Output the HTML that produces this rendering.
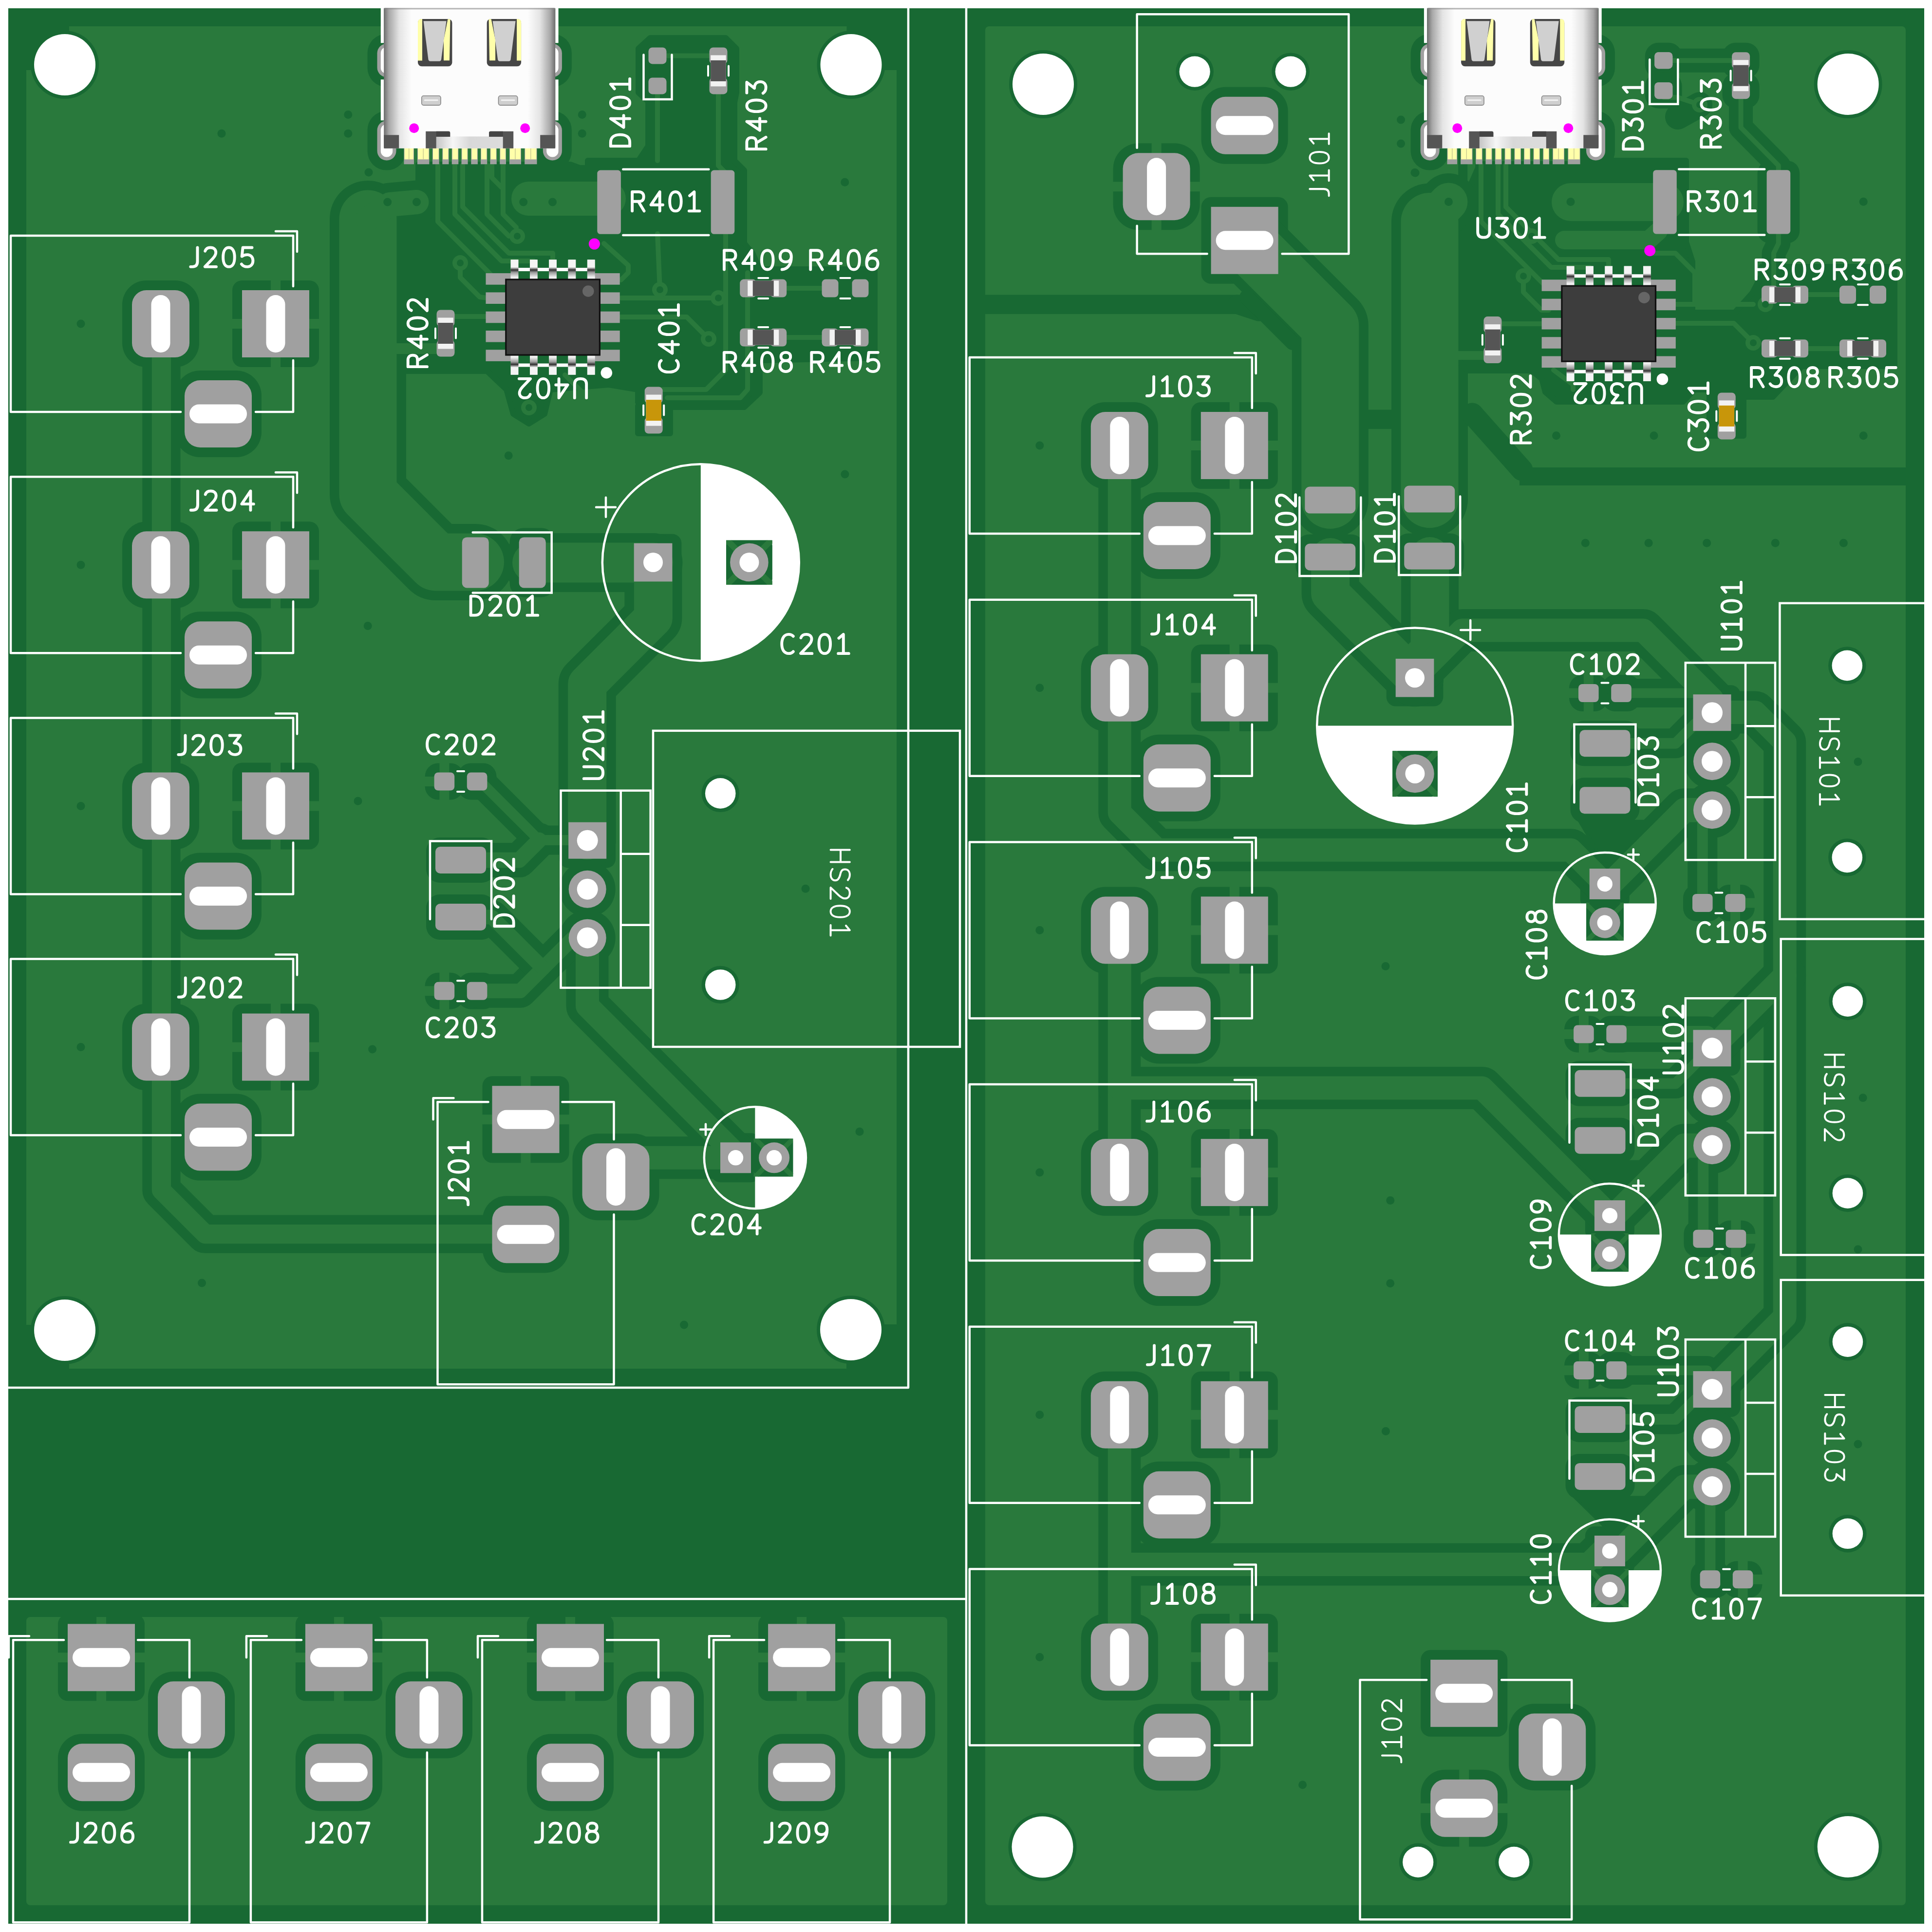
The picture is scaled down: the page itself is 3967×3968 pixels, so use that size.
<!DOCTYPE html><html><head><meta charset="utf-8"><style>html,body{margin:0;padding:0;background:#fff}svg{display:block}</style></head><body><svg width="3967" height="3968" viewBox="0 0 3967 3968">
<defs><linearGradient id="usbg" x1="0" x2="1" y1="0" y2="0"><stop offset="0" stop-color="#6e6e6e"/><stop offset="0.03" stop-color="#a8a8a8"/><stop offset="0.09" stop-color="#e4e4e4"/><stop offset="0.16" stop-color="#fcfcfc"/><stop offset="0.84" stop-color="#fcfcfc"/><stop offset="0.91" stop-color="#e4e4e4"/><stop offset="0.97" stop-color="#a8a8a8"/><stop offset="1" stop-color="#6e6e6e"/></linearGradient><linearGradient id="pinT" x1="0" x2="0" y1="0" y2="1"><stop offset="0" stop-color="#f4f4f4"/><stop offset="0.36" stop-color="#f4f4f4"/><stop offset="0.5" stop-color="#303030"/><stop offset="0.62" stop-color="#9a9a9a"/><stop offset="0.85" stop-color="#f0f0f0"/><stop offset="1" stop-color="#f4f4f4"/></linearGradient><linearGradient id="pinB" x1="0" x2="0" y1="1" y2="0"><stop offset="0" stop-color="#f4f4f4"/><stop offset="0.36" stop-color="#f4f4f4"/><stop offset="0.5" stop-color="#303030"/><stop offset="0.62" stop-color="#9a9a9a"/><stop offset="0.85" stop-color="#f0f0f0"/><stop offset="1" stop-color="#f4f4f4"/></linearGradient><linearGradient id="usbb" x1="0" x2="1"><stop offset="0" stop-color="#c4c4c4"/><stop offset="0.25" stop-color="#f6f6f6"/><stop offset="0.5" stop-color="#d8d8d8"/><stop offset="1" stop-color="#dcdcdc"/></linearGradient></defs>
<rect width="3967" height="3968" fill="#fff"/>
<rect x="17" y="17" width="3934" height="3934" fill="#186933"/>
<g id="zone">
<rect x="54.0" y="54.0" width="1787.0" height="2757.0" rx="8.0" fill="#29793c" />
<rect x="54.0" y="3321.0" width="1891.0" height="592.0" rx="8.0" fill="#29793c" />
<rect x="2023.0" y="54.0" width="1890.0" height="3859.0" rx="8.0" fill="#29793c" />
</g>
<g id="dark">
<circle cx="133.0" cy="133.0" r="70.0" fill="#186933" />
<rect x="50.0" y="50.0" width="92.0" height="94.0" fill="#186933"/>
<circle cx="1747.5" cy="133.0" r="70.0" fill="#186933" />
<rect x="1738.5" y="50.0" width="106.5" height="94.0" fill="#186933"/>
<circle cx="133.0" cy="2732.0" r="70.0" fill="#186933" />
<rect x="50.0" y="2721.0" width="92.0" height="94.0" fill="#186933"/>
<circle cx="1747.0" cy="2731.0" r="70.0" fill="#186933" />
<rect x="1738.0" y="2720.0" width="107.0" height="95.0" fill="#186933"/>
<circle cx="2142.0" cy="173.0" r="70.0" fill="#186933" />
<circle cx="3794.7" cy="173.0" r="70.0" fill="#186933" />
<circle cx="2140.5" cy="3793.6" r="70.0" fill="#186933" />
<circle cx="3794.7" cy="3793.0" r="70.0" fill="#186933" />
<rect transform="translate(566.0,665.0) rotate(0)" x="-89.0" y="-89.0" width="178" height="178" rx="20" fill="#186933"/>
<rect transform="translate(566.0,665.0) rotate(0)" x="-315.0" y="-89.0" width="158" height="178" rx="49.5" fill="#186933"/>
<rect transform="translate(566.0,665.0) rotate(0)" x="-207.0" y="96.0" width="178" height="178" rx="52" fill="#186933"/>
<rect transform="translate(566.0,1160.2) rotate(0)" x="-89.0" y="-89.0" width="178" height="178" rx="20" fill="#186933"/>
<rect transform="translate(566.0,1160.2) rotate(0)" x="-315.0" y="-89.0" width="158" height="178" rx="49.5" fill="#186933"/>
<rect transform="translate(566.0,1160.2) rotate(0)" x="-207.0" y="96.0" width="178" height="178" rx="52" fill="#186933"/>
<rect transform="translate(566.0,1655.4) rotate(0)" x="-89.0" y="-89.0" width="178" height="178" rx="20" fill="#186933"/>
<rect transform="translate(566.0,1655.4) rotate(0)" x="-315.0" y="-89.0" width="158" height="178" rx="49.5" fill="#186933"/>
<rect transform="translate(566.0,1655.4) rotate(0)" x="-207.0" y="96.0" width="178" height="178" rx="52" fill="#186933"/>
<rect transform="translate(566.0,2150.6) rotate(0)" x="-89.0" y="-89.0" width="178" height="178" rx="20" fill="#186933"/>
<rect transform="translate(566.0,2150.6) rotate(0)" x="-315.0" y="-89.0" width="158" height="178" rx="49.5" fill="#186933"/>
<rect transform="translate(566.0,2150.6) rotate(0)" x="-207.0" y="96.0" width="178" height="178" rx="52" fill="#186933"/>
<rect transform="translate(2534.8,915.0) rotate(0)" x="-89.0" y="-89.0" width="178" height="178" rx="20" fill="#186933"/>
<rect transform="translate(2534.8,915.0) rotate(0)" x="-315.0" y="-89.0" width="158" height="178" rx="49.5" fill="#186933"/>
<rect transform="translate(2534.8,915.0) rotate(0)" x="-207.0" y="96.0" width="178" height="178" rx="52" fill="#186933"/>
<rect transform="translate(2534.8,1412.7) rotate(0)" x="-89.0" y="-89.0" width="178" height="178" rx="20" fill="#186933"/>
<rect transform="translate(2534.8,1412.7) rotate(0)" x="-315.0" y="-89.0" width="158" height="178" rx="49.5" fill="#186933"/>
<rect transform="translate(2534.8,1412.7) rotate(0)" x="-207.0" y="96.0" width="178" height="178" rx="52" fill="#186933"/>
<rect transform="translate(2534.8,1910.4) rotate(0)" x="-89.0" y="-89.0" width="178" height="178" rx="20" fill="#186933"/>
<rect transform="translate(2534.8,1910.4) rotate(0)" x="-315.0" y="-89.0" width="158" height="178" rx="49.5" fill="#186933"/>
<rect transform="translate(2534.8,1910.4) rotate(0)" x="-207.0" y="96.0" width="178" height="178" rx="52" fill="#186933"/>
<rect transform="translate(2534.8,2408.1) rotate(0)" x="-89.0" y="-89.0" width="178" height="178" rx="20" fill="#186933"/>
<rect transform="translate(2534.8,2408.1) rotate(0)" x="-315.0" y="-89.0" width="158" height="178" rx="49.5" fill="#186933"/>
<rect transform="translate(2534.8,2408.1) rotate(0)" x="-207.0" y="96.0" width="178" height="178" rx="52" fill="#186933"/>
<rect transform="translate(2534.8,2905.8) rotate(0)" x="-89.0" y="-89.0" width="178" height="178" rx="20" fill="#186933"/>
<rect transform="translate(2534.8,2905.8) rotate(0)" x="-315.0" y="-89.0" width="158" height="178" rx="49.5" fill="#186933"/>
<rect transform="translate(2534.8,2905.8) rotate(0)" x="-207.0" y="96.0" width="178" height="178" rx="52" fill="#186933"/>
<rect transform="translate(2534.8,3403.5) rotate(0)" x="-89.0" y="-89.0" width="178" height="178" rx="20" fill="#186933"/>
<rect transform="translate(2534.8,3403.5) rotate(0)" x="-315.0" y="-89.0" width="158" height="178" rx="49.5" fill="#186933"/>
<rect transform="translate(2534.8,3403.5) rotate(0)" x="-207.0" y="96.0" width="178" height="178" rx="52" fill="#186933"/>
<rect transform="translate(208.0,3404.3) rotate(-90)" x="-89.0" y="-89.0" width="178" height="178" rx="20" fill="#186933"/>
<rect transform="translate(208.0,3404.3) rotate(-90)" x="-315.0" y="-89.0" width="158" height="178" rx="49.5" fill="#186933"/>
<rect transform="translate(208.0,3404.3) rotate(-90)" x="-207.0" y="96.0" width="178" height="178" rx="52" fill="#186933"/>
<rect transform="translate(695.9,3404.3) rotate(-90)" x="-89.0" y="-89.0" width="178" height="178" rx="20" fill="#186933"/>
<rect transform="translate(695.9,3404.3) rotate(-90)" x="-315.0" y="-89.0" width="158" height="178" rx="49.5" fill="#186933"/>
<rect transform="translate(695.9,3404.3) rotate(-90)" x="-207.0" y="96.0" width="178" height="178" rx="52" fill="#186933"/>
<rect transform="translate(1171.0,3404.3) rotate(-90)" x="-89.0" y="-89.0" width="178" height="178" rx="20" fill="#186933"/>
<rect transform="translate(1171.0,3404.3) rotate(-90)" x="-315.0" y="-89.0" width="158" height="178" rx="49.5" fill="#186933"/>
<rect transform="translate(1171.0,3404.3) rotate(-90)" x="-207.0" y="96.0" width="178" height="178" rx="52" fill="#186933"/>
<rect transform="translate(1646.1,3404.3) rotate(-90)" x="-89.0" y="-89.0" width="178" height="178" rx="20" fill="#186933"/>
<rect transform="translate(1646.1,3404.3) rotate(-90)" x="-315.0" y="-89.0" width="158" height="178" rx="49.5" fill="#186933"/>
<rect transform="translate(1646.1,3404.3) rotate(-90)" x="-207.0" y="96.0" width="178" height="178" rx="52" fill="#186933"/>
<rect transform="translate(1079.5,2299.2) rotate(-90)" x="-89.0" y="-89.0" width="178" height="178" rx="20" fill="#186933"/>
<rect transform="translate(1079.5,2299.2) rotate(-90)" x="-315.0" y="-89.0" width="158" height="178" rx="49.5" fill="#186933"/>
<rect transform="translate(1079.5,2299.2) rotate(-90)" x="-207.0" y="96.0" width="178" height="178" rx="52" fill="#186933"/>
<rect transform="translate(2555.6,493.8) rotate(90)" x="-89.0" y="-89.0" width="178" height="178" rx="20" fill="#186933"/>
<rect transform="translate(2555.6,493.8) rotate(90)" x="-315.0" y="-89.0" width="158" height="178" rx="49.5" fill="#186933"/>
<rect transform="translate(2555.6,493.8) rotate(90)" x="-199.5" y="92.0" width="178" height="178" rx="52" fill="#186933"/>
<circle cx="2650.1" cy="147.2" r="38.8" fill="#186933" />
<circle cx="2453.1" cy="147.2" r="38.8" fill="#186933" />
<rect transform="translate(3006.2,3477.8) rotate(-90)" x="-89.0" y="-89.0" width="178" height="178" rx="20" fill="#186933"/>
<rect transform="translate(3006.2,3477.8) rotate(-90)" x="-315.0" y="-89.0" width="158" height="178" rx="49.5" fill="#186933"/>
<rect transform="translate(3006.2,3477.8) rotate(-90)" x="-199.5" y="92.0" width="178" height="178" rx="52" fill="#186933"/>
<circle cx="2911.7" cy="3824.4" r="38.8" fill="#186933" />
<circle cx="3108.7" cy="3824.4" r="38.8" fill="#186933" />
<rect x="754.5" y="69.7" width="79.0" height="108.7" rx="39.0" fill="#186933" />
<rect x="754.5" y="228.0" width="79.0" height="121.6" rx="39.0" fill="#186933" />
<rect x="1094.9" y="69.7" width="79.0" height="108.7" rx="39.0" fill="#186933" />
<rect x="1094.9" y="228.0" width="79.0" height="121.6" rx="39.0" fill="#186933" />
<rect x="2896.6" y="69.7" width="79.0" height="108.7" rx="39.0" fill="#186933" />
<rect x="2896.6" y="228.0" width="79.0" height="121.6" rx="39.0" fill="#186933" />
<rect x="3237.0" y="69.7" width="79.0" height="108.7" rx="39.0" fill="#186933" />
<rect x="3237.0" y="228.0" width="79.0" height="121.6" rx="39.0" fill="#186933" />
<rect x="1207.3" y="330.6" width="86.6" height="169.2" rx="25.0" fill="#186933" />
<rect x="1440.7" y="330.6" width="86.6" height="169.2" rx="25.0" fill="#186933" />
<rect x="929.7" y="1084.4" width="93.0" height="142.0" rx="28.0" fill="#186933" />
<rect x="1046.7" y="1084.4" width="93.0" height="142.0" rx="28.0" fill="#186933" />
<rect x="1282.7" y="1096.7" width="116.7" height="116.7" rx="19.0" fill="#186933" />
<rect x="872.6" y="1567.5" width="79.6" height="75.0" rx="27.0" fill="#186933" />
<rect x="939.8" y="1567.5" width="79.6" height="75.0" rx="27.0" fill="#186933" />
<rect x="875.0" y="1720.0" width="142.0" height="93.0" rx="28.0" fill="#186933" />
<rect x="875.0" y="1837.0" width="142.0" height="93.0" rx="28.0" fill="#186933" />
<rect x="872.6" y="1997.8" width="79.6" height="75.0" rx="27.0" fill="#186933" />
<rect x="939.8" y="1997.8" width="79.6" height="75.0" rx="27.0" fill="#186933" />
<rect x="1148.2" y="1669.7" width="116.0" height="113.0" rx="19.0" fill="#186933" />
<circle cx="1206.2" cy="1826.2" r="57.5" fill="#186933" />
<circle cx="1206.2" cy="1926.2" r="57.5" fill="#186933" />
<circle cx="1479.2" cy="1629.4" r="38.7" fill="#186933" />
<circle cx="1479.2" cy="2022.5" r="38.7" fill="#186933" />
<rect x="1460.0" y="2327.3" width="101.0" height="101.0" rx="19.0" fill="#186933" />
<rect x="3375.2" y="330.2" width="86.6" height="169.2" rx="25.0" fill="#186933" />
<rect x="3608.6" y="330.2" width="86.6" height="169.2" rx="25.0" fill="#186933" />
<rect x="3377.8" y="87.7" width="76.0" height="73.0" rx="27.5" fill="#186933" />
<rect x="3377.8" y="149.7" width="76.0" height="73.0" rx="27.5" fill="#186933" />
<rect x="3536.6" y="87.7" width="76.0" height="73.0" rx="27.5" fill="#186933" />
<rect x="3536.6" y="149.7" width="76.0" height="73.0" rx="27.5" fill="#186933" />
<rect x="2864.2" y="978.5" width="142.0" height="93.0" rx="28.0" fill="#186933" />
<rect x="2864.2" y="1095.5" width="142.0" height="93.0" rx="28.0" fill="#186933" />
<rect x="2660.3" y="980.5" width="142.0" height="93.0" rx="28.0" fill="#186933" />
<rect x="2660.3" y="1097.5" width="142.0" height="93.0" rx="28.0" fill="#186933" />
<rect x="2846.7" y="1333.9" width="116.7" height="116.7" rx="19.0" fill="#186933" />
<rect x="3222.0" y="1386.0" width="79.6" height="75.0" rx="27.0" fill="#186933" />
<rect x="3289.2" y="1386.0" width="79.6" height="75.0" rx="27.0" fill="#186933" />
<rect x="3224.4" y="1480.3" width="142.0" height="93.0" rx="28.0" fill="#186933" />
<rect x="3224.4" y="1597.3" width="142.0" height="93.0" rx="28.0" fill="#186933" />
<rect x="3457.5" y="1407.2" width="116.0" height="113.0" rx="19.0" fill="#186933" />
<circle cx="3515.5" cy="1563.7" r="57.5" fill="#186933" />
<circle cx="3515.5" cy="1663.7" r="57.5" fill="#186933" />
<circle cx="3792.8" cy="1366.9" r="38.7" fill="#186933" />
<circle cx="3792.8" cy="1760.9" r="38.7" fill="#186933" />
<rect x="3244.7" y="1765.0" width="101.0" height="101.0" rx="19.0" fill="#186933" />
<rect x="3456.0" y="1817.0" width="79.6" height="75.0" rx="27.0" fill="#186933" />
<rect x="3523.2" y="1817.0" width="79.6" height="75.0" rx="27.0" fill="#186933" />
<rect x="3212.1" y="2086.5" width="79.6" height="75.0" rx="27.0" fill="#186933" />
<rect x="3279.3" y="2086.5" width="79.6" height="75.0" rx="27.0" fill="#186933" />
<rect x="3214.5" y="2178.8" width="142.0" height="93.0" rx="28.0" fill="#186933" />
<rect x="3214.5" y="2295.8" width="142.0" height="93.0" rx="28.0" fill="#186933" />
<rect x="3457.5" y="2096.3" width="116.0" height="113.0" rx="19.0" fill="#186933" />
<circle cx="3515.5" cy="2252.8" r="57.5" fill="#186933" />
<circle cx="3515.5" cy="2352.8" r="57.5" fill="#186933" />
<circle cx="3793.9" cy="2056.6" r="38.7" fill="#186933" />
<circle cx="3793.9" cy="2450.6" r="38.7" fill="#186933" />
<rect x="3254.9" y="2446.2" width="101.0" height="101.0" rx="19.0" fill="#186933" />
<rect x="3457.4" y="2506.7" width="79.6" height="75.0" rx="27.0" fill="#186933" />
<rect x="3524.6" y="2506.7" width="79.6" height="75.0" rx="27.0" fill="#186933" />
<rect x="3212.1" y="2776.9" width="79.6" height="75.0" rx="27.0" fill="#186933" />
<rect x="3279.3" y="2776.9" width="79.6" height="75.0" rx="27.0" fill="#186933" />
<rect x="3214.5" y="2868.9" width="142.0" height="93.0" rx="28.0" fill="#186933" />
<rect x="3214.5" y="2985.9" width="142.0" height="93.0" rx="28.0" fill="#186933" />
<rect x="3457.5" y="2797.1" width="116.0" height="113.0" rx="19.0" fill="#186933" />
<circle cx="3515.5" cy="2953.6" r="57.5" fill="#186933" />
<circle cx="3515.5" cy="3053.6" r="57.5" fill="#186933" />
<circle cx="3793.9" cy="2755.7" r="38.7" fill="#186933" />
<circle cx="3793.9" cy="3149.8" r="38.7" fill="#186933" />
<rect x="3254.9" y="3134.9" width="101.0" height="101.0" rx="19.0" fill="#186933" />
<rect x="3471.6" y="3206.3" width="79.6" height="75.0" rx="27.0" fill="#186933" />
<rect x="3538.8" y="3206.3" width="79.6" height="75.0" rx="27.0" fill="#186933" />
<path d="M331.4,665.0 L331.4,2444.6 L421.5,2534.7 L1079.5,2534.7" fill="none" stroke="#186933" stroke-width="78.3" stroke-linecap="round" stroke-linejoin="round" />
<path d="M1206.0,1926.4 L1206.0,2066.0 L1510.5,2370.5 L1510.5,2377.8" fill="none" stroke="#186933" stroke-width="87.0" stroke-linecap="round" stroke-linejoin="round" />
<path d="M1265.4,2377.8 L1510.5,2377.8" fill="none" stroke="#186933" stroke-width="87.0" stroke-linecap="round" stroke-linejoin="round" />
<path d="M980.0,1605.0 L986.4,1605.0 L1107.0,1725.6 L1206.0,1725.6" fill="none" stroke="#186933" stroke-width="60.0" stroke-linecap="round" stroke-linejoin="round" />
<path d="M990.0,1766.6 L1066.0,1766.6 L1107.0,1725.6" fill="none" stroke="#186933" stroke-width="71.0" stroke-linecap="round" stroke-linejoin="round" />
<path d="M980.0,2035.3 L1068.0,2035.3 L1177.0,1926.4 L1206.0,1926.4" fill="none" stroke="#186933" stroke-width="69.0" stroke-linecap="round" stroke-linejoin="round" />
<path d="M990.0,1883.5 L1010.0,1883.5 L1114.9,1988.4" fill="none" stroke="#186933" stroke-width="69.0" stroke-linecap="round" stroke-linejoin="round" />
<path d="M1205.7,1726.0 L1205.7,1405.0 L1341.4,1269.3 L1341.4,1155.0" fill="none" stroke="#186933" stroke-width="118.0" stroke-linecap="round" stroke-linejoin="round" />
<path d="M1093.0,1155.5 L1341.0,1155.5" fill="none" stroke="#186933" stroke-width="121.0" stroke-linecap="round" stroke-linejoin="round" />
<path d="M755.5,449.5 L755.5,1015.0 L894.9,1154.4 L976.0,1154.4" fill="none" stroke="#186933" stroke-width="157.0" stroke-linecap="round" stroke-linejoin="round" />
<path d="M2023.0,625.2 L2560.0,625.2" fill="none" stroke="#186933" stroke-width="39.4" stroke-linecap="butt" stroke-linejoin="round" />
<path d="M2540.0,625.2 L2585.0,640.0" fill="none" stroke="#186933" stroke-width="39.4" stroke-linecap="round" stroke-linejoin="round" />
<path d="M2555.6,493.8 L2731.3,669.5 L2731.3,1027.0" fill="none" stroke="#186933" stroke-width="157.0" stroke-linecap="round" stroke-linejoin="round" />
<path d="M2560.0,610.0 L2654.0,704.0" fill="none" stroke="#186933" stroke-width="30" stroke-linecap="round" stroke-linejoin="round" />
<path d="M2731.6,1144.5 L2731.6,1218.8 L2905.0,1392.2" fill="none" stroke="#186933" stroke-width="118.0" stroke-linecap="round" stroke-linejoin="round" />
<path d="M2935.5,455.0 L2935.5,1025.3" fill="none" stroke="#186933" stroke-width="157.0" stroke-linecap="round" stroke-linejoin="round" />
<path d="M2936.0,1142.4 L2936.0,1335.0 L2905.0,1366.0 L2905.0,1392.0" fill="none" stroke="#186933" stroke-width="118.0" stroke-linecap="round" stroke-linejoin="round" />
<path d="M2800.0,861.3 L2866.0,861.3" fill="none" stroke="#186933" stroke-width="39.4" stroke-linecap="butt" stroke-linejoin="round" />
<path d="M3023.0,850.0 L3125.0,965.0" fill="none" stroke="#186933" stroke-width="45" stroke-linecap="round" stroke-linejoin="round" />
<path d="M3120.0,978.5 L3913.0,978.5" fill="none" stroke="#186933" stroke-width="37" stroke-linecap="butt" stroke-linejoin="round" />
<path d="M3003.7,300.0 L3003.7,860.0" fill="none" stroke="#186933" stroke-width="19" stroke-linecap="butt" stroke-linejoin="round" />
<path d="M2298.8,915.0 L2298.8,1669.0 L2375.5,1745.7 L3225.4,1745.7 L3295.2,1815.5" fill="none" stroke="#186933" stroke-width="87.0" stroke-linecap="round" stroke-linejoin="round" />
<path d="M2298.8,1910.3 L2298.8,2408.0" fill="none" stroke="#186933" stroke-width="87.0" stroke-linecap="round" stroke-linejoin="round" />
<path d="M2298.8,2234.5 L3043.2,2234.5 L3305.4,2496.7" fill="none" stroke="#186933" stroke-width="87.0" stroke-linecap="round" stroke-linejoin="round" />
<path d="M2298.8,2905.7 L2298.8,3403.4" fill="none" stroke="#186933" stroke-width="87.0" stroke-linecap="round" stroke-linejoin="round" />
<path d="M2298.8,3213.0 L3262.0,3213.0 L3290.0,3185.4 L3305.4,3185.4" fill="none" stroke="#186933" stroke-width="87.0" stroke-linecap="round" stroke-linejoin="round" />
<path d="M2905.0,1392.2 L3002.7,1294.5 L3374.0,1294.5 L3515.5,1436.0 L3515.5,1463.7" fill="none" stroke="#186933" stroke-width="87.0" stroke-linecap="round" stroke-linejoin="round" />
<path d="M3515.5,1463.0 L3603.7,1463.0 L3664.7,1524.0 L3664.7,2704.4 L3515.5,2853.6" fill="none" stroke="#186933" stroke-width="87.0" stroke-linecap="round" stroke-linejoin="round" />
<path d="M3664.7,2003.6 L3515.5,2152.8" fill="none" stroke="#186933" stroke-width="87.0" stroke-linecap="round" stroke-linejoin="round" />
<path d="M3329.4,1423.5 L3505.5,1423.5" fill="none" stroke="#186933" stroke-width="59.0" stroke-linecap="round" stroke-linejoin="round" />
<path d="M3347.4,1526.8 L3440.5,1526.8 L3480.5,1486.8 L3515.5,1463.7" fill="none" stroke="#186933" stroke-width="61.0" stroke-linecap="round" stroke-linejoin="round" />
<path d="M3515.5,1663.7 L3495.8,1688.7 L3495.8,1854.5" fill="none" stroke="#186933" stroke-width="61.0" stroke-linecap="round" stroke-linejoin="round" />
<path d="M3515.5,1663.7 L3458.5,1663.7 L3306.7,1815.5 L3295.2,1815.5" fill="none" stroke="#186933" stroke-width="89.0" stroke-linecap="round" stroke-linejoin="round" />
<path d="M3243.4,1686.8 L3415.4,1686.8 L3297.2,1777.5Z" fill="#186933" stroke="#186933" stroke-width="6" stroke-linejoin="round"/>
<path d="M3319.5,2124.0 L3505.5,2124.0" fill="none" stroke="#186933" stroke-width="73.0" stroke-linecap="round" stroke-linejoin="round" />
<path d="M3337.5,2225.4 L3440.5,2225.4 L3480.5,2185.4 L3515.5,2152.8" fill="none" stroke="#186933" stroke-width="61.0" stroke-linecap="round" stroke-linejoin="round" />
<path d="M3515.5,2352.8 L3497.2,2377.8 L3497.2,2544.2" fill="none" stroke="#186933" stroke-width="61.0" stroke-linecap="round" stroke-linejoin="round" />
<path d="M3515.5,2352.8 L3458.5,2352.8 L3314.6,2496.7 L3305.4,2496.7" fill="none" stroke="#186933" stroke-width="89.0" stroke-linecap="round" stroke-linejoin="round" />
<path d="M3233.5,2385.7 L3405.5,2385.7 L3307.4,2458.7Z" fill="#186933" stroke="#186933" stroke-width="6" stroke-linejoin="round"/>
<path d="M3319.5,2814.4 L3505.5,2814.4" fill="none" stroke="#186933" stroke-width="59.0" stroke-linecap="round" stroke-linejoin="round" />
<path d="M3337.5,2915.0 L3440.5,2915.0 L3480.5,2875.0 L3515.5,2853.6" fill="none" stroke="#186933" stroke-width="61.0" stroke-linecap="round" stroke-linejoin="round" />
<path d="M3515.5,3053.6 L3511.4,3078.6 L3511.4,3243.8" fill="none" stroke="#186933" stroke-width="61.0" stroke-linecap="round" stroke-linejoin="round" />
<path d="M3515.5,3053.6 L3458.5,3053.6 L3326.7,3185.4 L3305.4,3185.4" fill="none" stroke="#186933" stroke-width="89.0" stroke-linecap="round" stroke-linejoin="round" />
<path d="M3233.5,3075.2 L3405.5,3075.2 L3307.4,3147.4Z" fill="#186933" stroke="#186933" stroke-width="6" stroke-linejoin="round"/>
<path d="M834.0,440.0 L859.0,440.0 L859.0,338.0 L1171.0,338.0 L1190.0,345.0 L1207.0,345.0 L1207.0,330.0 L1311.0,330.0 L1331.0,300.0 L1331.0,208.0 L1311.0,190.0 L1311.0,100.0 L1335.0,78.0 L1490.0,78.0 L1512.0,100.0 L1512.0,190.0 L1508.0,210.0 L1508.0,330.0 L1528.0,350.0 L1528.0,500.0 L1545.0,520.0 L1560.0,553.0 L1796.0,553.0 L1796.0,735.0 L1560.0,740.0 L1560.0,806.0 L1528.0,836.0 L1376.0,836.0 L1376.0,890.0 L1310.0,890.0 L1310.0,800.0 L1250.0,790.0 L1130.0,800.0 L1118.0,850.0 L1086.0,870.0 L1054.0,850.0 L1040.0,800.0 L1000.0,762.0 L834.0,762.0Z" fill="#186933" stroke="#186933" stroke-width="12" stroke-linejoin="round"/>
<path d="M2994.7,458.0 L3013.0,425.0 L3013.0,395.0 L3035.0,345.0 L3035.0,337.0 L3232.0,337.0 L3232.0,330.0 L3462.0,330.0 L3462.0,497.0 L3475.0,537.0 L3475.0,642.0 L3562.0,642.0 L3598.0,602.0 L3617.0,566.0 L3617.0,548.0 L3890.0,548.0 L3890.0,752.0 L3700.0,752.0 L3640.0,815.0 L3580.0,815.0 L3580.0,895.0 L3510.0,895.0 L3510.0,800.0 L3479.0,800.0 L3456.0,825.0 L3196.0,825.0 L3173.0,805.0 L3166.0,778.0 L3145.0,761.0 L3013.0,761.0 L2994.7,740.0Z" fill="#186933" stroke="#186933" stroke-width="12" stroke-linejoin="round"/>
<path d="M755.5,449.5 L800.0,420.0 L855.5,415.0" fill="none" stroke="#186933" stroke-width="89.0" stroke-linecap="round" stroke-linejoin="round" />
<path d="M2935.5,455.0 L2974.5,414.6" fill="none" stroke="#186933" stroke-width="117.0" stroke-linecap="round" stroke-linejoin="round" />
<path d="M3415.8,124.2 L3574.6,124.2" fill="none" stroke="#186933" stroke-width="49.0" stroke-linecap="round" stroke-linejoin="round" />
<path d="M3574.6,186.0 L3574.6,262.0 L3630.0,318.0 L3651.8,340.0 L3651.8,360.0" fill="none" stroke="#186933" stroke-width="49.0" stroke-linecap="round" stroke-linejoin="round" />
<path d="M3651.8,470.0 L3651.8,500.0 L3642.0,520.0 L3642.0,600.0" fill="none" stroke="#186933" stroke-width="49.0" stroke-linecap="round" stroke-linejoin="round" />
<path d="M3445.0,240.0 L3490.0,215.0" fill="none" stroke="#186933" stroke-width="52" stroke-linecap="round" stroke-linejoin="round" />
</g>
<g id="trace">
<rect transform="translate(566.0,665.0) rotate(0)" x="-90.0" y="-10.0" width="180" height="20" fill="#29793c"/>
<rect transform="translate(566.0,665.0) rotate(0)" x="-10.0" y="-90.0" width="20" height="180" fill="#29793c"/>
<rect transform="translate(566.0,1160.2) rotate(0)" x="-90.0" y="-10.0" width="180" height="20" fill="#29793c"/>
<rect transform="translate(566.0,1160.2) rotate(0)" x="-10.0" y="-90.0" width="20" height="180" fill="#29793c"/>
<rect transform="translate(566.0,1655.4) rotate(0)" x="-90.0" y="-10.0" width="180" height="20" fill="#29793c"/>
<rect transform="translate(566.0,1655.4) rotate(0)" x="-10.0" y="-90.0" width="20" height="180" fill="#29793c"/>
<rect transform="translate(566.0,2150.6) rotate(0)" x="-90.0" y="-10.0" width="180" height="20" fill="#29793c"/>
<rect transform="translate(566.0,2150.6) rotate(0)" x="-10.0" y="-90.0" width="20" height="180" fill="#29793c"/>
<rect transform="translate(2534.8,915.0) rotate(0)" x="-90.0" y="-10.0" width="180" height="20" fill="#29793c"/>
<rect transform="translate(2534.8,915.0) rotate(0)" x="-10.0" y="-90.0" width="20" height="180" fill="#29793c"/>
<rect transform="translate(2534.8,1412.7) rotate(0)" x="-90.0" y="-10.0" width="180" height="20" fill="#29793c"/>
<rect transform="translate(2534.8,1412.7) rotate(0)" x="-10.0" y="-90.0" width="20" height="180" fill="#29793c"/>
<rect transform="translate(2534.8,1910.4) rotate(0)" x="-90.0" y="-10.0" width="180" height="20" fill="#29793c"/>
<rect transform="translate(2534.8,1910.4) rotate(0)" x="-10.0" y="-90.0" width="20" height="180" fill="#29793c"/>
<rect transform="translate(2534.8,2408.1) rotate(0)" x="-90.0" y="-10.0" width="180" height="20" fill="#29793c"/>
<rect transform="translate(2534.8,2408.1) rotate(0)" x="-10.0" y="-90.0" width="20" height="180" fill="#29793c"/>
<rect transform="translate(2534.8,2905.8) rotate(0)" x="-90.0" y="-10.0" width="180" height="20" fill="#29793c"/>
<rect transform="translate(2534.8,2905.8) rotate(0)" x="-10.0" y="-90.0" width="20" height="180" fill="#29793c"/>
<rect transform="translate(2534.8,3403.5) rotate(0)" x="-90.0" y="-10.0" width="180" height="20" fill="#29793c"/>
<rect transform="translate(2534.8,3403.5) rotate(0)" x="-10.0" y="-90.0" width="20" height="180" fill="#29793c"/>
<rect transform="translate(208.0,3404.3) rotate(-90)" x="-90.0" y="-10.0" width="180" height="20" fill="#29793c"/>
<rect transform="translate(208.0,3404.3) rotate(-90)" x="-10.0" y="-90.0" width="20" height="180" fill="#29793c"/>
<rect transform="translate(695.9,3404.3) rotate(-90)" x="-90.0" y="-10.0" width="180" height="20" fill="#29793c"/>
<rect transform="translate(695.9,3404.3) rotate(-90)" x="-10.0" y="-90.0" width="20" height="180" fill="#29793c"/>
<rect transform="translate(1171.0,3404.3) rotate(-90)" x="-90.0" y="-10.0" width="180" height="20" fill="#29793c"/>
<rect transform="translate(1171.0,3404.3) rotate(-90)" x="-10.0" y="-90.0" width="20" height="180" fill="#29793c"/>
<rect transform="translate(1646.1,3404.3) rotate(-90)" x="-90.0" y="-10.0" width="180" height="20" fill="#29793c"/>
<rect transform="translate(1646.1,3404.3) rotate(-90)" x="-10.0" y="-90.0" width="20" height="180" fill="#29793c"/>
<rect transform="translate(1079.5,2299.2) rotate(-90)" x="-90.0" y="-10.0" width="180" height="20" fill="#29793c"/>
<rect transform="translate(1079.5,2299.2) rotate(-90)" x="-10.0" y="-90.0" width="20" height="180" fill="#29793c"/>
<rect transform="translate(2555.6,493.8) rotate(90)" x="-200.5" y="171.0" width="180" height="20" fill="#29793c"/>
<rect transform="translate(2555.6,493.8) rotate(90)" x="-120.5" y="91.0" width="20" height="180" fill="#29793c"/>
<rect transform="translate(3006.2,3477.8) rotate(-90)" x="-316.0" y="-10.0" width="160" height="20" fill="#29793c"/>
<rect transform="translate(3006.2,3477.8) rotate(-90)" x="-246.0" y="-90.0" width="20" height="180" fill="#29793c"/>
<rect x="902.4" y="1566.5" width="20.0" height="77.0" rx="0.0" fill="#29793c" />
<rect x="870.6" y="1595.0" width="41.8" height="20.0" rx="0.0" fill="#29793c" />
<rect x="902.4" y="1996.8" width="20.0" height="77.0" rx="0.0" fill="#29793c" />
<rect x="870.6" y="2025.3" width="41.8" height="20.0" rx="0.0" fill="#29793c" />
<rect x="3251.8" y="1385.0" width="20.0" height="77.0" rx="0.0" fill="#29793c" />
<rect x="3220.0" y="1413.5" width="41.8" height="20.0" rx="0.0" fill="#29793c" />
<rect x="3553.0" y="1816.0" width="20.0" height="77.0" rx="0.0" fill="#29793c" />
<rect x="3563.0" y="1844.5" width="41.8" height="20.0" rx="0.0" fill="#29793c" />
<rect x="3241.9" y="2085.5" width="20.0" height="77.0" rx="0.0" fill="#29793c" />
<rect x="3210.1" y="2114.0" width="41.8" height="20.0" rx="0.0" fill="#29793c" />
<rect x="3554.4" y="2505.7" width="20.0" height="77.0" rx="0.0" fill="#29793c" />
<rect x="3564.4" y="2534.2" width="41.8" height="20.0" rx="0.0" fill="#29793c" />
<rect x="3241.9" y="2775.9" width="20.0" height="77.0" rx="0.0" fill="#29793c" />
<rect x="3210.1" y="2804.4" width="41.8" height="20.0" rx="0.0" fill="#29793c" />
<rect x="3568.6" y="3205.3" width="20.0" height="77.0" rx="0.0" fill="#29793c" />
<rect x="3578.6" y="3233.8" width="41.8" height="20.0" rx="0.0" fill="#29793c" />
<path d="M331.4,665.0 L331.4,2444.6 L421.5,2534.7 L1079.5,2534.7" fill="none" stroke="#29793c" stroke-width="39.3" stroke-linecap="round" stroke-linejoin="round" />
<path d="M1206.0,1926.4 L1206.0,2066.0 L1510.5,2370.5 L1510.5,2377.8" fill="none" stroke="#29793c" stroke-width="48" stroke-linecap="round" stroke-linejoin="round" />
<path d="M1265.4,2377.8 L1510.5,2377.8" fill="none" stroke="#29793c" stroke-width="48" stroke-linecap="round" stroke-linejoin="round" />
<path d="M980.0,1605.0 L986.4,1605.0 L1107.0,1725.6 L1206.0,1725.6" fill="none" stroke="#29793c" stroke-width="21" stroke-linecap="round" stroke-linejoin="round" />
<path d="M990.0,1766.6 L1066.0,1766.6 L1107.0,1725.6" fill="none" stroke="#29793c" stroke-width="32" stroke-linecap="round" stroke-linejoin="round" />
<path d="M980.0,2035.3 L1068.0,2035.3 L1177.0,1926.4 L1206.0,1926.4" fill="none" stroke="#29793c" stroke-width="30" stroke-linecap="round" stroke-linejoin="round" />
<path d="M990.0,1883.5 L1010.0,1883.5 L1114.9,1988.4" fill="none" stroke="#29793c" stroke-width="30" stroke-linecap="round" stroke-linejoin="round" />
<path d="M1205.7,1726.0 L1205.7,1405.0 L1341.4,1269.3 L1341.4,1155.0" fill="none" stroke="#29793c" stroke-width="79" stroke-linecap="round" stroke-linejoin="round" />
<path d="M1093.0,1155.5 L1341.0,1155.5" fill="none" stroke="#29793c" stroke-width="82" stroke-linecap="round" stroke-linejoin="round" />
<path d="M755.5,449.5 L755.5,1015.0 L894.9,1154.4 L976.0,1154.4" fill="none" stroke="#29793c" stroke-width="118" stroke-linecap="round" stroke-linejoin="round" />
<path d="M2555.6,493.8 L2731.3,669.5 L2731.3,1027.0" fill="none" stroke="#29793c" stroke-width="118" stroke-linecap="round" stroke-linejoin="round" />
<path d="M2731.6,1144.5 L2731.6,1218.8 L2905.0,1392.2" fill="none" stroke="#29793c" stroke-width="79" stroke-linecap="round" stroke-linejoin="round" />
<path d="M2935.5,455.0 L2935.5,1025.3" fill="none" stroke="#29793c" stroke-width="118" stroke-linecap="round" stroke-linejoin="round" />
<path d="M2936.0,1142.4 L2936.0,1335.0 L2905.0,1366.0 L2905.0,1392.0" fill="none" stroke="#29793c" stroke-width="79" stroke-linecap="round" stroke-linejoin="round" />
<path d="M2298.8,915.0 L2298.8,1669.0 L2375.5,1745.7 L3225.4,1745.7 L3295.2,1815.5" fill="none" stroke="#29793c" stroke-width="48" stroke-linecap="round" stroke-linejoin="round" />
<path d="M2298.8,1910.3 L2298.8,2408.0" fill="none" stroke="#29793c" stroke-width="48" stroke-linecap="round" stroke-linejoin="round" />
<path d="M2298.8,2234.5 L3043.2,2234.5 L3305.4,2496.7" fill="none" stroke="#29793c" stroke-width="48" stroke-linecap="round" stroke-linejoin="round" />
<path d="M2298.8,2905.7 L2298.8,3403.4" fill="none" stroke="#29793c" stroke-width="48" stroke-linecap="round" stroke-linejoin="round" />
<path d="M2298.8,3213.0 L3262.0,3213.0 L3290.0,3185.4 L3305.4,3185.4" fill="none" stroke="#29793c" stroke-width="48" stroke-linecap="round" stroke-linejoin="round" />
<path d="M2905.0,1392.2 L3002.7,1294.5 L3374.0,1294.5 L3515.5,1436.0 L3515.5,1463.7" fill="none" stroke="#29793c" stroke-width="48" stroke-linecap="round" stroke-linejoin="round" />
<path d="M3515.5,1463.0 L3603.7,1463.0 L3664.7,1524.0 L3664.7,2704.4 L3515.5,2853.6" fill="none" stroke="#29793c" stroke-width="48" stroke-linecap="round" stroke-linejoin="round" />
<path d="M3664.7,2003.6 L3515.5,2152.8" fill="none" stroke="#29793c" stroke-width="48" stroke-linecap="round" stroke-linejoin="round" />
<path d="M3329.4,1423.5 L3505.5,1423.5" fill="none" stroke="#29793c" stroke-width="20" stroke-linecap="round" stroke-linejoin="round" />
<path d="M3347.4,1526.8 L3440.5,1526.8 L3480.5,1486.8 L3515.5,1463.7" fill="none" stroke="#29793c" stroke-width="22" stroke-linecap="round" stroke-linejoin="round" />
<path d="M3515.5,1663.7 L3495.8,1688.7 L3495.8,1854.5" fill="none" stroke="#29793c" stroke-width="22" stroke-linecap="round" stroke-linejoin="round" />
<path d="M3515.5,1663.7 L3458.5,1663.7 L3306.7,1815.5 L3295.2,1815.5" fill="none" stroke="#29793c" stroke-width="50" stroke-linecap="round" stroke-linejoin="round" />
<path d="M3319.5,2124.0 L3505.5,2124.0" fill="none" stroke="#29793c" stroke-width="34" stroke-linecap="round" stroke-linejoin="round" />
<path d="M3337.5,2225.4 L3440.5,2225.4 L3480.5,2185.4 L3515.5,2152.8" fill="none" stroke="#29793c" stroke-width="22" stroke-linecap="round" stroke-linejoin="round" />
<path d="M3515.5,2352.8 L3497.2,2377.8 L3497.2,2544.2" fill="none" stroke="#29793c" stroke-width="22" stroke-linecap="round" stroke-linejoin="round" />
<path d="M3515.5,2352.8 L3458.5,2352.8 L3314.6,2496.7 L3305.4,2496.7" fill="none" stroke="#29793c" stroke-width="50" stroke-linecap="round" stroke-linejoin="round" />
<path d="M3319.5,2814.4 L3505.5,2814.4" fill="none" stroke="#29793c" stroke-width="20" stroke-linecap="round" stroke-linejoin="round" />
<path d="M3337.5,2915.0 L3440.5,2915.0 L3480.5,2875.0 L3515.5,2853.6" fill="none" stroke="#29793c" stroke-width="22" stroke-linecap="round" stroke-linejoin="round" />
<path d="M3515.5,3053.6 L3511.4,3078.6 L3511.4,3243.8" fill="none" stroke="#29793c" stroke-width="22" stroke-linecap="round" stroke-linejoin="round" />
<path d="M3515.5,3053.6 L3458.5,3053.6 L3326.7,3185.4 L3305.4,3185.4" fill="none" stroke="#29793c" stroke-width="50" stroke-linecap="round" stroke-linejoin="round" />
<path d="M1085.0,408.0 L1250.0,408.0" fill="none" stroke="#29793c" stroke-width="70" stroke-linecap="round" stroke-linejoin="round" />
<path d="M3225.0,415.0 L3418.0,415.0" fill="none" stroke="#29793c" stroke-width="78" stroke-linecap="round" stroke-linejoin="round" />
<path d="M3212.0,493.0 L3385.0,493.0 L3405.0,475.0" fill="none" stroke="#29793c" stroke-width="38" stroke-linecap="round" stroke-linejoin="round" />
<path d="M755.5,449.5 L800.0,420.0 L855.5,415.0" fill="none" stroke="#29793c" stroke-width="50" stroke-linecap="round" stroke-linejoin="round" />
<path d="M2935.5,455.0 L2974.5,414.6" fill="none" stroke="#29793c" stroke-width="78" stroke-linecap="round" stroke-linejoin="round" />
<path d="M814.0,716.0 L915.0,716.0" fill="none" stroke="#29793c" stroke-width="22" stroke-linecap="butt" stroke-linejoin="round" />
<path d="M2994.0,730.0 L3064.9,730.0" fill="none" stroke="#29793c" stroke-width="18" stroke-linecap="butt" stroke-linejoin="round" />
<path d="M899.0,338.0 L899.0,455.0 L1015.0,571.0 L1056.0,571.0 L1056.0,540.0" fill="none" stroke="#29793c" stroke-width="10" stroke-linecap="round" stroke-linejoin="round" />
<path d="M934.0,338.0 L934.0,440.0 L1030.0,536.0 L1096.0,536.0" fill="none" stroke="#29793c" stroke-width="10" stroke-linecap="round" stroke-linejoin="round" />
<path d="M950.0,338.0 L950.0,425.0 L1045.0,520.0 L1135.0,520.0 L1135.0,540.0" fill="none" stroke="#29793c" stroke-width="10" stroke-linecap="round" stroke-linejoin="round" />
<path d="M1000.0,338.0 L1000.0,440.0 L1045.0,485.0" fill="none" stroke="#29793c" stroke-width="10" stroke-linecap="round" stroke-linejoin="round" />
<path d="M1010.0,338.0 L1010.0,365.0 L1030.0,385.0" fill="none" stroke="#29793c" stroke-width="10" stroke-linecap="round" stroke-linejoin="round" />
<path d="M1033.0,338.0 L1033.0,440.0 L1060.0,467.0" fill="none" stroke="#29793c" stroke-width="10" stroke-linecap="round" stroke-linejoin="round" />
<path d="M945.0,545.0 L945.0,570.0 L985.0,610.0 L1000.0,612.0" fill="none" stroke="#29793c" stroke-width="10" stroke-linecap="round" stroke-linejoin="round" />
<path d="M1020.0,650.0 L915.0,650.0" fill="none" stroke="#29793c" stroke-width="10" stroke-linecap="round" stroke-linejoin="round" />
<path d="M1275.0,612.0 L1470.0,612.0" fill="none" stroke="#29793c" stroke-width="10" stroke-linecap="round" stroke-linejoin="round" />
<path d="M1275.0,651.0 L1410.0,651.0 L1455.0,696.0" fill="none" stroke="#29793c" stroke-width="10" stroke-linecap="round" stroke-linejoin="round" />
<path d="M1350.0,190.0 L1350.0,330.0" fill="none" stroke="#29793c" stroke-width="10" stroke-linecap="round" stroke-linejoin="round" />
<path d="M1350.0,480.0 L1355.0,595.0" fill="none" stroke="#29793c" stroke-width="10" stroke-linecap="round" stroke-linejoin="round" />
<path d="M1475.0,190.0 L1475.0,340.0 L1490.0,355.0 L1490.0,760.0 L1450.0,800.0 L1360.0,800.0" fill="none" stroke="#29793c" stroke-width="10" stroke-linecap="round" stroke-linejoin="round" />
<path d="M1370.0,817.0 L1520.0,817.0 L1535.0,800.0 L1535.0,560.0" fill="none" stroke="#29793c" stroke-width="10" stroke-linecap="round" stroke-linejoin="round" />
<path d="M1240.0,500.0 L1290.0,545.0 L1290.0,560.0 L1275.0,575.0" fill="none" stroke="#29793c" stroke-width="10" stroke-linecap="round" stroke-linejoin="round" />
<path d="M1160.0,770.0 L1220.0,830.0 L1300.0,830.0" fill="none" stroke="#29793c" stroke-width="10" stroke-linecap="round" stroke-linejoin="round" />
<path d="M1600.0,592.0 L1700.0,592.0" fill="none" stroke="#29793c" stroke-width="10" stroke-linecap="round" stroke-linejoin="round" />
<path d="M1600.0,693.0 L1700.0,693.0" fill="none" stroke="#29793c" stroke-width="10" stroke-linecap="round" stroke-linejoin="round" />
<circle cx="1062.0" cy="485.0" r="16.0" fill="#29793c" />
<circle cx="1355.0" cy="595.0" r="16.0" fill="#29793c" />
<circle cx="1475.0" cy="612.0" r="16.0" fill="#29793c" />
<circle cx="1455.0" cy="696.0" r="16.0" fill="#29793c" />
<circle cx="945.0" cy="540.0" r="16.0" fill="#29793c" />
<circle cx="1086.0" cy="837.0" r="16.0" fill="#29793c" />
<path d="M3041.0,338.0 L3041.0,455.0 L3170.0,584.0 L3224.0,584.0 L3224.0,556.0" fill="none" stroke="#29793c" stroke-width="10" stroke-linecap="round" stroke-linejoin="round" />
<path d="M3076.0,338.0 L3076.0,440.0 L3185.0,549.0 L3264.0,549.0" fill="none" stroke="#29793c" stroke-width="10" stroke-linecap="round" stroke-linejoin="round" />
<path d="M3092.0,338.0 L3092.0,425.0 L3200.0,533.0 L3303.0,533.0 L3303.0,556.0" fill="none" stroke="#29793c" stroke-width="10" stroke-linecap="round" stroke-linejoin="round" />
<path d="M3128.0,572.0 L3128.0,600.0 L3165.0,637.0 L3180.0,637.0" fill="none" stroke="#29793c" stroke-width="10" stroke-linecap="round" stroke-linejoin="round" />
<path d="M3185.0,665.0 L3065.0,665.0" fill="none" stroke="#29793c" stroke-width="10" stroke-linecap="round" stroke-linejoin="round" />
<path d="M3440.0,625.0 L3600.0,625.0" fill="none" stroke="#29793c" stroke-width="10" stroke-linecap="round" stroke-linejoin="round" />
<path d="M3440.0,664.0 L3560.0,664.0 L3600.0,704.0" fill="none" stroke="#29793c" stroke-width="10" stroke-linecap="round" stroke-linejoin="round" />
<path d="M3392.0,520.0 L3440.0,520.0 L3480.0,560.0 L3480.0,625.0" fill="none" stroke="#29793c" stroke-width="10" stroke-linecap="round" stroke-linejoin="round" />
<path d="M3230.0,800.0 L3230.0,790.0 L3190.0,760.0" fill="none" stroke="#29793c" stroke-width="10" stroke-linecap="round" stroke-linejoin="round" />
<path d="M3700.0,605.0 L3790.0,605.0" fill="none" stroke="#29793c" stroke-width="10" stroke-linecap="round" stroke-linejoin="round" />
<path d="M3700.0,716.0 L3790.0,716.0" fill="none" stroke="#29793c" stroke-width="10" stroke-linecap="round" stroke-linejoin="round" />
<circle cx="3145.0" cy="485.0" r="16.0" fill="#29793c" />
<circle cx="3128.0" cy="567.0" r="16.0" fill="#29793c" />
<circle cx="3625.0" cy="625.0" r="16.0" fill="#29793c" />
<circle cx="3600.0" cy="704.0" r="16.0" fill="#29793c" />
<rect x="40" y="3290" width="1920" height="31" fill="#186933"/>
<path d="M3415.8,124.2 L3574.6,124.2" fill="none" stroke="#29793c" stroke-width="10" stroke-linecap="round" stroke-linejoin="round" />
<path d="M3574.6,186.0 L3574.6,262.0 L3630.0,318.0 L3651.8,340.0 L3651.8,360.0" fill="none" stroke="#29793c" stroke-width="10" stroke-linecap="round" stroke-linejoin="round" />
<path d="M1350.0,114.4 L1475.0,114.4" fill="none" stroke="#29793c" stroke-width="10" stroke-linecap="round" stroke-linejoin="round" />
<path d="M3651.8,470.0 L3651.8,500.0 L3642.0,520.0 L3642.0,600.0" fill="none" stroke="#29793c" stroke-width="10" stroke-linecap="round" stroke-linejoin="round" />
<circle cx="3490.0" cy="215.0" r="16.0" fill="#29793c" />
<path d="M3415.8,186.0 L3415.8,200.0 L3445.0,200.0 L3490.0,215.0" fill="none" stroke="#29793c" stroke-width="10" stroke-linecap="round" stroke-linejoin="round" />
</g>
<g id="pad">
<rect transform="translate(566.0,665.0) rotate(0)" x="-69.0" y="-69.0" width="138" height="138" rx="0" fill="#a0a0a0"/>
<rect transform="translate(566.0,665.0) rotate(0)" x="-295.0" y="-69.0" width="118" height="138" rx="29.5" fill="#a0a0a0"/>
<rect transform="translate(566.0,665.0) rotate(0)" x="-187.0" y="116.0" width="138" height="138" rx="32" fill="#a0a0a0"/>
<circle cx="166.0" cy="665.0" r="8.5" fill="#186933" />
<rect transform="translate(566.0,1160.2) rotate(0)" x="-69.0" y="-69.0" width="138" height="138" rx="0" fill="#a0a0a0"/>
<rect transform="translate(566.0,1160.2) rotate(0)" x="-295.0" y="-69.0" width="118" height="138" rx="29.5" fill="#a0a0a0"/>
<rect transform="translate(566.0,1160.2) rotate(0)" x="-187.0" y="116.0" width="138" height="138" rx="32" fill="#a0a0a0"/>
<circle cx="166.0" cy="1160.2" r="8.5" fill="#186933" />
<rect transform="translate(566.0,1655.4) rotate(0)" x="-69.0" y="-69.0" width="138" height="138" rx="0" fill="#a0a0a0"/>
<rect transform="translate(566.0,1655.4) rotate(0)" x="-295.0" y="-69.0" width="118" height="138" rx="29.5" fill="#a0a0a0"/>
<rect transform="translate(566.0,1655.4) rotate(0)" x="-187.0" y="116.0" width="138" height="138" rx="32" fill="#a0a0a0"/>
<circle cx="166.0" cy="1655.4" r="8.5" fill="#186933" />
<rect transform="translate(566.0,2150.6) rotate(0)" x="-69.0" y="-69.0" width="138" height="138" rx="0" fill="#a0a0a0"/>
<rect transform="translate(566.0,2150.6) rotate(0)" x="-295.0" y="-69.0" width="118" height="138" rx="29.5" fill="#a0a0a0"/>
<rect transform="translate(566.0,2150.6) rotate(0)" x="-187.0" y="116.0" width="138" height="138" rx="32" fill="#a0a0a0"/>
<circle cx="166.0" cy="2150.6" r="8.5" fill="#186933" />
<rect transform="translate(2534.8,915.0) rotate(0)" x="-69.0" y="-69.0" width="138" height="138" rx="0" fill="#a0a0a0"/>
<rect transform="translate(2534.8,915.0) rotate(0)" x="-295.0" y="-69.0" width="118" height="138" rx="29.5" fill="#a0a0a0"/>
<rect transform="translate(2534.8,915.0) rotate(0)" x="-187.0" y="116.0" width="138" height="138" rx="32" fill="#a0a0a0"/>
<circle cx="2134.8" cy="915.0" r="8.5" fill="#186933" />
<rect transform="translate(2534.8,1412.7) rotate(0)" x="-69.0" y="-69.0" width="138" height="138" rx="0" fill="#a0a0a0"/>
<rect transform="translate(2534.8,1412.7) rotate(0)" x="-295.0" y="-69.0" width="118" height="138" rx="29.5" fill="#a0a0a0"/>
<rect transform="translate(2534.8,1412.7) rotate(0)" x="-187.0" y="116.0" width="138" height="138" rx="32" fill="#a0a0a0"/>
<circle cx="2134.8" cy="1412.7" r="8.5" fill="#186933" />
<rect transform="translate(2534.8,1910.4) rotate(0)" x="-69.0" y="-69.0" width="138" height="138" rx="0" fill="#a0a0a0"/>
<rect transform="translate(2534.8,1910.4) rotate(0)" x="-295.0" y="-69.0" width="118" height="138" rx="29.5" fill="#a0a0a0"/>
<rect transform="translate(2534.8,1910.4) rotate(0)" x="-187.0" y="116.0" width="138" height="138" rx="32" fill="#a0a0a0"/>
<circle cx="2134.8" cy="1910.4" r="8.5" fill="#186933" />
<rect transform="translate(2534.8,2408.1) rotate(0)" x="-69.0" y="-69.0" width="138" height="138" rx="0" fill="#a0a0a0"/>
<rect transform="translate(2534.8,2408.1) rotate(0)" x="-295.0" y="-69.0" width="118" height="138" rx="29.5" fill="#a0a0a0"/>
<rect transform="translate(2534.8,2408.1) rotate(0)" x="-187.0" y="116.0" width="138" height="138" rx="32" fill="#a0a0a0"/>
<circle cx="2134.8" cy="2408.1" r="8.5" fill="#186933" />
<rect transform="translate(2534.8,2905.8) rotate(0)" x="-69.0" y="-69.0" width="138" height="138" rx="0" fill="#a0a0a0"/>
<rect transform="translate(2534.8,2905.8) rotate(0)" x="-295.0" y="-69.0" width="118" height="138" rx="29.5" fill="#a0a0a0"/>
<rect transform="translate(2534.8,2905.8) rotate(0)" x="-187.0" y="116.0" width="138" height="138" rx="32" fill="#a0a0a0"/>
<circle cx="2134.8" cy="2905.8" r="8.5" fill="#186933" />
<rect transform="translate(2534.8,3403.5) rotate(0)" x="-69.0" y="-69.0" width="138" height="138" rx="0" fill="#a0a0a0"/>
<rect transform="translate(2534.8,3403.5) rotate(0)" x="-295.0" y="-69.0" width="118" height="138" rx="29.5" fill="#a0a0a0"/>
<rect transform="translate(2534.8,3403.5) rotate(0)" x="-187.0" y="116.0" width="138" height="138" rx="32" fill="#a0a0a0"/>
<circle cx="2134.8" cy="3403.5" r="8.5" fill="#186933" />
<rect transform="translate(208.0,3404.3) rotate(-90)" x="-69.0" y="-69.0" width="138" height="138" rx="0" fill="#a0a0a0"/>
<rect transform="translate(208.0,3404.3) rotate(-90)" x="-295.0" y="-69.0" width="118" height="138" rx="29.5" fill="#a0a0a0"/>
<rect transform="translate(208.0,3404.3) rotate(-90)" x="-187.0" y="116.0" width="138" height="138" rx="32" fill="#a0a0a0"/>
<rect transform="translate(695.9,3404.3) rotate(-90)" x="-69.0" y="-69.0" width="138" height="138" rx="0" fill="#a0a0a0"/>
<rect transform="translate(695.9,3404.3) rotate(-90)" x="-295.0" y="-69.0" width="118" height="138" rx="29.5" fill="#a0a0a0"/>
<rect transform="translate(695.9,3404.3) rotate(-90)" x="-187.0" y="116.0" width="138" height="138" rx="32" fill="#a0a0a0"/>
<rect transform="translate(1171.0,3404.3) rotate(-90)" x="-69.0" y="-69.0" width="138" height="138" rx="0" fill="#a0a0a0"/>
<rect transform="translate(1171.0,3404.3) rotate(-90)" x="-295.0" y="-69.0" width="118" height="138" rx="29.5" fill="#a0a0a0"/>
<rect transform="translate(1171.0,3404.3) rotate(-90)" x="-187.0" y="116.0" width="138" height="138" rx="32" fill="#a0a0a0"/>
<rect transform="translate(1646.1,3404.3) rotate(-90)" x="-69.0" y="-69.0" width="138" height="138" rx="0" fill="#a0a0a0"/>
<rect transform="translate(1646.1,3404.3) rotate(-90)" x="-295.0" y="-69.0" width="118" height="138" rx="29.5" fill="#a0a0a0"/>
<rect transform="translate(1646.1,3404.3) rotate(-90)" x="-187.0" y="116.0" width="138" height="138" rx="32" fill="#a0a0a0"/>
<rect transform="translate(1079.5,2299.2) rotate(-90)" x="-69.0" y="-69.0" width="138" height="138" rx="0" fill="#a0a0a0"/>
<rect transform="translate(1079.5,2299.2) rotate(-90)" x="-295.0" y="-69.0" width="118" height="138" rx="29.5" fill="#a0a0a0"/>
<rect transform="translate(1079.5,2299.2) rotate(-90)" x="-187.0" y="116.0" width="138" height="138" rx="32" fill="#a0a0a0"/>
<rect transform="translate(2555.6,493.8) rotate(90)" x="-69.0" y="-69.0" width="138" height="138" rx="0" fill="#a0a0a0"/>
<rect transform="translate(2555.6,493.8) rotate(90)" x="-295.0" y="-69.0" width="118" height="138" rx="29.5" fill="#a0a0a0"/>
<rect transform="translate(2555.6,493.8) rotate(90)" x="-179.5" y="112.0" width="138" height="138" rx="32" fill="#a0a0a0"/>
<rect transform="translate(3006.2,3477.8) rotate(-90)" x="-69.0" y="-69.0" width="138" height="138" rx="0" fill="#a0a0a0"/>
<rect transform="translate(3006.2,3477.8) rotate(-90)" x="-295.0" y="-69.0" width="118" height="138" rx="29.5" fill="#a0a0a0"/>
<rect transform="translate(3006.2,3477.8) rotate(-90)" x="-179.5" y="112.0" width="138" height="138" rx="32" fill="#a0a0a0"/>
<rect x="774.5" y="89.7" width="39.0" height="68.7" rx="19.5" fill="#a0a0a0" />
<rect x="774.5" y="248.0" width="39.0" height="81.6" rx="19.5" fill="#a0a0a0" />
<rect x="1114.9" y="89.7" width="39.0" height="68.7" rx="19.5" fill="#a0a0a0" />
<rect x="1114.9" y="248.0" width="39.0" height="81.6" rx="19.5" fill="#a0a0a0" />
<rect x="2916.6" y="89.7" width="39.0" height="68.7" rx="19.5" fill="#a0a0a0" />
<rect x="2916.6" y="248.0" width="39.0" height="81.6" rx="19.5" fill="#a0a0a0" />
<rect x="3257.0" y="89.7" width="39.0" height="68.7" rx="19.5" fill="#a0a0a0" />
<rect x="3257.0" y="248.0" width="39.0" height="81.6" rx="19.5" fill="#a0a0a0" />
<rect x="1226.3" y="349.6" width="48.6" height="131.2" rx="6.5" fill="#a0a0a0" />
<rect x="1459.7" y="349.6" width="48.6" height="131.2" rx="6.5" fill="#a0a0a0" />
<rect x="1331.5" y="97.4" width="37.0" height="34.0" rx="8.0" fill="#a0a0a0" />
<rect x="1331.5" y="159.4" width="37.0" height="34.0" rx="8.0" fill="#a0a0a0" />
<rect x="1456.5" y="97.4" width="37.0" height="34.0" rx="8.0" fill="#a0a0a0" />
<rect x="1456.5" y="159.4" width="37.0" height="34.0" rx="8.0" fill="#a0a0a0" />
<rect x="997.5" y="561.1" width="52.0" height="23.6" rx="0.0" fill="#a0a0a0" />
<rect x="1220.7" y="561.1" width="52.0" height="23.6" rx="0.0" fill="#a0a0a0" />
<rect x="997.5" y="600.4" width="52.0" height="23.6" rx="0.0" fill="#a0a0a0" />
<rect x="1220.7" y="600.4" width="52.0" height="23.6" rx="0.0" fill="#a0a0a0" />
<rect x="997.5" y="639.7" width="52.0" height="23.6" rx="0.0" fill="#a0a0a0" />
<rect x="1220.7" y="639.7" width="52.0" height="23.6" rx="0.0" fill="#a0a0a0" />
<rect x="997.5" y="679.0" width="52.0" height="23.6" rx="0.0" fill="#a0a0a0" />
<rect x="1220.7" y="679.0" width="52.0" height="23.6" rx="0.0" fill="#a0a0a0" />
<rect x="997.5" y="718.3" width="52.0" height="23.6" rx="0.0" fill="#a0a0a0" />
<rect x="1220.7" y="718.3" width="52.0" height="23.6" rx="0.0" fill="#a0a0a0" />
<rect x="896.5" y="636.5" width="37.0" height="34.0" rx="8.0" fill="#a0a0a0" />
<rect x="896.5" y="698.5" width="37.0" height="34.0" rx="8.0" fill="#a0a0a0" />
<rect x="1323.7" y="794.6" width="37.0" height="34.0" rx="8.0" fill="#a0a0a0" />
<rect x="1323.7" y="856.6" width="37.0" height="34.0" rx="8.0" fill="#a0a0a0" />
<rect x="1519.2" y="573.6" width="34.0" height="37.0" rx="8.0" fill="#a0a0a0" />
<rect x="1581.2" y="573.6" width="34.0" height="37.0" rx="8.0" fill="#a0a0a0" />
<rect x="1687.5" y="573.6" width="34.0" height="37.0" rx="8.0" fill="#a0a0a0" />
<rect x="1749.5" y="573.6" width="34.0" height="37.0" rx="8.0" fill="#a0a0a0" />
<rect x="1519.2" y="674.5" width="34.0" height="37.0" rx="8.0" fill="#a0a0a0" />
<rect x="1581.2" y="674.5" width="34.0" height="37.0" rx="8.0" fill="#a0a0a0" />
<rect x="1687.5" y="674.5" width="34.0" height="37.0" rx="8.0" fill="#a0a0a0" />
<rect x="1749.5" y="674.5" width="34.0" height="37.0" rx="8.0" fill="#a0a0a0" />
<rect x="948.7" y="1103.4" width="55.0" height="104.0" rx="10.0" fill="#a0a0a0" />
<rect x="1065.7" y="1103.4" width="55.0" height="104.0" rx="10.0" fill="#a0a0a0" />
<rect x="891.6" y="1586.5" width="41.6" height="37.0" rx="8.0" fill="#a0a0a0" />
<rect x="958.8" y="1586.5" width="41.6" height="37.0" rx="8.0" fill="#a0a0a0" />
<rect x="894.0" y="1739.0" width="104.0" height="55.0" rx="10.0" fill="#a0a0a0" />
<rect x="894.0" y="1856.0" width="104.0" height="55.0" rx="10.0" fill="#a0a0a0" />
<rect x="891.6" y="2016.8" width="41.6" height="37.0" rx="8.0" fill="#a0a0a0" />
<rect x="958.8" y="2016.8" width="41.6" height="37.0" rx="8.0" fill="#a0a0a0" />
<rect x="1167.2" y="1688.7" width="78.0" height="75.0" rx="0.0" fill="#a0a0a0" />
<circle cx="1206.2" cy="1826.2" r="38.5" fill="#a0a0a0" />
<circle cx="1206.2" cy="1926.2" r="38.5" fill="#a0a0a0" />
<rect x="3394.2" y="349.2" width="48.6" height="131.2" rx="6.5" fill="#a0a0a0" />
<rect x="3627.6" y="349.2" width="48.6" height="131.2" rx="6.5" fill="#a0a0a0" />
<rect x="3397.3" y="107.2" width="37.0" height="34.0" rx="8.0" fill="#a0a0a0" />
<rect x="3397.3" y="169.2" width="37.0" height="34.0" rx="8.0" fill="#a0a0a0" />
<rect x="3397.3" y="107.2" width="37.0" height="34.0" rx="8.0" fill="#a0a0a0" />
<rect x="3397.3" y="169.2" width="37.0" height="34.0" rx="8.0" fill="#a0a0a0" />
<rect x="3556.1" y="107.2" width="37.0" height="34.0" rx="8.0" fill="#a0a0a0" />
<rect x="3556.1" y="169.2" width="37.0" height="34.0" rx="8.0" fill="#a0a0a0" />
<rect x="3165.6" y="574.3" width="52.0" height="23.6" rx="0.0" fill="#a0a0a0" />
<rect x="3388.8" y="574.3" width="52.0" height="23.6" rx="0.0" fill="#a0a0a0" />
<rect x="3165.6" y="613.6" width="52.0" height="23.6" rx="0.0" fill="#a0a0a0" />
<rect x="3388.8" y="613.6" width="52.0" height="23.6" rx="0.0" fill="#a0a0a0" />
<rect x="3165.6" y="652.9" width="52.0" height="23.6" rx="0.0" fill="#a0a0a0" />
<rect x="3388.8" y="652.9" width="52.0" height="23.6" rx="0.0" fill="#a0a0a0" />
<rect x="3165.6" y="692.2" width="52.0" height="23.6" rx="0.0" fill="#a0a0a0" />
<rect x="3388.8" y="692.2" width="52.0" height="23.6" rx="0.0" fill="#a0a0a0" />
<rect x="3165.6" y="731.5" width="52.0" height="23.6" rx="0.0" fill="#a0a0a0" />
<rect x="3388.8" y="731.5" width="52.0" height="23.6" rx="0.0" fill="#a0a0a0" />
<rect x="3046.4" y="650.1" width="37.0" height="34.0" rx="8.0" fill="#a0a0a0" />
<rect x="3046.4" y="712.1" width="37.0" height="34.0" rx="8.0" fill="#a0a0a0" />
<rect x="3526.8" y="806.4" width="37.0" height="34.0" rx="8.0" fill="#a0a0a0" />
<rect x="3526.8" y="868.4" width="37.0" height="34.0" rx="8.0" fill="#a0a0a0" />
<rect x="3617.0" y="586.8" width="34.0" height="37.0" rx="8.0" fill="#a0a0a0" />
<rect x="3679.0" y="586.8" width="34.0" height="37.0" rx="8.0" fill="#a0a0a0" />
<rect x="3777.0" y="586.8" width="34.0" height="37.0" rx="8.0" fill="#a0a0a0" />
<rect x="3839.0" y="586.8" width="34.0" height="37.0" rx="8.0" fill="#a0a0a0" />
<rect x="3617.0" y="697.2" width="34.0" height="37.0" rx="8.0" fill="#a0a0a0" />
<rect x="3679.0" y="697.2" width="34.0" height="37.0" rx="8.0" fill="#a0a0a0" />
<rect x="3777.0" y="697.2" width="34.0" height="37.0" rx="8.0" fill="#a0a0a0" />
<rect x="3839.0" y="697.2" width="34.0" height="37.0" rx="8.0" fill="#a0a0a0" />
<rect x="2883.2" y="997.5" width="104.0" height="55.0" rx="10.0" fill="#a0a0a0" />
<rect x="2883.2" y="1114.5" width="104.0" height="55.0" rx="10.0" fill="#a0a0a0" />
<rect x="2679.3" y="999.5" width="104.0" height="55.0" rx="10.0" fill="#a0a0a0" />
<rect x="2679.3" y="1116.5" width="104.0" height="55.0" rx="10.0" fill="#a0a0a0" />
<rect x="3241.0" y="1405.0" width="41.6" height="37.0" rx="8.0" fill="#a0a0a0" />
<rect x="3308.2" y="1405.0" width="41.6" height="37.0" rx="8.0" fill="#a0a0a0" />
<rect x="3243.4" y="1499.3" width="104.0" height="55.0" rx="10.0" fill="#a0a0a0" />
<rect x="3243.4" y="1616.3" width="104.0" height="55.0" rx="10.0" fill="#a0a0a0" />
<rect x="3476.5" y="1426.2" width="78.0" height="75.0" rx="0.0" fill="#a0a0a0" />
<circle cx="3515.5" cy="1563.7" r="38.5" fill="#a0a0a0" />
<circle cx="3515.5" cy="1663.7" r="38.5" fill="#a0a0a0" />
<rect x="3475.0" y="1836.0" width="41.6" height="37.0" rx="8.0" fill="#a0a0a0" />
<rect x="3542.2" y="1836.0" width="41.6" height="37.0" rx="8.0" fill="#a0a0a0" />
<rect x="3231.1" y="2105.5" width="41.6" height="37.0" rx="8.0" fill="#a0a0a0" />
<rect x="3298.3" y="2105.5" width="41.6" height="37.0" rx="8.0" fill="#a0a0a0" />
<rect x="3233.5" y="2197.8" width="104.0" height="55.0" rx="10.0" fill="#a0a0a0" />
<rect x="3233.5" y="2314.8" width="104.0" height="55.0" rx="10.0" fill="#a0a0a0" />
<rect x="3476.5" y="2115.3" width="78.0" height="75.0" rx="0.0" fill="#a0a0a0" />
<circle cx="3515.5" cy="2252.8" r="38.5" fill="#a0a0a0" />
<circle cx="3515.5" cy="2352.8" r="38.5" fill="#a0a0a0" />
<rect x="3476.4" y="2525.7" width="41.6" height="37.0" rx="8.0" fill="#a0a0a0" />
<rect x="3543.6" y="2525.7" width="41.6" height="37.0" rx="8.0" fill="#a0a0a0" />
<rect x="3231.1" y="2795.9" width="41.6" height="37.0" rx="8.0" fill="#a0a0a0" />
<rect x="3298.3" y="2795.9" width="41.6" height="37.0" rx="8.0" fill="#a0a0a0" />
<rect x="3233.5" y="2887.9" width="104.0" height="55.0" rx="10.0" fill="#a0a0a0" />
<rect x="3233.5" y="3004.9" width="104.0" height="55.0" rx="10.0" fill="#a0a0a0" />
<rect x="3476.5" y="2816.1" width="78.0" height="75.0" rx="0.0" fill="#a0a0a0" />
<circle cx="3515.5" cy="2953.6" r="38.5" fill="#a0a0a0" />
<circle cx="3515.5" cy="3053.6" r="38.5" fill="#a0a0a0" />
<rect x="3490.6" y="3225.3" width="41.6" height="37.0" rx="8.0" fill="#a0a0a0" />
<rect x="3557.8" y="3225.3" width="41.6" height="37.0" rx="8.0" fill="#a0a0a0" />
<circle cx="1062.0" cy="485.0" r="7.0" fill="#186933" />
<circle cx="1355.0" cy="595.0" r="7.0" fill="#186933" />
<circle cx="1475.0" cy="612.0" r="7.0" fill="#186933" />
<circle cx="1455.0" cy="696.0" r="7.0" fill="#186933" />
<circle cx="945.0" cy="540.0" r="7.0" fill="#186933" />
<circle cx="1086.0" cy="837.0" r="7.0" fill="#186933" />
<circle cx="3145.0" cy="485.0" r="7.0" fill="#186933" />
<circle cx="3128.0" cy="567.0" r="7.0" fill="#186933" />
<circle cx="3625.0" cy="625.0" r="7.0" fill="#186933" />
<circle cx="3600.0" cy="704.0" r="7.0" fill="#186933" />
<circle cx="795.7" cy="415.0" r="8.5" fill="#186933" />
<circle cx="855.5" cy="415.0" r="8.5" fill="#186933" />
<circle cx="1074.7" cy="415.0" r="8.5" fill="#186933" />
<circle cx="1134.5" cy="415.0" r="8.5" fill="#186933" />
<circle cx="2974.5" cy="414.6" r="8.5" fill="#186933" />
<circle cx="3225.0" cy="414.6" r="8.5" fill="#186933" />
<circle cx="2906.0" cy="355.0" r="8.5" fill="#186933" />
<circle cx="757.0" cy="354.0" r="8.5" fill="#186933" />
<circle cx="455.0" cy="274.3" r="8.5" fill="#186933" />
<circle cx="714.8" cy="235.5" r="8.5" fill="#186933" />
<circle cx="714.8" cy="274.3" r="8.5" fill="#186933" />
<circle cx="1195.3" cy="235.5" r="8.5" fill="#186933" />
<circle cx="1195.3" cy="274.3" r="8.5" fill="#186933" />
<circle cx="1044.2" cy="935.8" r="8.5" fill="#186933" />
<circle cx="1734.7" cy="374.2" r="8.5" fill="#186933" />
<circle cx="755.2" cy="1285.6" r="8.5" fill="#186933" />
<circle cx="735.0" cy="1645.3" r="8.5" fill="#186933" />
<circle cx="1734.9" cy="974.1" r="8.5" fill="#186933" />
<circle cx="1654.0" cy="1825.3" r="8.5" fill="#186933" />
<circle cx="764.6" cy="2155.0" r="8.5" fill="#186933" />
<circle cx="414.5" cy="2635.0" r="8.5" fill="#186933" />
<circle cx="1765.0" cy="2324.3" r="8.5" fill="#186933" />
<circle cx="1404.6" cy="2721.1" r="8.5" fill="#186933" />
<circle cx="2845.0" cy="1984.6" r="8.5" fill="#186933" />
<circle cx="3255.3" cy="1115.2" r="8.5" fill="#186933" />
<circle cx="3385.1" cy="1115.2" r="8.5" fill="#186933" />
<circle cx="3504.7" cy="1115.2" r="8.5" fill="#186933" />
<circle cx="3645.3" cy="1115.2" r="8.5" fill="#186933" />
<circle cx="3785.4" cy="1115.2" r="8.5" fill="#186933" />
<circle cx="3815.0" cy="1564.4" r="8.5" fill="#186933" />
<circle cx="3826.2" cy="414.2" r="8.5" fill="#186933" />
<circle cx="3195.5" cy="894.7" r="8.5" fill="#186933" />
<circle cx="3396.0" cy="894.7" r="8.5" fill="#186933" />
<circle cx="3826.2" cy="894.7" r="8.5" fill="#186933" />
<circle cx="2854.7" cy="2635.8" r="8.5" fill="#186933" />
<circle cx="2854.8" cy="2465.4" r="8.5" fill="#186933" />
<circle cx="2845.4" cy="2939.5" r="8.5" fill="#186933" />
<circle cx="2674.6" cy="3665.7" r="8.5" fill="#186933" />
<circle cx="3825.2" cy="2254.7" r="8.5" fill="#186933" />
<circle cx="3815.0" cy="2566.0" r="8.5" fill="#186933" />
<circle cx="3815.0" cy="2966.0" r="8.5" fill="#186933" />
<circle cx="2876.5" cy="245.9" r="8.5" fill="#186933" />
<circle cx="2876.5" cy="295.0" r="8.5" fill="#186933" />
<circle cx="2905.0" cy="354.6" r="8.5" fill="#186933" />
<circle cx="3490.0" cy="215.0" r="7.0" fill="#186933" />
</g>
<g id="hole">
<circle cx="133.0" cy="133.0" r="63.0" fill="#ffffff" />
<circle cx="1747.5" cy="133.0" r="63.0" fill="#ffffff" />
<circle cx="133.0" cy="2732.0" r="63.0" fill="#ffffff" />
<circle cx="1747.0" cy="2731.0" r="63.0" fill="#ffffff" />
<circle cx="2142.0" cy="173.0" r="63.0" fill="#ffffff" />
<circle cx="3794.7" cy="173.0" r="63.0" fill="#ffffff" />
<circle cx="2140.5" cy="3793.6" r="63.0" fill="#ffffff" />
<circle cx="3794.7" cy="3793.0" r="63.0" fill="#ffffff" />
<rect transform="translate(566.0,665.0) rotate(0)" x="-19.5" y="-59.0" width="39" height="118" rx="19.5" fill="#ffffff"/>
<rect transform="translate(566.0,665.0) rotate(0)" x="-255.5" y="-59.0" width="39" height="118" rx="19.5" fill="#ffffff"/>
<rect transform="translate(566.0,665.0) rotate(0)" x="-177.0" y="165.5" width="118" height="39" rx="19.5" fill="#ffffff"/>
<rect transform="translate(566.0,1160.2) rotate(0)" x="-19.5" y="-59.0" width="39" height="118" rx="19.5" fill="#ffffff"/>
<rect transform="translate(566.0,1160.2) rotate(0)" x="-255.5" y="-59.0" width="39" height="118" rx="19.5" fill="#ffffff"/>
<rect transform="translate(566.0,1160.2) rotate(0)" x="-177.0" y="165.5" width="118" height="39" rx="19.5" fill="#ffffff"/>
<rect transform="translate(566.0,1655.4) rotate(0)" x="-19.5" y="-59.0" width="39" height="118" rx="19.5" fill="#ffffff"/>
<rect transform="translate(566.0,1655.4) rotate(0)" x="-255.5" y="-59.0" width="39" height="118" rx="19.5" fill="#ffffff"/>
<rect transform="translate(566.0,1655.4) rotate(0)" x="-177.0" y="165.5" width="118" height="39" rx="19.5" fill="#ffffff"/>
<rect transform="translate(566.0,2150.6) rotate(0)" x="-19.5" y="-59.0" width="39" height="118" rx="19.5" fill="#ffffff"/>
<rect transform="translate(566.0,2150.6) rotate(0)" x="-255.5" y="-59.0" width="39" height="118" rx="19.5" fill="#ffffff"/>
<rect transform="translate(566.0,2150.6) rotate(0)" x="-177.0" y="165.5" width="118" height="39" rx="19.5" fill="#ffffff"/>
<rect transform="translate(2534.8,915.0) rotate(0)" x="-19.5" y="-59.0" width="39" height="118" rx="19.5" fill="#ffffff"/>
<rect transform="translate(2534.8,915.0) rotate(0)" x="-255.5" y="-59.0" width="39" height="118" rx="19.5" fill="#ffffff"/>
<rect transform="translate(2534.8,915.0) rotate(0)" x="-177.0" y="165.5" width="118" height="39" rx="19.5" fill="#ffffff"/>
<rect transform="translate(2534.8,1412.7) rotate(0)" x="-19.5" y="-59.0" width="39" height="118" rx="19.5" fill="#ffffff"/>
<rect transform="translate(2534.8,1412.7) rotate(0)" x="-255.5" y="-59.0" width="39" height="118" rx="19.5" fill="#ffffff"/>
<rect transform="translate(2534.8,1412.7) rotate(0)" x="-177.0" y="165.5" width="118" height="39" rx="19.5" fill="#ffffff"/>
<rect transform="translate(2534.8,1910.4) rotate(0)" x="-19.5" y="-59.0" width="39" height="118" rx="19.5" fill="#ffffff"/>
<rect transform="translate(2534.8,1910.4) rotate(0)" x="-255.5" y="-59.0" width="39" height="118" rx="19.5" fill="#ffffff"/>
<rect transform="translate(2534.8,1910.4) rotate(0)" x="-177.0" y="165.5" width="118" height="39" rx="19.5" fill="#ffffff"/>
<rect transform="translate(2534.8,2408.1) rotate(0)" x="-19.5" y="-59.0" width="39" height="118" rx="19.5" fill="#ffffff"/>
<rect transform="translate(2534.8,2408.1) rotate(0)" x="-255.5" y="-59.0" width="39" height="118" rx="19.5" fill="#ffffff"/>
<rect transform="translate(2534.8,2408.1) rotate(0)" x="-177.0" y="165.5" width="118" height="39" rx="19.5" fill="#ffffff"/>
<rect transform="translate(2534.8,2905.8) rotate(0)" x="-19.5" y="-59.0" width="39" height="118" rx="19.5" fill="#ffffff"/>
<rect transform="translate(2534.8,2905.8) rotate(0)" x="-255.5" y="-59.0" width="39" height="118" rx="19.5" fill="#ffffff"/>
<rect transform="translate(2534.8,2905.8) rotate(0)" x="-177.0" y="165.5" width="118" height="39" rx="19.5" fill="#ffffff"/>
<rect transform="translate(2534.8,3403.5) rotate(0)" x="-19.5" y="-59.0" width="39" height="118" rx="19.5" fill="#ffffff"/>
<rect transform="translate(2534.8,3403.5) rotate(0)" x="-255.5" y="-59.0" width="39" height="118" rx="19.5" fill="#ffffff"/>
<rect transform="translate(2534.8,3403.5) rotate(0)" x="-177.0" y="165.5" width="118" height="39" rx="19.5" fill="#ffffff"/>
<rect transform="translate(208.0,3404.3) rotate(-90)" x="-19.5" y="-59.0" width="39" height="118" rx="19.5" fill="#ffffff"/>
<rect transform="translate(208.0,3404.3) rotate(-90)" x="-255.5" y="-59.0" width="39" height="118" rx="19.5" fill="#ffffff"/>
<rect transform="translate(208.0,3404.3) rotate(-90)" x="-177.0" y="165.5" width="118" height="39" rx="19.5" fill="#ffffff"/>
<rect transform="translate(695.9,3404.3) rotate(-90)" x="-19.5" y="-59.0" width="39" height="118" rx="19.5" fill="#ffffff"/>
<rect transform="translate(695.9,3404.3) rotate(-90)" x="-255.5" y="-59.0" width="39" height="118" rx="19.5" fill="#ffffff"/>
<rect transform="translate(695.9,3404.3) rotate(-90)" x="-177.0" y="165.5" width="118" height="39" rx="19.5" fill="#ffffff"/>
<rect transform="translate(1171.0,3404.3) rotate(-90)" x="-19.5" y="-59.0" width="39" height="118" rx="19.5" fill="#ffffff"/>
<rect transform="translate(1171.0,3404.3) rotate(-90)" x="-255.5" y="-59.0" width="39" height="118" rx="19.5" fill="#ffffff"/>
<rect transform="translate(1171.0,3404.3) rotate(-90)" x="-177.0" y="165.5" width="118" height="39" rx="19.5" fill="#ffffff"/>
<rect transform="translate(1646.1,3404.3) rotate(-90)" x="-19.5" y="-59.0" width="39" height="118" rx="19.5" fill="#ffffff"/>
<rect transform="translate(1646.1,3404.3) rotate(-90)" x="-255.5" y="-59.0" width="39" height="118" rx="19.5" fill="#ffffff"/>
<rect transform="translate(1646.1,3404.3) rotate(-90)" x="-177.0" y="165.5" width="118" height="39" rx="19.5" fill="#ffffff"/>
<rect transform="translate(1079.5,2299.2) rotate(-90)" x="-19.5" y="-59.0" width="39" height="118" rx="19.5" fill="#ffffff"/>
<rect transform="translate(1079.5,2299.2) rotate(-90)" x="-255.5" y="-59.0" width="39" height="118" rx="19.5" fill="#ffffff"/>
<rect transform="translate(1079.5,2299.2) rotate(-90)" x="-177.0" y="165.5" width="118" height="39" rx="19.5" fill="#ffffff"/>
<rect transform="translate(2555.6,493.8) rotate(90)" x="-19.5" y="-59.0" width="39" height="118" rx="19.5" fill="#ffffff"/>
<rect transform="translate(2555.6,493.8) rotate(90)" x="-255.5" y="-59.0" width="39" height="118" rx="19.5" fill="#ffffff"/>
<rect transform="translate(2555.6,493.8) rotate(90)" x="-169.5" y="161.5" width="118" height="39" rx="19.5" fill="#ffffff"/>
<circle cx="2650.1" cy="147.2" r="31.6" fill="#ffffff" />
<circle cx="2453.1" cy="147.2" r="31.6" fill="#ffffff" />
<rect transform="translate(3006.2,3477.8) rotate(-90)" x="-19.5" y="-59.0" width="39" height="118" rx="19.5" fill="#ffffff"/>
<rect transform="translate(3006.2,3477.8) rotate(-90)" x="-255.5" y="-59.0" width="39" height="118" rx="19.5" fill="#ffffff"/>
<rect transform="translate(3006.2,3477.8) rotate(-90)" x="-169.5" y="161.5" width="118" height="39" rx="19.5" fill="#ffffff"/>
<circle cx="2911.7" cy="3824.4" r="31.6" fill="#ffffff" />
<circle cx="3108.7" cy="3824.4" r="31.6" fill="#ffffff" />
<rect x="781.8" y="96.7" width="24.4" height="54.7" rx="12.2" fill="#ffffff" />
<rect x="781.8" y="255.0" width="24.4" height="67.6" rx="12.2" fill="#ffffff" />
<rect x="1122.2" y="96.7" width="24.4" height="54.7" rx="12.2" fill="#ffffff" />
<rect x="1122.2" y="255.0" width="24.4" height="67.6" rx="12.2" fill="#ffffff" />
<rect x="2923.9" y="96.7" width="24.4" height="54.7" rx="12.2" fill="#ffffff" />
<rect x="2923.9" y="255.0" width="24.4" height="67.6" rx="12.2" fill="#ffffff" />
<rect x="3264.3" y="96.7" width="24.4" height="54.7" rx="12.2" fill="#ffffff" />
<rect x="3264.3" y="255.0" width="24.4" height="67.6" rx="12.2" fill="#ffffff" />
<circle cx="1206.2" cy="1726.2" r="21.5" fill="#ffffff" />
<circle cx="1206.2" cy="1826.2" r="21.5" fill="#ffffff" />
<circle cx="1206.2" cy="1926.2" r="21.5" fill="#ffffff" />
<circle cx="1479.2" cy="1629.4" r="31.3" fill="#ffffff" />
<circle cx="1479.2" cy="2022.5" r="31.3" fill="#ffffff" />
<circle cx="3515.5" cy="1463.7" r="21.5" fill="#ffffff" />
<circle cx="3515.5" cy="1563.7" r="21.5" fill="#ffffff" />
<circle cx="3515.5" cy="1663.7" r="21.5" fill="#ffffff" />
<circle cx="3792.8" cy="1366.9" r="31.3" fill="#ffffff" />
<circle cx="3792.8" cy="1760.9" r="31.3" fill="#ffffff" />
<circle cx="3515.5" cy="2152.8" r="21.5" fill="#ffffff" />
<circle cx="3515.5" cy="2252.8" r="21.5" fill="#ffffff" />
<circle cx="3515.5" cy="2352.8" r="21.5" fill="#ffffff" />
<circle cx="3793.9" cy="2056.6" r="31.3" fill="#ffffff" />
<circle cx="3793.9" cy="2450.6" r="31.3" fill="#ffffff" />
<circle cx="3515.5" cy="2853.6" r="21.5" fill="#ffffff" />
<circle cx="3515.5" cy="2953.6" r="21.5" fill="#ffffff" />
<circle cx="3515.5" cy="3053.6" r="21.5" fill="#ffffff" />
<circle cx="3793.9" cy="2755.7" r="31.3" fill="#ffffff" />
<circle cx="3793.9" cy="3149.8" r="31.3" fill="#ffffff" />
</g>
<g id="silk">
<path d="M602.0,484.0 L22.0,484.0 L22.0,846.0 L371.0,846.0" fill="none" stroke="#ffffff" stroke-width="4.5" stroke-linecap="round" stroke-linejoin="round" />
<path d="M525.0,846.0 L602.0,846.0 L602.0,740.0" fill="none" stroke="#ffffff" stroke-width="4.5" stroke-linecap="round" stroke-linejoin="round" />
<path d="M602.0,588.0 L602.0,484.0" fill="none" stroke="#ffffff" stroke-width="4.5" stroke-linecap="round" stroke-linejoin="round" />
<path d="M566.0,475.0 L610.0,475.0 L610.0,517.0" fill="none" stroke="#ffffff" stroke-width="4.5" stroke-linecap="round" stroke-linejoin="round" />
<g transform="translate(454.6,528.2) rotate(0) scale(39.30)" fill="none" stroke="#ffffff" stroke-width="0.1501" stroke-linecap="round" stroke-linejoin="round"><path transform="translate(-1.650,-0.5)" d="M.4,0V.72C.4,.92 .3,1 .14,1H.04"/><path transform="translate(-0.870,-0.5)" d="M.02,.18C.06,.06 .16,0 .3,0C.47,0 .58,.1 .58,.25C.58,.37 .52,.46 .42,.57L.01,1H.6"/><path transform="translate(0.090,-0.5)" d="M.3,0C.1,0 0,.2 0,.5C0,.8 .1,1 .3,1C.5,1 .6,.8 .6,.5C.6,.2 .5,0 .3,0Z"/><path transform="translate(1.050,-0.5)" d="M.55,0H.07L.02,.46C.1,.4 .18,.37 .3,.37C.48,.37 .6,.5 .6,.68C.6,.88 .48,1 .3,1C.16,1 .06,.95 0,.86"/></g>
<path d="M602.0,979.2 L22.0,979.2 L22.0,1341.2 L371.0,1341.2" fill="none" stroke="#ffffff" stroke-width="4.5" stroke-linecap="round" stroke-linejoin="round" />
<path d="M525.0,1341.2 L602.0,1341.2 L602.0,1235.2" fill="none" stroke="#ffffff" stroke-width="4.5" stroke-linecap="round" stroke-linejoin="round" />
<path d="M602.0,1083.2 L602.0,979.2" fill="none" stroke="#ffffff" stroke-width="4.5" stroke-linecap="round" stroke-linejoin="round" />
<path d="M566.0,970.2 L610.0,970.2 L610.0,1012.2" fill="none" stroke="#ffffff" stroke-width="4.5" stroke-linecap="round" stroke-linejoin="round" />
<g transform="translate(455.5,1028.1) rotate(0) scale(39.30)" fill="none" stroke="#ffffff" stroke-width="0.1501" stroke-linecap="round" stroke-linejoin="round"><path transform="translate(-1.660,-0.5)" d="M.4,0V.72C.4,.92 .3,1 .14,1H.04"/><path transform="translate(-0.880,-0.5)" d="M.02,.18C.06,.06 .16,0 .3,0C.47,0 .58,.1 .58,.25C.58,.37 .52,.46 .42,.57L.01,1H.6"/><path transform="translate(0.080,-0.5)" d="M.3,0C.1,0 0,.2 0,.5C0,.8 .1,1 .3,1C.5,1 .6,.8 .6,.5C.6,.2 .5,0 .3,0Z"/><path transform="translate(1.040,-0.5)" d="M.46,1V0L0,.68H.62"/></g>
<path d="M602.0,1474.4 L22.0,1474.4 L22.0,1836.4 L371.0,1836.4" fill="none" stroke="#ffffff" stroke-width="4.5" stroke-linecap="round" stroke-linejoin="round" />
<path d="M525.0,1836.4 L602.0,1836.4 L602.0,1730.4" fill="none" stroke="#ffffff" stroke-width="4.5" stroke-linecap="round" stroke-linejoin="round" />
<path d="M602.0,1578.4 L602.0,1474.4" fill="none" stroke="#ffffff" stroke-width="4.5" stroke-linecap="round" stroke-linejoin="round" />
<path d="M566.0,1465.4 L610.0,1465.4 L610.0,1507.4" fill="none" stroke="#ffffff" stroke-width="4.5" stroke-linecap="round" stroke-linejoin="round" />
<g transform="translate(429.6,1530.2) rotate(0) scale(39.30)" fill="none" stroke="#ffffff" stroke-width="0.1501" stroke-linecap="round" stroke-linejoin="round"><path transform="translate(-1.650,-0.5)" d="M.4,0V.72C.4,.92 .3,1 .14,1H.04"/><path transform="translate(-0.870,-0.5)" d="M.02,.18C.06,.06 .16,0 .3,0C.47,0 .58,.1 .58,.25C.58,.37 .52,.46 .42,.57L.01,1H.6"/><path transform="translate(0.090,-0.5)" d="M.3,0C.1,0 0,.2 0,.5C0,.8 .1,1 .3,1C.5,1 .6,.8 .6,.5C.6,.2 .5,0 .3,0Z"/><path transform="translate(1.050,-0.5)" d="M.02,0H.57L.26,.4C.46,.4 .6,.5 .6,.7C.6,.9 .47,1 .3,1C.16,1 .06,.95 0,.85"/></g>
<path d="M602.0,1969.6 L22.0,1969.6 L22.0,2331.6 L371.0,2331.6" fill="none" stroke="#ffffff" stroke-width="4.5" stroke-linecap="round" stroke-linejoin="round" />
<path d="M525.0,2331.6 L602.0,2331.6 L602.0,2225.6" fill="none" stroke="#ffffff" stroke-width="4.5" stroke-linecap="round" stroke-linejoin="round" />
<path d="M602.0,2073.6 L602.0,1969.6" fill="none" stroke="#ffffff" stroke-width="4.5" stroke-linecap="round" stroke-linejoin="round" />
<path d="M566.0,1960.6 L610.0,1960.6 L610.0,2002.6" fill="none" stroke="#ffffff" stroke-width="4.5" stroke-linecap="round" stroke-linejoin="round" />
<g transform="translate(429.9,2028.1) rotate(0) scale(39.30)" fill="none" stroke="#ffffff" stroke-width="0.1501" stroke-linecap="round" stroke-linejoin="round"><path transform="translate(-1.650,-0.5)" d="M.4,0V.72C.4,.92 .3,1 .14,1H.04"/><path transform="translate(-0.870,-0.5)" d="M.02,.18C.06,.06 .16,0 .3,0C.47,0 .58,.1 .58,.25C.58,.37 .52,.46 .42,.57L.01,1H.6"/><path transform="translate(0.090,-0.5)" d="M.3,0C.1,0 0,.2 0,.5C0,.8 .1,1 .3,1C.5,1 .6,.8 .6,.5C.6,.2 .5,0 .3,0Z"/><path transform="translate(1.050,-0.5)" d="M.02,.18C.06,.06 .16,0 .3,0C.47,0 .58,.1 .58,.25C.58,.37 .52,.46 .42,.57L.01,1H.6"/></g>
<path d="M2570.8,734.0 L1990.8,734.0 L1990.8,1096.0 L2339.8,1096.0" fill="none" stroke="#ffffff" stroke-width="4.5" stroke-linecap="round" stroke-linejoin="round" />
<path d="M2493.8,1096.0 L2570.8,1096.0 L2570.8,990.0" fill="none" stroke="#ffffff" stroke-width="4.5" stroke-linecap="round" stroke-linejoin="round" />
<path d="M2570.8,838.0 L2570.8,734.0" fill="none" stroke="#ffffff" stroke-width="4.5" stroke-linecap="round" stroke-linejoin="round" />
<path d="M2534.8,725.0 L2578.8,725.0 L2578.8,767.0" fill="none" stroke="#ffffff" stroke-width="4.5" stroke-linecap="round" stroke-linejoin="round" />
<g transform="translate(2418.2,793.3) rotate(0) scale(39.30)" fill="none" stroke="#ffffff" stroke-width="0.1501" stroke-linecap="round" stroke-linejoin="round"><path transform="translate(-1.650,-0.5)" d="M.4,0V.72C.4,.92 .3,1 .14,1H.04"/><path transform="translate(-0.870,-0.5)" d="M.08,.2L.32,0V1M.05,1H.6"/><path transform="translate(0.090,-0.5)" d="M.3,0C.1,0 0,.2 0,.5C0,.8 .1,1 .3,1C.5,1 .6,.8 .6,.5C.6,.2 .5,0 .3,0Z"/><path transform="translate(1.050,-0.5)" d="M.02,0H.57L.26,.4C.46,.4 .6,.5 .6,.7C.6,.9 .47,1 .3,1C.16,1 .06,.95 0,.85"/></g>
<path d="M2570.8,1231.7 L1990.8,1231.7 L1990.8,1593.7 L2339.8,1593.7" fill="none" stroke="#ffffff" stroke-width="4.5" stroke-linecap="round" stroke-linejoin="round" />
<path d="M2493.8,1593.7 L2570.8,1593.7 L2570.8,1487.7" fill="none" stroke="#ffffff" stroke-width="4.5" stroke-linecap="round" stroke-linejoin="round" />
<path d="M2570.8,1335.7 L2570.8,1231.7" fill="none" stroke="#ffffff" stroke-width="4.5" stroke-linecap="round" stroke-linejoin="round" />
<path d="M2534.8,1222.7 L2578.8,1222.7 L2578.8,1264.7" fill="none" stroke="#ffffff" stroke-width="4.5" stroke-linecap="round" stroke-linejoin="round" />
<g transform="translate(2428.6,1282.6) rotate(0) scale(39.30)" fill="none" stroke="#ffffff" stroke-width="0.1501" stroke-linecap="round" stroke-linejoin="round"><path transform="translate(-1.660,-0.5)" d="M.4,0V.72C.4,.92 .3,1 .14,1H.04"/><path transform="translate(-0.880,-0.5)" d="M.08,.2L.32,0V1M.05,1H.6"/><path transform="translate(0.080,-0.5)" d="M.3,0C.1,0 0,.2 0,.5C0,.8 .1,1 .3,1C.5,1 .6,.8 .6,.5C.6,.2 .5,0 .3,0Z"/><path transform="translate(1.040,-0.5)" d="M.46,1V0L0,.68H.62"/></g>
<path d="M2570.8,1729.4 L1990.8,1729.4 L1990.8,2091.4 L2339.8,2091.4" fill="none" stroke="#ffffff" stroke-width="4.5" stroke-linecap="round" stroke-linejoin="round" />
<path d="M2493.8,2091.4 L2570.8,2091.4 L2570.8,1985.4" fill="none" stroke="#ffffff" stroke-width="4.5" stroke-linecap="round" stroke-linejoin="round" />
<path d="M2570.8,1833.4 L2570.8,1729.4" fill="none" stroke="#ffffff" stroke-width="4.5" stroke-linecap="round" stroke-linejoin="round" />
<path d="M2534.8,1720.4 L2578.8,1720.4 L2578.8,1762.4" fill="none" stroke="#ffffff" stroke-width="4.5" stroke-linecap="round" stroke-linejoin="round" />
<g transform="translate(2418.0,1782.6) rotate(0) scale(39.30)" fill="none" stroke="#ffffff" stroke-width="0.1501" stroke-linecap="round" stroke-linejoin="round"><path transform="translate(-1.650,-0.5)" d="M.4,0V.72C.4,.92 .3,1 .14,1H.04"/><path transform="translate(-0.870,-0.5)" d="M.08,.2L.32,0V1M.05,1H.6"/><path transform="translate(0.090,-0.5)" d="M.3,0C.1,0 0,.2 0,.5C0,.8 .1,1 .3,1C.5,1 .6,.8 .6,.5C.6,.2 .5,0 .3,0Z"/><path transform="translate(1.050,-0.5)" d="M.55,0H.07L.02,.46C.1,.4 .18,.37 .3,.37C.48,.37 .6,.5 .6,.68C.6,.88 .48,1 .3,1C.16,1 .06,.95 0,.86"/></g>
<path d="M2570.8,2227.1 L1990.8,2227.1 L1990.8,2589.1 L2339.8,2589.1" fill="none" stroke="#ffffff" stroke-width="4.5" stroke-linecap="round" stroke-linejoin="round" />
<path d="M2493.8,2589.1 L2570.8,2589.1 L2570.8,2483.1" fill="none" stroke="#ffffff" stroke-width="4.5" stroke-linecap="round" stroke-linejoin="round" />
<path d="M2570.8,2331.1 L2570.8,2227.1" fill="none" stroke="#ffffff" stroke-width="4.5" stroke-linecap="round" stroke-linejoin="round" />
<path d="M2534.8,2218.1 L2578.8,2218.1 L2578.8,2260.1" fill="none" stroke="#ffffff" stroke-width="4.5" stroke-linecap="round" stroke-linejoin="round" />
<g transform="translate(2418.4,2283.0) rotate(0) scale(39.30)" fill="none" stroke="#ffffff" stroke-width="0.1501" stroke-linecap="round" stroke-linejoin="round"><path transform="translate(-1.650,-0.5)" d="M.4,0V.72C.4,.92 .3,1 .14,1H.04"/><path transform="translate(-0.870,-0.5)" d="M.08,.2L.32,0V1M.05,1H.6"/><path transform="translate(0.090,-0.5)" d="M.3,0C.1,0 0,.2 0,.5C0,.8 .1,1 .3,1C.5,1 .6,.8 .6,.5C.6,.2 .5,0 .3,0Z"/><path transform="translate(1.050,-0.5)" d="M.5,0C.22,.02 .01,.25 .01,.66C.01,.88 .12,1 .3,1C.48,1 .6,.88 .6,.69C.6,.5 .48,.4 .3,.4C.14,.4 .03,.5 .01,.66"/></g>
<path d="M2570.8,2724.8 L1990.8,2724.8 L1990.8,3086.8 L2339.8,3086.8" fill="none" stroke="#ffffff" stroke-width="4.5" stroke-linecap="round" stroke-linejoin="round" />
<path d="M2493.8,3086.8 L2570.8,3086.8 L2570.8,2980.8" fill="none" stroke="#ffffff" stroke-width="4.5" stroke-linecap="round" stroke-linejoin="round" />
<path d="M2570.8,2828.8 L2570.8,2724.8" fill="none" stroke="#ffffff" stroke-width="4.5" stroke-linecap="round" stroke-linejoin="round" />
<path d="M2534.8,2715.8 L2578.8,2715.8 L2578.8,2757.8" fill="none" stroke="#ffffff" stroke-width="4.5" stroke-linecap="round" stroke-linejoin="round" />
<g transform="translate(2419.2,2783.2) rotate(0) scale(39.30)" fill="none" stroke="#ffffff" stroke-width="0.1501" stroke-linecap="round" stroke-linejoin="round"><path transform="translate(-1.650,-0.5)" d="M.4,0V.72C.4,.92 .3,1 .14,1H.04"/><path transform="translate(-0.870,-0.5)" d="M.08,.2L.32,0V1M.05,1H.6"/><path transform="translate(0.090,-0.5)" d="M.3,0C.1,0 0,.2 0,.5C0,.8 .1,1 .3,1C.5,1 .6,.8 .6,.5C.6,.2 .5,0 .3,0Z"/><path transform="translate(1.050,-0.5)" d="M0,0H.6L.22,1"/></g>
<path d="M2570.8,3222.5 L1990.8,3222.5 L1990.8,3584.5 L2339.8,3584.5" fill="none" stroke="#ffffff" stroke-width="4.5" stroke-linecap="round" stroke-linejoin="round" />
<path d="M2493.8,3584.5 L2570.8,3584.5 L2570.8,3478.5" fill="none" stroke="#ffffff" stroke-width="4.5" stroke-linecap="round" stroke-linejoin="round" />
<path d="M2570.8,3326.5 L2570.8,3222.5" fill="none" stroke="#ffffff" stroke-width="4.5" stroke-linecap="round" stroke-linejoin="round" />
<path d="M2534.8,3213.5 L2578.8,3213.5 L2578.8,3255.5" fill="none" stroke="#ffffff" stroke-width="4.5" stroke-linecap="round" stroke-linejoin="round" />
<g transform="translate(2428.3,3273.4) rotate(0) scale(39.30)" fill="none" stroke="#ffffff" stroke-width="0.1501" stroke-linecap="round" stroke-linejoin="round"><path transform="translate(-1.650,-0.5)" d="M.4,0V.72C.4,.92 .3,1 .14,1H.04"/><path transform="translate(-0.870,-0.5)" d="M.08,.2L.32,0V1M.05,1H.6"/><path transform="translate(0.090,-0.5)" d="M.3,0C.1,0 0,.2 0,.5C0,.8 .1,1 .3,1C.5,1 .6,.8 .6,.5C.6,.2 .5,0 .3,0Z"/><path transform="translate(1.050,-0.5)" d="M.3,.43C.12,.43 .05,.33 .05,.22C.05,.08 .15,0 .3,0C.45,0 .55,.08 .55,.22C.55,.33 .48,.43 .3,.43C.1,.43 0,.55 0,.71C0,.88 .12,1 .3,1C.48,1 .6,.88 .6,.71C.6,.55 .5,.43 .3,.43"/></g>
<path d="M27.0,3368.3 L27.0,3948.3 L389.0,3948.3 L389.0,3599.3" fill="none" stroke="#ffffff" stroke-width="4.5" stroke-linecap="round" stroke-linejoin="round" />
<path d="M389.0,3445.3 L389.0,3368.3 L283.0,3368.3" fill="none" stroke="#ffffff" stroke-width="4.5" stroke-linecap="round" stroke-linejoin="round" />
<path d="M131.0,3368.3 L27.0,3368.3" fill="none" stroke="#ffffff" stroke-width="4.5" stroke-linecap="round" stroke-linejoin="round" />
<path d="M18.0,3404.3 L18.0,3360.3 L60.0,3360.3" fill="none" stroke="#ffffff" stroke-width="4.5" stroke-linecap="round" stroke-linejoin="round" />
<g transform="translate(208.3,3764.0) rotate(0) scale(39.30)" fill="none" stroke="#ffffff" stroke-width="0.1501" stroke-linecap="round" stroke-linejoin="round"><path transform="translate(-1.650,-0.5)" d="M.4,0V.72C.4,.92 .3,1 .14,1H.04"/><path transform="translate(-0.870,-0.5)" d="M.02,.18C.06,.06 .16,0 .3,0C.47,0 .58,.1 .58,.25C.58,.37 .52,.46 .42,.57L.01,1H.6"/><path transform="translate(0.090,-0.5)" d="M.3,0C.1,0 0,.2 0,.5C0,.8 .1,1 .3,1C.5,1 .6,.8 .6,.5C.6,.2 .5,0 .3,0Z"/><path transform="translate(1.050,-0.5)" d="M.5,0C.22,.02 .01,.25 .01,.66C.01,.88 .12,1 .3,1C.48,1 .6,.88 .6,.69C.6,.5 .48,.4 .3,.4C.14,.4 .03,.5 .01,.66"/></g>
<path d="M514.9,3368.3 L514.9,3948.3 L876.9,3948.3 L876.9,3599.3" fill="none" stroke="#ffffff" stroke-width="4.5" stroke-linecap="round" stroke-linejoin="round" />
<path d="M876.9,3445.3 L876.9,3368.3 L770.9,3368.3" fill="none" stroke="#ffffff" stroke-width="4.5" stroke-linecap="round" stroke-linejoin="round" />
<path d="M618.9,3368.3 L514.9,3368.3" fill="none" stroke="#ffffff" stroke-width="4.5" stroke-linecap="round" stroke-linejoin="round" />
<path d="M505.9,3404.3 L505.9,3360.3 L547.9,3360.3" fill="none" stroke="#ffffff" stroke-width="4.5" stroke-linecap="round" stroke-linejoin="round" />
<g transform="translate(692.6,3764.0) rotate(0) scale(39.30)" fill="none" stroke="#ffffff" stroke-width="0.1501" stroke-linecap="round" stroke-linejoin="round"><path transform="translate(-1.650,-0.5)" d="M.4,0V.72C.4,.92 .3,1 .14,1H.04"/><path transform="translate(-0.870,-0.5)" d="M.02,.18C.06,.06 .16,0 .3,0C.47,0 .58,.1 .58,.25C.58,.37 .52,.46 .42,.57L.01,1H.6"/><path transform="translate(0.090,-0.5)" d="M.3,0C.1,0 0,.2 0,.5C0,.8 .1,1 .3,1C.5,1 .6,.8 .6,.5C.6,.2 .5,0 .3,0Z"/><path transform="translate(1.050,-0.5)" d="M0,0H.6L.22,1"/></g>
<path d="M990.0,3368.3 L990.0,3948.3 L1352.0,3948.3 L1352.0,3599.3" fill="none" stroke="#ffffff" stroke-width="4.5" stroke-linecap="round" stroke-linejoin="round" />
<path d="M1352.0,3445.3 L1352.0,3368.3 L1246.0,3368.3" fill="none" stroke="#ffffff" stroke-width="4.5" stroke-linecap="round" stroke-linejoin="round" />
<path d="M1094.0,3368.3 L990.0,3368.3" fill="none" stroke="#ffffff" stroke-width="4.5" stroke-linecap="round" stroke-linejoin="round" />
<path d="M981.0,3404.3 L981.0,3360.3 L1023.0,3360.3" fill="none" stroke="#ffffff" stroke-width="4.5" stroke-linecap="round" stroke-linejoin="round" />
<g transform="translate(1162.8,3764.0) rotate(0) scale(39.30)" fill="none" stroke="#ffffff" stroke-width="0.1501" stroke-linecap="round" stroke-linejoin="round"><path transform="translate(-1.650,-0.5)" d="M.4,0V.72C.4,.92 .3,1 .14,1H.04"/><path transform="translate(-0.870,-0.5)" d="M.02,.18C.06,.06 .16,0 .3,0C.47,0 .58,.1 .58,.25C.58,.37 .52,.46 .42,.57L.01,1H.6"/><path transform="translate(0.090,-0.5)" d="M.3,0C.1,0 0,.2 0,.5C0,.8 .1,1 .3,1C.5,1 .6,.8 .6,.5C.6,.2 .5,0 .3,0Z"/><path transform="translate(1.050,-0.5)" d="M.3,.43C.12,.43 .05,.33 .05,.22C.05,.08 .15,0 .3,0C.45,0 .55,.08 .55,.22C.55,.33 .48,.43 .3,.43C.1,.43 0,.55 0,.71C0,.88 .12,1 .3,1C.48,1 .6,.88 .6,.71C.6,.55 .5,.43 .3,.43"/></g>
<path d="M1465.1,3368.3 L1465.1,3948.3 L1827.1,3948.3 L1827.1,3599.3" fill="none" stroke="#ffffff" stroke-width="4.5" stroke-linecap="round" stroke-linejoin="round" />
<path d="M1827.1,3445.3 L1827.1,3368.3 L1721.1,3368.3" fill="none" stroke="#ffffff" stroke-width="4.5" stroke-linecap="round" stroke-linejoin="round" />
<path d="M1569.1,3368.3 L1465.1,3368.3" fill="none" stroke="#ffffff" stroke-width="4.5" stroke-linecap="round" stroke-linejoin="round" />
<path d="M1456.1,3404.3 L1456.1,3360.3 L1498.1,3360.3" fill="none" stroke="#ffffff" stroke-width="4.5" stroke-linecap="round" stroke-linejoin="round" />
<g transform="translate(1633.9,3764.0) rotate(0) scale(39.30)" fill="none" stroke="#ffffff" stroke-width="0.1501" stroke-linecap="round" stroke-linejoin="round"><path transform="translate(-1.650,-0.5)" d="M.4,0V.72C.4,.92 .3,1 .14,1H.04"/><path transform="translate(-0.870,-0.5)" d="M.02,.18C.06,.06 .16,0 .3,0C.47,0 .58,.1 .58,.25C.58,.37 .52,.46 .42,.57L.01,1H.6"/><path transform="translate(0.090,-0.5)" d="M.3,0C.1,0 0,.2 0,.5C0,.8 .1,1 .3,1C.5,1 .6,.8 .6,.5C.6,.2 .5,0 .3,0Z"/><path transform="translate(1.050,-0.5)" d="M.1,1C.38,.98 .59,.75 .59,.34C.59,.12 .48,0 .3,0C.12,0 0,.12 0,.31C0,.5 .12,.6 .3,.6C.46,.6 .57,.5 .59,.34"/></g>
<path d="M898.5,2263.2 L898.5,2843.2 L1260.5,2843.2 L1260.5,2494.2" fill="none" stroke="#ffffff" stroke-width="4.5" stroke-linecap="round" stroke-linejoin="round" />
<path d="M1260.5,2340.2 L1260.5,2263.2 L1154.5,2263.2" fill="none" stroke="#ffffff" stroke-width="4.5" stroke-linecap="round" stroke-linejoin="round" />
<path d="M1002.5,2263.2 L898.5,2263.2" fill="none" stroke="#ffffff" stroke-width="4.5" stroke-linecap="round" stroke-linejoin="round" />
<path d="M889.5,2299.2 L889.5,2255.2 L931.5,2255.2" fill="none" stroke="#ffffff" stroke-width="4.5" stroke-linecap="round" stroke-linejoin="round" />
<g transform="translate(941.5,2411.0) rotate(-90) scale(39.30)" fill="none" stroke="#ffffff" stroke-width="0.1501" stroke-linecap="round" stroke-linejoin="round"><path transform="translate(-1.650,-0.5)" d="M.4,0V.72C.4,.92 .3,1 .14,1H.04"/><path transform="translate(-0.870,-0.5)" d="M.02,.18C.06,.06 .16,0 .3,0C.47,0 .58,.1 .58,.25C.58,.37 .52,.46 .42,.57L.01,1H.6"/><path transform="translate(0.090,-0.5)" d="M.3,0C.1,0 0,.2 0,.5C0,.8 .1,1 .3,1C.5,1 .6,.8 .6,.5C.6,.2 .5,0 .3,0Z"/><path transform="translate(1.050,-0.5)" d="M.08,.2L.32,0V1M.05,1H.6"/></g>
<path d="M2632.6,521.3 L2769.3,521.3 L2769.3,29.3 L2334.6,29.3 L2334.6,303.8" fill="none" stroke="#ffffff" stroke-width="4.5" stroke-linecap="round" stroke-linejoin="round" />
<path d="M2334.6,463.8 L2334.6,521.3 L2478.6,521.3" fill="none" stroke="#ffffff" stroke-width="4.5" stroke-linecap="round" stroke-linejoin="round" />
<g transform="translate(2709.0,339.0) rotate(-90) scale(39.30)" fill="none" stroke="#ffffff" stroke-width="0.1018" stroke-linecap="round" stroke-linejoin="round"><path transform="translate(-1.650,-0.5)" d="M.4,0V.72C.4,.92 .3,1 .14,1H.04"/><path transform="translate(-0.870,-0.5)" d="M.08,.2L.32,0V1M.05,1H.6"/><path transform="translate(0.090,-0.5)" d="M.3,0C.1,0 0,.2 0,.5C0,.8 .1,1 .3,1C.5,1 .6,.8 .6,.5C.6,.2 .5,0 .3,0Z"/><path transform="translate(1.050,-0.5)" d="M.08,.2L.32,0V1M.05,1H.6"/></g>
<path d="M2929.2,3450.3 L2792.5,3450.3 L2792.5,3942.3 L3227.2,3942.3 L3227.2,3667.8" fill="none" stroke="#ffffff" stroke-width="4.5" stroke-linecap="round" stroke-linejoin="round" />
<path d="M3227.2,3507.8 L3227.2,3450.3 L3083.2,3450.3" fill="none" stroke="#ffffff" stroke-width="4.5" stroke-linecap="round" stroke-linejoin="round" />
<g transform="translate(2857.6,3556.3) rotate(-90) scale(39.30)" fill="none" stroke="#ffffff" stroke-width="0.1018" stroke-linecap="round" stroke-linejoin="round"><path transform="translate(-1.650,-0.5)" d="M.4,0V.72C.4,.92 .3,1 .14,1H.04"/><path transform="translate(-0.870,-0.5)" d="M.08,.2L.32,0V1M.05,1H.6"/><path transform="translate(0.090,-0.5)" d="M.3,0C.1,0 0,.2 0,.5C0,.8 .1,1 .3,1C.5,1 .6,.8 .6,.5C.6,.2 .5,0 .3,0Z"/><path transform="translate(1.050,-0.5)" d="M.02,.18C.06,.06 .16,0 .3,0C.47,0 .58,.1 .58,.25C.58,.37 .52,.46 .42,.57L.01,1H.6"/></g>
<path d="M1279.3,347.8 L1455.3,347.8" fill="none" stroke="#ffffff" stroke-width="4.5" stroke-linecap="round" stroke-linejoin="round" />
<path d="M1279.3,482.9 L1455.3,482.9" fill="none" stroke="#ffffff" stroke-width="4.5" stroke-linecap="round" stroke-linejoin="round" />
<g transform="translate(1367.3,413.7) rotate(0) scale(39.30)" fill="none" stroke="#ffffff" stroke-width="0.1501" stroke-linecap="round" stroke-linejoin="round"><path transform="translate(-1.760,-0.5)" d="M0,1V0H.34C.52,0 .6,.1 .6,.25C.6,.42 .52,.5 .34,.5H0M.32,.5L.62,1"/><path transform="translate(-0.780,-0.5)" d="M.46,1V0L0,.68H.62"/><path transform="translate(0.200,-0.5)" d="M.3,0C.1,0 0,.2 0,.5C0,.8 .1,1 .3,1C.5,1 .6,.8 .6,.5C.6,.2 .5,0 .3,0Z"/><path transform="translate(1.160,-0.5)" d="M.08,.2L.32,0V1M.05,1H.6"/></g>
<path d="M1321.5,112.4 L1321.5,203.9 L1379.5,203.9 L1379.5,112.4" fill="none" stroke="#ffffff" stroke-width="4.5" stroke-linecap="round" stroke-linejoin="miter" />
<g transform="translate(1273.5,231.0) rotate(-90) scale(39.30)" fill="none" stroke="#ffffff" stroke-width="0.1501" stroke-linecap="round" stroke-linejoin="round"><path transform="translate(-1.760,-0.5)" d="M0,1V0H.2C.46,0 .6,.18 .6,.5C.6,.82 .46,1 .2,1Z"/><path transform="translate(-0.780,-0.5)" d="M.46,1V0L0,.68H.62"/><path transform="translate(0.200,-0.5)" d="M.3,0C.1,0 0,.2 0,.5C0,.8 .1,1 .3,1C.5,1 .6,.8 .6,.5C.6,.2 .5,0 .3,0Z"/><path transform="translate(1.160,-0.5)" d="M.08,.2L.32,0V1M.05,1H.6"/></g>
<path d="M1454.0,135.4 L1454.0,155.4" fill="none" stroke="#ffffff" stroke-width="4" stroke-linecap="round" stroke-linejoin="round" />
<path d="M1496.0,135.4 L1496.0,155.4" fill="none" stroke="#ffffff" stroke-width="4" stroke-linecap="round" stroke-linejoin="round" />
<g transform="translate(1553.0,237.0) rotate(-90) scale(39.30)" fill="none" stroke="#ffffff" stroke-width="0.1501" stroke-linecap="round" stroke-linejoin="round"><path transform="translate(-1.760,-0.5)" d="M0,1V0H.34C.52,0 .6,.1 .6,.25C.6,.42 .52,.5 .34,.5H0M.32,.5L.62,1"/><path transform="translate(-0.780,-0.5)" d="M.46,1V0L0,.68H.62"/><path transform="translate(0.200,-0.5)" d="M.3,0C.1,0 0,.2 0,.5C0,.8 .1,1 .3,1C.5,1 .6,.8 .6,.5C.6,.2 .5,0 .3,0Z"/><path transform="translate(1.160,-0.5)" d="M.02,0H.57L.26,.4C.46,.4 .6,.5 .6,.7C.6,.9 .47,1 .3,1C.16,1 .06,.95 0,.85"/></g>
<path d="M1048.8,553.5 L1221.4,553.5" fill="none" stroke="#ffffff" stroke-width="7" stroke-linecap="butt" stroke-linejoin="round" />
<path d="M1048.8,750.0 L1221.4,750.0" fill="none" stroke="#ffffff" stroke-width="7" stroke-linecap="butt" stroke-linejoin="round" />
<circle cx="1245.3" cy="765.7" r="11.8" fill="#ffffff" />
<g transform="translate(1135.0,797.5) rotate(180) scale(39.30)" fill="none" stroke="#ffffff" stroke-width="0.1501" stroke-linecap="round" stroke-linejoin="round"><path transform="translate(-1.760,-0.5)" d="M0,0V.72C0,.9 .1,1 .31,1C.52,1 .62,.9 .62,.72V0"/><path transform="translate(-0.780,-0.5)" d="M.46,1V0L0,.68H.62"/><path transform="translate(0.200,-0.5)" d="M.3,0C.1,0 0,.2 0,.5C0,.8 .1,1 .3,1C.5,1 .6,.8 .6,.5C.6,.2 .5,0 .3,0Z"/><path transform="translate(1.160,-0.5)" d="M.02,.18C.06,.06 .16,0 .3,0C.47,0 .58,.1 .58,.25C.58,.37 .52,.46 .42,.57L.01,1H.6"/></g>
<path d="M894.0,674.5 L894.0,694.5" fill="none" stroke="#ffffff" stroke-width="4" stroke-linecap="round" stroke-linejoin="round" />
<path d="M936.0,674.5 L936.0,694.5" fill="none" stroke="#ffffff" stroke-width="4" stroke-linecap="round" stroke-linejoin="round" />
<g transform="translate(857.3,684.0) rotate(-90) scale(39.30)" fill="none" stroke="#ffffff" stroke-width="0.1501" stroke-linecap="round" stroke-linejoin="round"><path transform="translate(-1.760,-0.5)" d="M0,1V0H.34C.52,0 .6,.1 .6,.25C.6,.42 .52,.5 .34,.5H0M.32,.5L.62,1"/><path transform="translate(-0.780,-0.5)" d="M.46,1V0L0,.68H.62"/><path transform="translate(0.200,-0.5)" d="M.3,0C.1,0 0,.2 0,.5C0,.8 .1,1 .3,1C.5,1 .6,.8 .6,.5C.6,.2 .5,0 .3,0Z"/><path transform="translate(1.160,-0.5)" d="M.02,.18C.06,.06 .16,0 .3,0C.47,0 .58,.1 .58,.25C.58,.37 .52,.46 .42,.57L.01,1H.6"/></g>
<path d="M1321.2,832.6 L1321.2,852.6" fill="none" stroke="#ffffff" stroke-width="4" stroke-linecap="round" stroke-linejoin="round" />
<path d="M1363.2,832.6 L1363.2,852.6" fill="none" stroke="#ffffff" stroke-width="4" stroke-linecap="round" stroke-linejoin="round" />
<g transform="translate(1373.3,695.0) rotate(-90) scale(39.30)" fill="none" stroke="#ffffff" stroke-width="0.1501" stroke-linecap="round" stroke-linejoin="round"><path transform="translate(-1.760,-0.5)" d="M.6,.9C.54,.97 .46,1 .36,1C.13,1 0,.8 0,.5C0,.2 .13,0 .36,0C.46,0 .54,.03 .6,.1"/><path transform="translate(-0.780,-0.5)" d="M.46,1V0L0,.68H.62"/><path transform="translate(0.200,-0.5)" d="M.3,0C.1,0 0,.2 0,.5C0,.8 .1,1 .3,1C.5,1 .6,.8 .6,.5C.6,.2 .5,0 .3,0Z"/><path transform="translate(1.160,-0.5)" d="M.08,.2L.32,0V1M.05,1H.6"/></g>
<path d="M1557.2,571.1 L1577.2,571.1" fill="none" stroke="#ffffff" stroke-width="4" stroke-linecap="round" stroke-linejoin="round" />
<path d="M1557.2,613.1 L1577.2,613.1" fill="none" stroke="#ffffff" stroke-width="4" stroke-linecap="round" stroke-linejoin="round" />
<g transform="translate(1556.1,533.9) rotate(0) scale(39.30)" fill="none" stroke="#ffffff" stroke-width="0.1501" stroke-linecap="round" stroke-linejoin="round"><path transform="translate(-1.760,-0.5)" d="M0,1V0H.34C.52,0 .6,.1 .6,.25C.6,.42 .52,.5 .34,.5H0M.32,.5L.62,1"/><path transform="translate(-0.780,-0.5)" d="M.46,1V0L0,.68H.62"/><path transform="translate(0.200,-0.5)" d="M.3,0C.1,0 0,.2 0,.5C0,.8 .1,1 .3,1C.5,1 .6,.8 .6,.5C.6,.2 .5,0 .3,0Z"/><path transform="translate(1.160,-0.5)" d="M.1,1C.38,.98 .59,.75 .59,.34C.59,.12 .48,0 .3,0C.12,0 0,.12 0,.31C0,.5 .12,.6 .3,.6C.46,.6 .57,.5 .59,.34"/></g>
<path d="M1725.5,571.1 L1745.5,571.1" fill="none" stroke="#ffffff" stroke-width="4" stroke-linecap="round" stroke-linejoin="round" />
<path d="M1725.5,613.1 L1745.5,613.1" fill="none" stroke="#ffffff" stroke-width="4" stroke-linecap="round" stroke-linejoin="round" />
<g transform="translate(1733.4,533.9) rotate(0) scale(39.30)" fill="none" stroke="#ffffff" stroke-width="0.1501" stroke-linecap="round" stroke-linejoin="round"><path transform="translate(-1.760,-0.5)" d="M0,1V0H.34C.52,0 .6,.1 .6,.25C.6,.42 .52,.5 .34,.5H0M.32,.5L.62,1"/><path transform="translate(-0.780,-0.5)" d="M.46,1V0L0,.68H.62"/><path transform="translate(0.200,-0.5)" d="M.3,0C.1,0 0,.2 0,.5C0,.8 .1,1 .3,1C.5,1 .6,.8 .6,.5C.6,.2 .5,0 .3,0Z"/><path transform="translate(1.160,-0.5)" d="M.5,0C.22,.02 .01,.25 .01,.66C.01,.88 .12,1 .3,1C.48,1 .6,.88 .6,.69C.6,.5 .48,.4 .3,.4C.14,.4 .03,.5 .01,.66"/></g>
<path d="M1557.2,672.0 L1577.2,672.0" fill="none" stroke="#ffffff" stroke-width="4" stroke-linecap="round" stroke-linejoin="round" />
<path d="M1557.2,714.0 L1577.2,714.0" fill="none" stroke="#ffffff" stroke-width="4" stroke-linecap="round" stroke-linejoin="round" />
<g transform="translate(1556.0,743.5) rotate(0) scale(39.30)" fill="none" stroke="#ffffff" stroke-width="0.1501" stroke-linecap="round" stroke-linejoin="round"><path transform="translate(-1.760,-0.5)" d="M0,1V0H.34C.52,0 .6,.1 .6,.25C.6,.42 .52,.5 .34,.5H0M.32,.5L.62,1"/><path transform="translate(-0.780,-0.5)" d="M.46,1V0L0,.68H.62"/><path transform="translate(0.200,-0.5)" d="M.3,0C.1,0 0,.2 0,.5C0,.8 .1,1 .3,1C.5,1 .6,.8 .6,.5C.6,.2 .5,0 .3,0Z"/><path transform="translate(1.160,-0.5)" d="M.3,.43C.12,.43 .05,.33 .05,.22C.05,.08 .15,0 .3,0C.45,0 .55,.08 .55,.22C.55,.33 .48,.43 .3,.43C.1,.43 0,.55 0,.71C0,.88 .12,1 .3,1C.48,1 .6,.88 .6,.71C.6,.55 .5,.43 .3,.43"/></g>
<path d="M1725.5,672.0 L1745.5,672.0" fill="none" stroke="#ffffff" stroke-width="4" stroke-linecap="round" stroke-linejoin="round" />
<path d="M1725.5,714.0 L1745.5,714.0" fill="none" stroke="#ffffff" stroke-width="4" stroke-linecap="round" stroke-linejoin="round" />
<g transform="translate(1735.5,743.5) rotate(0) scale(39.30)" fill="none" stroke="#ffffff" stroke-width="0.1501" stroke-linecap="round" stroke-linejoin="round"><path transform="translate(-1.760,-0.5)" d="M0,1V0H.34C.52,0 .6,.1 .6,.25C.6,.42 .52,.5 .34,.5H0M.32,.5L.62,1"/><path transform="translate(-0.780,-0.5)" d="M.46,1V0L0,.68H.62"/><path transform="translate(0.200,-0.5)" d="M.3,0C.1,0 0,.2 0,.5C0,.8 .1,1 .3,1C.5,1 .6,.8 .6,.5C.6,.2 .5,0 .3,0Z"/><path transform="translate(1.160,-0.5)" d="M.55,0H.07L.02,.46C.1,.4 .18,.37 .3,.37C.48,.37 .6,.5 .6,.68C.6,.88 .48,1 .3,1C.16,1 .06,.95 0,.86"/></g>
<path d="M970.7,1093.4 L1132.7,1093.4 L1132.7,1217.4 L970.7,1217.4" fill="none" stroke="#ffffff" stroke-width="4.5" stroke-linecap="round" stroke-linejoin="miter" />
<g transform="translate(1035.4,1244.0) rotate(0) scale(39.30)" fill="none" stroke="#ffffff" stroke-width="0.1501" stroke-linecap="round" stroke-linejoin="round"><path transform="translate(-1.750,-0.5)" d="M0,1V0H.2C.46,0 .6,.18 .6,.5C.6,.82 .46,1 .2,1Z"/><path transform="translate(-0.770,-0.5)" d="M.02,.18C.06,.06 .16,0 .3,0C.47,0 .58,.1 .58,.25C.58,.37 .52,.46 .42,.57L.01,1H.6"/><path transform="translate(0.190,-0.5)" d="M.3,0C.1,0 0,.2 0,.5C0,.8 .1,1 .3,1C.5,1 .6,.8 .6,.5C.6,.2 .5,0 .3,0Z"/><path transform="translate(1.150,-0.5)" d="M.08,.2L.32,0V1M.05,1H.6"/></g>
<path d="M1438.8,953.2 A202,202 0 0 1 1438.8,1357.2Z" fill="#ffffff"/>
<clipPath id="c1438_1155"><rect x="1491.0" y="1109.6" width="94.7" height="91.4"/></clipPath>
<g clip-path="url(#c1438_1155)"><rect x="1491.0" y="1109.6" width="94.7" height="91.4" fill="#29793c"/><circle cx="1538.4" cy="1155.0" r="58.9" fill="#186933"/><path d="M1458.4,1075.0L1618.4,1235.0M1618.4,1075.0L1458.4,1235.0" stroke="#29793c" stroke-width="12.6"/></g>
<circle cx="1438.8" cy="1155.2" r="202" fill="none" stroke="#ffffff" stroke-width="4.5"/>
<path d="M1224.0,1041.7 L1264.0,1041.7" fill="none" stroke="#ffffff" stroke-width="4.5" stroke-linecap="round" stroke-linejoin="round" />
<path d="M1244.0,1021.7 L1244.0,1061.7" fill="none" stroke="#ffffff" stroke-width="4.5" stroke-linecap="round" stroke-linejoin="round" />
<rect x="1301.7" y="1115.7" width="78.7" height="78.7" fill="#a0a0a0"/>
<circle cx="1538.4" cy="1155.0" r="39.35" fill="#a0a0a0"/>
<circle cx="1341.0" cy="1155.0" r="20" fill="#ffffff"/>
<circle cx="1538.4" cy="1155.0" r="20" fill="#ffffff"/>
<g transform="translate(1674.0,1322.5) rotate(0) scale(39.30)" fill="none" stroke="#ffffff" stroke-width="0.1501" stroke-linecap="round" stroke-linejoin="round"><path transform="translate(-1.750,-0.5)" d="M.6,.9C.54,.97 .46,1 .36,1C.13,1 0,.8 0,.5C0,.2 .13,0 .36,0C.46,0 .54,.03 .6,.1"/><path transform="translate(-0.770,-0.5)" d="M.02,.18C.06,.06 .16,0 .3,0C.47,0 .58,.1 .58,.25C.58,.37 .52,.46 .42,.57L.01,1H.6"/><path transform="translate(0.190,-0.5)" d="M.3,0C.1,0 0,.2 0,.5C0,.8 .1,1 .3,1C.5,1 .6,.8 .6,.5C.6,.2 .5,0 .3,0Z"/><path transform="translate(1.150,-0.5)" d="M.08,.2L.32,0V1M.05,1H.6"/></g>
<path d="M939.0,1584.0 L953.0,1584.0" fill="none" stroke="#ffffff" stroke-width="4" stroke-linecap="round" stroke-linejoin="round" />
<path d="M939.0,1626.0 L953.0,1626.0" fill="none" stroke="#ffffff" stroke-width="4" stroke-linecap="round" stroke-linejoin="round" />
<g transform="translate(945.8,1529.0) rotate(0) scale(39.30)" fill="none" stroke="#ffffff" stroke-width="0.1501" stroke-linecap="round" stroke-linejoin="round"><path transform="translate(-1.750,-0.5)" d="M.6,.9C.54,.97 .46,1 .36,1C.13,1 0,.8 0,.5C0,.2 .13,0 .36,0C.46,0 .54,.03 .6,.1"/><path transform="translate(-0.770,-0.5)" d="M.02,.18C.06,.06 .16,0 .3,0C.47,0 .58,.1 .58,.25C.58,.37 .52,.46 .42,.57L.01,1H.6"/><path transform="translate(0.190,-0.5)" d="M.3,0C.1,0 0,.2 0,.5C0,.8 .1,1 .3,1C.5,1 .6,.8 .6,.5C.6,.2 .5,0 .3,0Z"/><path transform="translate(1.150,-0.5)" d="M.02,.18C.06,.06 .16,0 .3,0C.47,0 .58,.1 .58,.25C.58,.37 .52,.46 .42,.57L.01,1H.6"/></g>
<path d="M883.0,1888.0 L883.0,1727.5 L1009.0,1727.5 L1009.0,1888.0" fill="none" stroke="#ffffff" stroke-width="4.5" stroke-linecap="round" stroke-linejoin="miter" />
<g transform="translate(1035.0,1833.5) rotate(-90) scale(39.30)" fill="none" stroke="#ffffff" stroke-width="0.1501" stroke-linecap="round" stroke-linejoin="round"><path transform="translate(-1.750,-0.5)" d="M0,1V0H.2C.46,0 .6,.18 .6,.5C.6,.82 .46,1 .2,1Z"/><path transform="translate(-0.770,-0.5)" d="M.02,.18C.06,.06 .16,0 .3,0C.47,0 .58,.1 .58,.25C.58,.37 .52,.46 .42,.57L.01,1H.6"/><path transform="translate(0.190,-0.5)" d="M.3,0C.1,0 0,.2 0,.5C0,.8 .1,1 .3,1C.5,1 .6,.8 .6,.5C.6,.2 .5,0 .3,0Z"/><path transform="translate(1.150,-0.5)" d="M.02,.18C.06,.06 .16,0 .3,0C.47,0 .58,.1 .58,.25C.58,.37 .52,.46 .42,.57L.01,1H.6"/></g>
<path d="M939.0,2014.3 L953.0,2014.3" fill="none" stroke="#ffffff" stroke-width="4" stroke-linecap="round" stroke-linejoin="round" />
<path d="M939.0,2056.3 L953.0,2056.3" fill="none" stroke="#ffffff" stroke-width="4" stroke-linecap="round" stroke-linejoin="round" />
<g transform="translate(945.8,2110.0) rotate(0) scale(39.30)" fill="none" stroke="#ffffff" stroke-width="0.1501" stroke-linecap="round" stroke-linejoin="round"><path transform="translate(-1.750,-0.5)" d="M.6,.9C.54,.97 .46,1 .36,1C.13,1 0,.8 0,.5C0,.2 .13,0 .36,0C.46,0 .54,.03 .6,.1"/><path transform="translate(-0.770,-0.5)" d="M.02,.18C.06,.06 .16,0 .3,0C.47,0 .58,.1 .58,.25C.58,.37 .52,.46 .42,.57L.01,1H.6"/><path transform="translate(0.190,-0.5)" d="M.3,0C.1,0 0,.2 0,.5C0,.8 .1,1 .3,1C.5,1 .6,.8 .6,.5C.6,.2 .5,0 .3,0Z"/><path transform="translate(1.150,-0.5)" d="M.02,0H.57L.26,.4C.46,.4 .6,.5 .6,.7C.6,.9 .47,1 .3,1C.16,1 .06,.95 0,.85"/></g>
<rect x="1151.5" y="1623.7" width="184.2" height="405.0" fill="none" stroke="#ffffff" stroke-width="4.5"/>
<path d="M1274.7,1623.7 L1274.7,2028.7" fill="none" stroke="#ffffff" stroke-width="4.5" stroke-linecap="butt" stroke-linejoin="round" />
<path d="M1274.7,1753.7 L1335.7,1753.7" fill="none" stroke="#ffffff" stroke-width="4.5" stroke-linecap="butt" stroke-linejoin="round" />
<path d="M1274.7,1899.7 L1335.7,1899.7" fill="none" stroke="#ffffff" stroke-width="4.5" stroke-linecap="butt" stroke-linejoin="round" />
<g transform="translate(1218.5,1530.4) rotate(-90) scale(39.30)" fill="none" stroke="#ffffff" stroke-width="0.1501" stroke-linecap="round" stroke-linejoin="round"><path transform="translate(-1.750,-0.5)" d="M0,0V.72C0,.9 .1,1 .31,1C.52,1 .62,.9 .62,.72V0"/><path transform="translate(-0.770,-0.5)" d="M.02,.18C.06,.06 .16,0 .3,0C.47,0 .58,.1 .58,.25C.58,.37 .52,.46 .42,.57L.01,1H.6"/><path transform="translate(0.190,-0.5)" d="M.3,0C.1,0 0,.2 0,.5C0,.8 .1,1 .3,1C.5,1 .6,.8 .6,.5C.6,.2 .5,0 .3,0Z"/><path transform="translate(1.150,-0.5)" d="M.08,.2L.32,0V1M.05,1H.6"/></g>
<rect x="1341.0" y="1500.8" width="630.0" height="649.2" fill="none" stroke="#ffffff" stroke-width="4.5"/>
<g transform="translate(1725.2,1833.5) rotate(90) scale(39.30)" fill="none" stroke="#ffffff" stroke-width="0.1018" stroke-linecap="round" stroke-linejoin="round"><path transform="translate(-2.240,-0.5)" d="M0,0V1M.64,0V1M0,.48H.64"/><path transform="translate(-1.240,-0.5)" d="M.58,.1C.5,.03 .42,0 .3,0C.13,0 .02,.1 .02,.25C.02,.4 .1,.46 .3,.5C.5,.55 .6,.62 .6,.76C.6,.9 .48,1 .3,1C.16,1 .08,.97 0,.9"/><path transform="translate(-0.280,-0.5)" d="M.02,.18C.06,.06 .16,0 .3,0C.47,0 .58,.1 .58,.25C.58,.37 .52,.46 .42,.57L.01,1H.6"/><path transform="translate(0.680,-0.5)" d="M.3,0C.1,0 0,.2 0,.5C0,.8 .1,1 .3,1C.5,1 .6,.8 .6,.5C.6,.2 .5,0 .3,0Z"/><path transform="translate(1.640,-0.5)" d="M.08,.2L.32,0V1M.05,1H.6"/></g>
<path d="M1550.4,2273.3 A104.5,104.5 0 0 1 1550.4,2482.3Z" fill="#ffffff"/>
<clipPath id="c1550_2377"><rect x="1547.5" y="2338.5" width="80.9" height="78.0"/></clipPath>
<g clip-path="url(#c1550_2377)"><rect x="1547.5" y="2338.5" width="80.9" height="78.0" fill="#29793c"/><circle cx="1589.6" cy="2377.8" r="51.0" fill="#186933"/><path d="M1509.6,2297.8L1669.6,2457.8M1669.6,2297.8L1509.6,2457.8" stroke="#29793c" stroke-width="10.1"/></g>
<circle cx="1550.4" cy="2377.8" r="104.5" fill="none" stroke="#ffffff" stroke-width="4.5"/>
<path d="M1438.0,2319.7 L1460.0,2319.7" fill="none" stroke="#ffffff" stroke-width="4.5" stroke-linecap="round" stroke-linejoin="round" />
<path d="M1449.0,2308.7 L1449.0,2330.7" fill="none" stroke="#ffffff" stroke-width="4.5" stroke-linecap="round" stroke-linejoin="round" />
<rect x="1479.0" y="2346.3" width="63" height="63" fill="#a0a0a0"/>
<circle cx="1589.6" cy="2377.8" r="31.5" fill="#a0a0a0"/>
<circle cx="1510.5" cy="2377.8" r="15.7" fill="#ffffff"/>
<circle cx="1589.6" cy="2377.8" r="15.7" fill="#ffffff"/>
<g transform="translate(1491.7,2514.7) rotate(0) scale(39.30)" fill="none" stroke="#ffffff" stroke-width="0.1501" stroke-linecap="round" stroke-linejoin="round"><path transform="translate(-1.760,-0.5)" d="M.6,.9C.54,.97 .46,1 .36,1C.13,1 0,.8 0,.5C0,.2 .13,0 .36,0C.46,0 .54,.03 .6,.1"/><path transform="translate(-0.780,-0.5)" d="M.02,.18C.06,.06 .16,0 .3,0C.47,0 .58,.1 .58,.25C.58,.37 .52,.46 .42,.57L.01,1H.6"/><path transform="translate(0.180,-0.5)" d="M.3,0C.1,0 0,.2 0,.5C0,.8 .1,1 .3,1C.5,1 .6,.8 .6,.5C.6,.2 .5,0 .3,0Z"/><path transform="translate(1.140,-0.5)" d="M.46,1V0L0,.68H.62"/></g>
<path d="M3447.2,347.4 L3623.2,347.4" fill="none" stroke="#ffffff" stroke-width="4.5" stroke-linecap="round" stroke-linejoin="round" />
<path d="M3447.2,482.5 L3623.2,482.5" fill="none" stroke="#ffffff" stroke-width="4.5" stroke-linecap="round" stroke-linejoin="round" />
<g transform="translate(3535.2,413.3) rotate(0) scale(39.30)" fill="none" stroke="#ffffff" stroke-width="0.1501" stroke-linecap="round" stroke-linejoin="round"><path transform="translate(-1.750,-0.5)" d="M0,1V0H.34C.52,0 .6,.1 .6,.25C.6,.42 .52,.5 .34,.5H0M.32,.5L.62,1"/><path transform="translate(-0.770,-0.5)" d="M.02,0H.57L.26,.4C.46,.4 .6,.5 .6,.7C.6,.9 .47,1 .3,1C.16,1 .06,.95 0,.85"/><path transform="translate(0.190,-0.5)" d="M.3,0C.1,0 0,.2 0,.5C0,.8 .1,1 .3,1C.5,1 .6,.8 .6,.5C.6,.2 .5,0 .3,0Z"/><path transform="translate(1.150,-0.5)" d="M.08,.2L.32,0V1M.05,1H.6"/></g>
<path d="M3387.3,122.2 L3387.3,213.7 L3445.3,213.7 L3445.3,122.2" fill="none" stroke="#ffffff" stroke-width="4.5" stroke-linecap="round" stroke-linejoin="miter" />
<g transform="translate(3352.9,237.5) rotate(-90) scale(39.30)" fill="none" stroke="#ffffff" stroke-width="0.1501" stroke-linecap="round" stroke-linejoin="round"><path transform="translate(-1.750,-0.5)" d="M0,1V0H.2C.46,0 .6,.18 .6,.5C.6,.82 .46,1 .2,1Z"/><path transform="translate(-0.770,-0.5)" d="M.02,0H.57L.26,.4C.46,.4 .6,.5 .6,.7C.6,.9 .47,1 .3,1C.16,1 .06,.95 0,.85"/><path transform="translate(0.190,-0.5)" d="M.3,0C.1,0 0,.2 0,.5C0,.8 .1,1 .3,1C.5,1 .6,.8 .6,.5C.6,.2 .5,0 .3,0Z"/><path transform="translate(1.150,-0.5)" d="M.08,.2L.32,0V1M.05,1H.6"/></g>
<path d="M3553.6,145.2 L3553.6,165.2" fill="none" stroke="#ffffff" stroke-width="4" stroke-linecap="round" stroke-linejoin="round" />
<path d="M3595.6,145.2 L3595.6,165.2" fill="none" stroke="#ffffff" stroke-width="4" stroke-linecap="round" stroke-linejoin="round" />
<g transform="translate(3513.0,233.3) rotate(-90) scale(39.30)" fill="none" stroke="#ffffff" stroke-width="0.1501" stroke-linecap="round" stroke-linejoin="round"><path transform="translate(-1.750,-0.5)" d="M0,1V0H.34C.52,0 .6,.1 .6,.25C.6,.42 .52,.5 .34,.5H0M.32,.5L.62,1"/><path transform="translate(-0.770,-0.5)" d="M.02,0H.57L.26,.4C.46,.4 .6,.5 .6,.7C.6,.9 .47,1 .3,1C.16,1 .06,.95 0,.85"/><path transform="translate(0.190,-0.5)" d="M.3,0C.1,0 0,.2 0,.5C0,.8 .1,1 .3,1C.5,1 .6,.8 .6,.5C.6,.2 .5,0 .3,0Z"/><path transform="translate(1.150,-0.5)" d="M.02,0H.57L.26,.4C.46,.4 .6,.5 .6,.7C.6,.9 .47,1 .3,1C.16,1 .06,.95 0,.85"/></g>
<path d="M3216.9,566.7 L3389.5,566.7" fill="none" stroke="#ffffff" stroke-width="7" stroke-linecap="butt" stroke-linejoin="round" />
<path d="M3216.9,763.2 L3389.5,763.2" fill="none" stroke="#ffffff" stroke-width="7" stroke-linecap="butt" stroke-linejoin="round" />
<circle cx="3413.4" cy="778.9" r="11.8" fill="#ffffff" />
<g transform="translate(3302.0,807.7) rotate(180) scale(39.30)" fill="none" stroke="#ffffff" stroke-width="0.1501" stroke-linecap="round" stroke-linejoin="round"><path transform="translate(-1.750,-0.5)" d="M0,0V.72C0,.9 .1,1 .31,1C.52,1 .62,.9 .62,.72V0"/><path transform="translate(-0.770,-0.5)" d="M.02,0H.57L.26,.4C.46,.4 .6,.5 .6,.7C.6,.9 .47,1 .3,1C.16,1 .06,.95 0,.85"/><path transform="translate(0.190,-0.5)" d="M.3,0C.1,0 0,.2 0,.5C0,.8 .1,1 .3,1C.5,1 .6,.8 .6,.5C.6,.2 .5,0 .3,0Z"/><path transform="translate(1.150,-0.5)" d="M.02,.18C.06,.06 .16,0 .3,0C.47,0 .58,.1 .58,.25C.58,.37 .52,.46 .42,.57L.01,1H.6"/></g>
<g transform="translate(3103.0,468.0) rotate(0) scale(39.30)" fill="none" stroke="#ffffff" stroke-width="0.1501" stroke-linecap="round" stroke-linejoin="round"><path transform="translate(-1.750,-0.5)" d="M0,0V.72C0,.9 .1,1 .31,1C.52,1 .62,.9 .62,.72V0"/><path transform="translate(-0.770,-0.5)" d="M.02,0H.57L.26,.4C.46,.4 .6,.5 .6,.7C.6,.9 .47,1 .3,1C.16,1 .06,.95 0,.85"/><path transform="translate(0.190,-0.5)" d="M.3,0C.1,0 0,.2 0,.5C0,.8 .1,1 .3,1C.5,1 .6,.8 .6,.5C.6,.2 .5,0 .3,0Z"/><path transform="translate(1.150,-0.5)" d="M.08,.2L.32,0V1M.05,1H.6"/></g>
<path d="M3043.9,688.1 L3043.9,708.1" fill="none" stroke="#ffffff" stroke-width="4" stroke-linecap="round" stroke-linejoin="round" />
<path d="M3085.9,688.1 L3085.9,708.1" fill="none" stroke="#ffffff" stroke-width="4" stroke-linecap="round" stroke-linejoin="round" />
<g transform="translate(3122.8,840.8) rotate(-90) scale(39.30)" fill="none" stroke="#ffffff" stroke-width="0.1501" stroke-linecap="round" stroke-linejoin="round"><path transform="translate(-1.750,-0.5)" d="M0,1V0H.34C.52,0 .6,.1 .6,.25C.6,.42 .52,.5 .34,.5H0M.32,.5L.62,1"/><path transform="translate(-0.770,-0.5)" d="M.02,0H.57L.26,.4C.46,.4 .6,.5 .6,.7C.6,.9 .47,1 .3,1C.16,1 .06,.95 0,.85"/><path transform="translate(0.190,-0.5)" d="M.3,0C.1,0 0,.2 0,.5C0,.8 .1,1 .3,1C.5,1 .6,.8 .6,.5C.6,.2 .5,0 .3,0Z"/><path transform="translate(1.150,-0.5)" d="M.02,.18C.06,.06 .16,0 .3,0C.47,0 .58,.1 .58,.25C.58,.37 .52,.46 .42,.57L.01,1H.6"/></g>
<path d="M3524.3,844.4 L3524.3,864.4" fill="none" stroke="#ffffff" stroke-width="4" stroke-linecap="round" stroke-linejoin="round" />
<path d="M3566.3,844.4 L3566.3,864.4" fill="none" stroke="#ffffff" stroke-width="4" stroke-linecap="round" stroke-linejoin="round" />
<g transform="translate(3487.3,855.2) rotate(-90) scale(39.30)" fill="none" stroke="#ffffff" stroke-width="0.1501" stroke-linecap="round" stroke-linejoin="round"><path transform="translate(-1.750,-0.5)" d="M.6,.9C.54,.97 .46,1 .36,1C.13,1 0,.8 0,.5C0,.2 .13,0 .36,0C.46,0 .54,.03 .6,.1"/><path transform="translate(-0.770,-0.5)" d="M.02,0H.57L.26,.4C.46,.4 .6,.5 .6,.7C.6,.9 .47,1 .3,1C.16,1 .06,.95 0,.85"/><path transform="translate(0.190,-0.5)" d="M.3,0C.1,0 0,.2 0,.5C0,.8 .1,1 .3,1C.5,1 .6,.8 .6,.5C.6,.2 .5,0 .3,0Z"/><path transform="translate(1.150,-0.5)" d="M.08,.2L.32,0V1M.05,1H.6"/></g>
<path d="M3655.0,584.3 L3675.0,584.3" fill="none" stroke="#ffffff" stroke-width="4" stroke-linecap="round" stroke-linejoin="round" />
<path d="M3655.0,626.3 L3675.0,626.3" fill="none" stroke="#ffffff" stroke-width="4" stroke-linecap="round" stroke-linejoin="round" />
<g transform="translate(3674.6,553.7) rotate(0) scale(39.30)" fill="none" stroke="#ffffff" stroke-width="0.1501" stroke-linecap="round" stroke-linejoin="round"><path transform="translate(-1.750,-0.5)" d="M0,1V0H.34C.52,0 .6,.1 .6,.25C.6,.42 .52,.5 .34,.5H0M.32,.5L.62,1"/><path transform="translate(-0.770,-0.5)" d="M.02,0H.57L.26,.4C.46,.4 .6,.5 .6,.7C.6,.9 .47,1 .3,1C.16,1 .06,.95 0,.85"/><path transform="translate(0.190,-0.5)" d="M.3,0C.1,0 0,.2 0,.5C0,.8 .1,1 .3,1C.5,1 .6,.8 .6,.5C.6,.2 .5,0 .3,0Z"/><path transform="translate(1.150,-0.5)" d="M.1,1C.38,.98 .59,.75 .59,.34C.59,.12 .48,0 .3,0C.12,0 0,.12 0,.31C0,.5 .12,.6 .3,.6C.46,.6 .57,.5 .59,.34"/></g>
<path d="M3815.0,584.3 L3835.0,584.3" fill="none" stroke="#ffffff" stroke-width="4" stroke-linecap="round" stroke-linejoin="round" />
<path d="M3815.0,626.3 L3835.0,626.3" fill="none" stroke="#ffffff" stroke-width="4" stroke-linecap="round" stroke-linejoin="round" />
<g transform="translate(3835.3,553.7) rotate(0) scale(39.30)" fill="none" stroke="#ffffff" stroke-width="0.1501" stroke-linecap="round" stroke-linejoin="round"><path transform="translate(-1.750,-0.5)" d="M0,1V0H.34C.52,0 .6,.1 .6,.25C.6,.42 .52,.5 .34,.5H0M.32,.5L.62,1"/><path transform="translate(-0.770,-0.5)" d="M.02,0H.57L.26,.4C.46,.4 .6,.5 .6,.7C.6,.9 .47,1 .3,1C.16,1 .06,.95 0,.85"/><path transform="translate(0.190,-0.5)" d="M.3,0C.1,0 0,.2 0,.5C0,.8 .1,1 .3,1C.5,1 .6,.8 .6,.5C.6,.2 .5,0 .3,0Z"/><path transform="translate(1.150,-0.5)" d="M.5,0C.22,.02 .01,.25 .01,.66C.01,.88 .12,1 .3,1C.48,1 .6,.88 .6,.69C.6,.5 .48,.4 .3,.4C.14,.4 .03,.5 .01,.66"/></g>
<path d="M3655.0,694.7 L3675.0,694.7" fill="none" stroke="#ffffff" stroke-width="4" stroke-linecap="round" stroke-linejoin="round" />
<path d="M3655.0,736.7 L3675.0,736.7" fill="none" stroke="#ffffff" stroke-width="4" stroke-linecap="round" stroke-linejoin="round" />
<g transform="translate(3664.9,774.6) rotate(0) scale(39.30)" fill="none" stroke="#ffffff" stroke-width="0.1501" stroke-linecap="round" stroke-linejoin="round"><path transform="translate(-1.750,-0.5)" d="M0,1V0H.34C.52,0 .6,.1 .6,.25C.6,.42 .52,.5 .34,.5H0M.32,.5L.62,1"/><path transform="translate(-0.770,-0.5)" d="M.02,0H.57L.26,.4C.46,.4 .6,.5 .6,.7C.6,.9 .47,1 .3,1C.16,1 .06,.95 0,.85"/><path transform="translate(0.190,-0.5)" d="M.3,0C.1,0 0,.2 0,.5C0,.8 .1,1 .3,1C.5,1 .6,.8 .6,.5C.6,.2 .5,0 .3,0Z"/><path transform="translate(1.150,-0.5)" d="M.3,.43C.12,.43 .05,.33 .05,.22C.05,.08 .15,0 .3,0C.45,0 .55,.08 .55,.22C.55,.33 .48,.43 .3,.43C.1,.43 0,.55 0,.71C0,.88 .12,1 .3,1C.48,1 .6,.88 .6,.71C.6,.55 .5,.43 .3,.43"/></g>
<path d="M3815.0,694.7 L3835.0,694.7" fill="none" stroke="#ffffff" stroke-width="4" stroke-linecap="round" stroke-linejoin="round" />
<path d="M3815.0,736.7 L3835.0,736.7" fill="none" stroke="#ffffff" stroke-width="4" stroke-linecap="round" stroke-linejoin="round" />
<g transform="translate(3825.9,774.6) rotate(0) scale(39.30)" fill="none" stroke="#ffffff" stroke-width="0.1501" stroke-linecap="round" stroke-linejoin="round"><path transform="translate(-1.750,-0.5)" d="M0,1V0H.34C.52,0 .6,.1 .6,.25C.6,.42 .52,.5 .34,.5H0M.32,.5L.62,1"/><path transform="translate(-0.770,-0.5)" d="M.02,0H.57L.26,.4C.46,.4 .6,.5 .6,.7C.6,.9 .47,1 .3,1C.16,1 .06,.95 0,.85"/><path transform="translate(0.190,-0.5)" d="M.3,0C.1,0 0,.2 0,.5C0,.8 .1,1 .3,1C.5,1 .6,.8 .6,.5C.6,.2 .5,0 .3,0Z"/><path transform="translate(1.150,-0.5)" d="M.55,0H.07L.02,.46C.1,.4 .18,.37 .3,.37C.48,.37 .6,.5 .6,.68C.6,.88 .48,1 .3,1C.16,1 .06,.95 0,.86"/></g>
<path d="M2872.2,1019.5 L2872.2,1181.0 L2998.2,1181.0 L2998.2,1019.5" fill="none" stroke="#ffffff" stroke-width="4.5" stroke-linecap="round" stroke-linejoin="miter" />
<g transform="translate(2843.4,1083.9) rotate(-90) scale(39.30)" fill="none" stroke="#ffffff" stroke-width="0.1501" stroke-linecap="round" stroke-linejoin="round"><path transform="translate(-1.750,-0.5)" d="M0,1V0H.2C.46,0 .6,.18 .6,.5C.6,.82 .46,1 .2,1Z"/><path transform="translate(-0.770,-0.5)" d="M.08,.2L.32,0V1M.05,1H.6"/><path transform="translate(0.190,-0.5)" d="M.3,0C.1,0 0,.2 0,.5C0,.8 .1,1 .3,1C.5,1 .6,.8 .6,.5C.6,.2 .5,0 .3,0Z"/><path transform="translate(1.150,-0.5)" d="M.08,.2L.32,0V1M.05,1H.6"/></g>
<path d="M2668.3,1021.5 L2668.3,1183.0 L2794.3,1183.0 L2794.3,1021.5" fill="none" stroke="#ffffff" stroke-width="4.5" stroke-linecap="round" stroke-linejoin="miter" />
<g transform="translate(2640.5,1084.9) rotate(-90) scale(39.30)" fill="none" stroke="#ffffff" stroke-width="0.1501" stroke-linecap="round" stroke-linejoin="round"><path transform="translate(-1.750,-0.5)" d="M0,1V0H.2C.46,0 .6,.18 .6,.5C.6,.82 .46,1 .2,1Z"/><path transform="translate(-0.770,-0.5)" d="M.08,.2L.32,0V1M.05,1H.6"/><path transform="translate(0.190,-0.5)" d="M.3,0C.1,0 0,.2 0,.5C0,.8 .1,1 .3,1C.5,1 .6,.8 .6,.5C.6,.2 .5,0 .3,0Z"/><path transform="translate(1.150,-0.5)" d="M.02,.18C.06,.06 .16,0 .3,0C.47,0 .58,.1 .58,.25C.58,.37 .52,.46 .42,.57L.01,1H.6"/></g>
<path d="M3106.2,1490.5 A201,201 0 0 1 2704.2,1490.5Z" fill="#ffffff"/>
<clipPath id="c2905_1490"><rect x="2859.2" y="1542.2" width="92.8" height="94.0"/></clipPath>
<g clip-path="url(#c2905_1490)"><rect x="2859.2" y="1542.2" width="92.8" height="94.0" fill="#29793c"/><circle cx="2905.4" cy="1588.9" r="58.9" fill="#186933"/><path d="M2825.4,1508.9L2985.4,1668.9M2985.4,1508.9L2825.4,1668.9" stroke="#29793c" stroke-width="12.6"/></g>
<circle cx="2905.2" cy="1490.5" r="201" fill="none" stroke="#ffffff" stroke-width="4.5"/>
<path d="M2999.2,1294.0 L3039.2,1294.0" fill="none" stroke="#ffffff" stroke-width="4.5" stroke-linecap="round" stroke-linejoin="round" />
<path d="M3019.2,1274.0 L3019.2,1314.0" fill="none" stroke="#ffffff" stroke-width="4.5" stroke-linecap="round" stroke-linejoin="round" />
<rect x="2865.7" y="1352.9" width="78.7" height="78.7" fill="#a0a0a0"/>
<circle cx="2905.4" cy="1588.9" r="39.35" fill="#a0a0a0"/>
<circle cx="2905.0" cy="1392.2" r="20" fill="#ffffff"/>
<circle cx="2905.4" cy="1588.9" r="20" fill="#ffffff"/>
<g transform="translate(3114.7,1678.6) rotate(-90) scale(39.30)" fill="none" stroke="#ffffff" stroke-width="0.1501" stroke-linecap="round" stroke-linejoin="round"><path transform="translate(-1.750,-0.5)" d="M.6,.9C.54,.97 .46,1 .36,1C.13,1 0,.8 0,.5C0,.2 .13,0 .36,0C.46,0 .54,.03 .6,.1"/><path transform="translate(-0.770,-0.5)" d="M.08,.2L.32,0V1M.05,1H.6"/><path transform="translate(0.190,-0.5)" d="M.3,0C.1,0 0,.2 0,.5C0,.8 .1,1 .3,1C.5,1 .6,.8 .6,.5C.6,.2 .5,0 .3,0Z"/><path transform="translate(1.150,-0.5)" d="M.08,.2L.32,0V1M.05,1H.6"/></g>
<path d="M3288.4,1402.5 L3302.4,1402.5" fill="none" stroke="#ffffff" stroke-width="4" stroke-linecap="round" stroke-linejoin="round" />
<path d="M3288.4,1444.5 L3302.4,1444.5" fill="none" stroke="#ffffff" stroke-width="4" stroke-linecap="round" stroke-linejoin="round" />
<g transform="translate(3295.4,1364.0) rotate(0) scale(39.30)" fill="none" stroke="#ffffff" stroke-width="0.1501" stroke-linecap="round" stroke-linejoin="round"><path transform="translate(-1.750,-0.5)" d="M.6,.9C.54,.97 .46,1 .36,1C.13,1 0,.8 0,.5C0,.2 .13,0 .36,0C.46,0 .54,.03 .6,.1"/><path transform="translate(-0.770,-0.5)" d="M.08,.2L.32,0V1M.05,1H.6"/><path transform="translate(0.190,-0.5)" d="M.3,0C.1,0 0,.2 0,.5C0,.8 .1,1 .3,1C.5,1 .6,.8 .6,.5C.6,.2 .5,0 .3,0Z"/><path transform="translate(1.150,-0.5)" d="M.02,.18C.06,.06 .16,0 .3,0C.47,0 .58,.1 .58,.25C.58,.37 .52,.46 .42,.57L.01,1H.6"/></g>
<path d="M3232.4,1648.3 L3232.4,1487.8 L3358.4,1487.8 L3358.4,1648.3" fill="none" stroke="#ffffff" stroke-width="4.5" stroke-linecap="round" stroke-linejoin="miter" />
<g transform="translate(3384.5,1584.0) rotate(-90) scale(39.30)" fill="none" stroke="#ffffff" stroke-width="0.1501" stroke-linecap="round" stroke-linejoin="round"><path transform="translate(-1.750,-0.5)" d="M0,1V0H.2C.46,0 .6,.18 .6,.5C.6,.82 .46,1 .2,1Z"/><path transform="translate(-0.770,-0.5)" d="M.08,.2L.32,0V1M.05,1H.6"/><path transform="translate(0.190,-0.5)" d="M.3,0C.1,0 0,.2 0,.5C0,.8 .1,1 .3,1C.5,1 .6,.8 .6,.5C.6,.2 .5,0 .3,0Z"/><path transform="translate(1.150,-0.5)" d="M.02,0H.57L.26,.4C.46,.4 .6,.5 .6,.7C.6,.9 .47,1 .3,1C.16,1 .06,.95 0,.85"/></g>
<rect x="3460.8" y="1361.2" width="184.2" height="405.0" fill="none" stroke="#ffffff" stroke-width="4.5"/>
<path d="M3584.0,1361.2 L3584.0,1766.2" fill="none" stroke="#ffffff" stroke-width="4.5" stroke-linecap="butt" stroke-linejoin="round" />
<path d="M3584.0,1491.2 L3645.0,1491.2" fill="none" stroke="#ffffff" stroke-width="4.5" stroke-linecap="butt" stroke-linejoin="round" />
<path d="M3584.0,1637.2 L3645.0,1637.2" fill="none" stroke="#ffffff" stroke-width="4.5" stroke-linecap="butt" stroke-linejoin="round" />
<g transform="translate(3555.3,1264.4) rotate(-90) scale(39.30)" fill="none" stroke="#ffffff" stroke-width="0.1501" stroke-linecap="round" stroke-linejoin="round"><path transform="translate(-1.750,-0.5)" d="M0,0V.72C0,.9 .1,1 .31,1C.52,1 .62,.9 .62,.72V0"/><path transform="translate(-0.770,-0.5)" d="M.08,.2L.32,0V1M.05,1H.6"/><path transform="translate(0.190,-0.5)" d="M.3,0C.1,0 0,.2 0,.5C0,.8 .1,1 .3,1C.5,1 .6,.8 .6,.5C.6,.2 .5,0 .3,0Z"/><path transform="translate(1.150,-0.5)" d="M.08,.2L.32,0V1M.05,1H.6"/></g>
<rect x="3654.4" y="1238.8" width="305.6" height="649.0" fill="none" stroke="#ffffff" stroke-width="4.5"/>
<g transform="translate(3756.6,1564.7) rotate(90) scale(39.30)" fill="none" stroke="#ffffff" stroke-width="0.1018" stroke-linecap="round" stroke-linejoin="round"><path transform="translate(-2.240,-0.5)" d="M0,0V1M.64,0V1M0,.48H.64"/><path transform="translate(-1.240,-0.5)" d="M.58,.1C.5,.03 .42,0 .3,0C.13,0 .02,.1 .02,.25C.02,.4 .1,.46 .3,.5C.5,.55 .6,.62 .6,.76C.6,.9 .48,1 .3,1C.16,1 .08,.97 0,.9"/><path transform="translate(-0.280,-0.5)" d="M.08,.2L.32,0V1M.05,1H.6"/><path transform="translate(0.680,-0.5)" d="M.3,0C.1,0 0,.2 0,.5C0,.8 .1,1 .3,1C.5,1 .6,.8 .6,.5C.6,.2 .5,0 .3,0Z"/><path transform="translate(1.640,-0.5)" d="M.08,.2L.32,0V1M.05,1H.6"/></g>
<path d="M3399.7,1855.4 A104.5,104.5 0 0 1 3190.7,1855.4Z" fill="#ffffff"/>
<clipPath id="c3295_1855"><rect x="3257.0" y="1853.7" width="76.9" height="78.0"/></clipPath>
<g clip-path="url(#c3295_1855)"><rect x="3257.0" y="1853.7" width="76.9" height="78.0" fill="#29793c"/><circle cx="3295.2" cy="1895.2" r="51.0" fill="#186933"/><path d="M3215.2,1815.2L3375.2,1975.2M3375.2,1815.2L3215.2,1975.2" stroke="#29793c" stroke-width="10.1"/></g>
<circle cx="3295.2" cy="1855.4" r="104.5" fill="none" stroke="#ffffff" stroke-width="4.5"/>
<path d="M3342.8,1755.2 L3364.8,1755.2" fill="none" stroke="#ffffff" stroke-width="4.5" stroke-linecap="round" stroke-linejoin="round" />
<path d="M3353.8,1744.2 L3353.8,1766.2" fill="none" stroke="#ffffff" stroke-width="4.5" stroke-linecap="round" stroke-linejoin="round" />
<rect x="3263.7" y="1784.0" width="63" height="63" fill="#a0a0a0"/>
<circle cx="3295.2" cy="1895.2" r="31.5" fill="#a0a0a0"/>
<circle cx="3295.2" cy="1815.5" r="15.7" fill="#ffffff"/>
<circle cx="3295.2" cy="1895.2" r="15.7" fill="#ffffff"/>
<g transform="translate(3155.0,1940.0) rotate(-90) scale(39.30)" fill="none" stroke="#ffffff" stroke-width="0.1501" stroke-linecap="round" stroke-linejoin="round"><path transform="translate(-1.750,-0.5)" d="M.6,.9C.54,.97 .46,1 .36,1C.13,1 0,.8 0,.5C0,.2 .13,0 .36,0C.46,0 .54,.03 .6,.1"/><path transform="translate(-0.770,-0.5)" d="M.08,.2L.32,0V1M.05,1H.6"/><path transform="translate(0.190,-0.5)" d="M.3,0C.1,0 0,.2 0,.5C0,.8 .1,1 .3,1C.5,1 .6,.8 .6,.5C.6,.2 .5,0 .3,0Z"/><path transform="translate(1.150,-0.5)" d="M.3,.43C.12,.43 .05,.33 .05,.22C.05,.08 .15,0 .3,0C.45,0 .55,.08 .55,.22C.55,.33 .48,.43 .3,.43C.1,.43 0,.55 0,.71C0,.88 .12,1 .3,1C.48,1 .6,.88 .6,.71C.6,.55 .5,.43 .3,.43"/></g>
<path d="M3522.4,1833.5 L3536.4,1833.5" fill="none" stroke="#ffffff" stroke-width="4" stroke-linecap="round" stroke-linejoin="round" />
<path d="M3522.4,1875.5 L3536.4,1875.5" fill="none" stroke="#ffffff" stroke-width="4" stroke-linecap="round" stroke-linejoin="round" />
<g transform="translate(3555.0,1914.3) rotate(0) scale(39.30)" fill="none" stroke="#ffffff" stroke-width="0.1501" stroke-linecap="round" stroke-linejoin="round"><path transform="translate(-1.750,-0.5)" d="M.6,.9C.54,.97 .46,1 .36,1C.13,1 0,.8 0,.5C0,.2 .13,0 .36,0C.46,0 .54,.03 .6,.1"/><path transform="translate(-0.770,-0.5)" d="M.08,.2L.32,0V1M.05,1H.6"/><path transform="translate(0.190,-0.5)" d="M.3,0C.1,0 0,.2 0,.5C0,.8 .1,1 .3,1C.5,1 .6,.8 .6,.5C.6,.2 .5,0 .3,0Z"/><path transform="translate(1.150,-0.5)" d="M.55,0H.07L.02,.46C.1,.4 .18,.37 .3,.37C.48,.37 .6,.5 .6,.68C.6,.88 .48,1 .3,1C.16,1 .06,.95 0,.86"/></g>
<path d="M3278.5,2103.0 L3292.5,2103.0" fill="none" stroke="#ffffff" stroke-width="4" stroke-linecap="round" stroke-linejoin="round" />
<path d="M3278.5,2145.0 L3292.5,2145.0" fill="none" stroke="#ffffff" stroke-width="4" stroke-linecap="round" stroke-linejoin="round" />
<g transform="translate(3285.5,2054.6) rotate(0) scale(39.30)" fill="none" stroke="#ffffff" stroke-width="0.1501" stroke-linecap="round" stroke-linejoin="round"><path transform="translate(-1.750,-0.5)" d="M.6,.9C.54,.97 .46,1 .36,1C.13,1 0,.8 0,.5C0,.2 .13,0 .36,0C.46,0 .54,.03 .6,.1"/><path transform="translate(-0.770,-0.5)" d="M.08,.2L.32,0V1M.05,1H.6"/><path transform="translate(0.190,-0.5)" d="M.3,0C.1,0 0,.2 0,.5C0,.8 .1,1 .3,1C.5,1 .6,.8 .6,.5C.6,.2 .5,0 .3,0Z"/><path transform="translate(1.150,-0.5)" d="M.02,0H.57L.26,.4C.46,.4 .6,.5 .6,.7C.6,.9 .47,1 .3,1C.16,1 .06,.95 0,.85"/></g>
<path d="M3222.5,2346.8 L3222.5,2186.3 L3348.5,2186.3 L3348.5,2346.8" fill="none" stroke="#ffffff" stroke-width="4.5" stroke-linecap="round" stroke-linejoin="miter" />
<g transform="translate(3384.0,2282.9) rotate(-90) scale(39.30)" fill="none" stroke="#ffffff" stroke-width="0.1501" stroke-linecap="round" stroke-linejoin="round"><path transform="translate(-1.760,-0.5)" d="M0,1V0H.2C.46,0 .6,.18 .6,.5C.6,.82 .46,1 .2,1Z"/><path transform="translate(-0.780,-0.5)" d="M.08,.2L.32,0V1M.05,1H.6"/><path transform="translate(0.180,-0.5)" d="M.3,0C.1,0 0,.2 0,.5C0,.8 .1,1 .3,1C.5,1 .6,.8 .6,.5C.6,.2 .5,0 .3,0Z"/><path transform="translate(1.140,-0.5)" d="M.46,1V0L0,.68H.62"/></g>
<rect x="3460.8" y="2050.3" width="184.2" height="405.0" fill="none" stroke="#ffffff" stroke-width="4.5"/>
<path d="M3584.0,2050.3 L3584.0,2455.3" fill="none" stroke="#ffffff" stroke-width="4.5" stroke-linecap="butt" stroke-linejoin="round" />
<path d="M3584.0,2180.3 L3645.0,2180.3" fill="none" stroke="#ffffff" stroke-width="4.5" stroke-linecap="butt" stroke-linejoin="round" />
<path d="M3584.0,2326.3 L3645.0,2326.3" fill="none" stroke="#ffffff" stroke-width="4.5" stroke-linecap="butt" stroke-linejoin="round" />
<g transform="translate(3435.8,2134.9) rotate(-90) scale(39.30)" fill="none" stroke="#ffffff" stroke-width="0.1501" stroke-linecap="round" stroke-linejoin="round"><path transform="translate(-1.750,-0.5)" d="M0,0V.72C0,.9 .1,1 .31,1C.52,1 .62,.9 .62,.72V0"/><path transform="translate(-0.770,-0.5)" d="M.08,.2L.32,0V1M.05,1H.6"/><path transform="translate(0.190,-0.5)" d="M.3,0C.1,0 0,.2 0,.5C0,.8 .1,1 .3,1C.5,1 .6,.8 .6,.5C.6,.2 .5,0 .3,0Z"/><path transform="translate(1.150,-0.5)" d="M.02,.18C.06,.06 .16,0 .3,0C.47,0 .58,.1 .58,.25C.58,.37 .52,.46 .42,.57L.01,1H.6"/></g>
<rect x="3656.7" y="1928.5" width="303.3" height="649.0" fill="none" stroke="#ffffff" stroke-width="4.5"/>
<g transform="translate(3766.6,2254.4) rotate(90) scale(39.30)" fill="none" stroke="#ffffff" stroke-width="0.1018" stroke-linecap="round" stroke-linejoin="round"><path transform="translate(-2.240,-0.5)" d="M0,0V1M.64,0V1M0,.48H.64"/><path transform="translate(-1.240,-0.5)" d="M.58,.1C.5,.03 .42,0 .3,0C.13,0 .02,.1 .02,.25C.02,.4 .1,.46 .3,.5C.5,.55 .6,.62 .6,.76C.6,.9 .48,1 .3,1C.16,1 .08,.97 0,.9"/><path transform="translate(-0.280,-0.5)" d="M.08,.2L.32,0V1M.05,1H.6"/><path transform="translate(0.680,-0.5)" d="M.3,0C.1,0 0,.2 0,.5C0,.8 .1,1 .3,1C.5,1 .6,.8 .6,.5C.6,.2 .5,0 .3,0Z"/><path transform="translate(1.640,-0.5)" d="M.02,.18C.06,.06 .16,0 .3,0C.47,0 .58,.1 .58,.25C.58,.37 .52,.46 .42,.57L.01,1H.6"/></g>
<path d="M3409.9,2535.4 A104.5,104.5 0 0 1 3200.9,2535.4Z" fill="#ffffff"/>
<clipPath id="c3305_2535"><rect x="3267.2" y="2533.0" width="76.8" height="78.7"/></clipPath>
<g clip-path="url(#c3305_2535)"><rect x="3267.2" y="2533.0" width="76.8" height="78.7" fill="#29793c"/><circle cx="3305.4" cy="2575.8" r="51.0" fill="#186933"/><path d="M3225.4,2495.8L3385.4,2655.8M3385.4,2495.8L3225.4,2655.8" stroke="#29793c" stroke-width="10.1"/></g>
<circle cx="3305.4" cy="2535.4" r="104.5" fill="none" stroke="#ffffff" stroke-width="4.5"/>
<path d="M3353.0,2435.2 L3375.0,2435.2" fill="none" stroke="#ffffff" stroke-width="4.5" stroke-linecap="round" stroke-linejoin="round" />
<path d="M3364.0,2424.2 L3364.0,2446.2" fill="none" stroke="#ffffff" stroke-width="4.5" stroke-linecap="round" stroke-linejoin="round" />
<rect x="3273.9" y="2465.2" width="63" height="63" fill="#a0a0a0"/>
<circle cx="3305.4" cy="2575.8" r="31.5" fill="#a0a0a0"/>
<circle cx="3305.4" cy="2496.7" r="15.7" fill="#ffffff"/>
<circle cx="3305.4" cy="2575.8" r="15.7" fill="#ffffff"/>
<g transform="translate(3163.6,2534.8) rotate(-90) scale(39.30)" fill="none" stroke="#ffffff" stroke-width="0.1501" stroke-linecap="round" stroke-linejoin="round"><path transform="translate(-1.750,-0.5)" d="M.6,.9C.54,.97 .46,1 .36,1C.13,1 0,.8 0,.5C0,.2 .13,0 .36,0C.46,0 .54,.03 .6,.1"/><path transform="translate(-0.770,-0.5)" d="M.08,.2L.32,0V1M.05,1H.6"/><path transform="translate(0.190,-0.5)" d="M.3,0C.1,0 0,.2 0,.5C0,.8 .1,1 .3,1C.5,1 .6,.8 .6,.5C.6,.2 .5,0 .3,0Z"/><path transform="translate(1.150,-0.5)" d="M.1,1C.38,.98 .59,.75 .59,.34C.59,.12 .48,0 .3,0C.12,0 0,.12 0,.31C0,.5 .12,.6 .3,.6C.46,.6 .57,.5 .59,.34"/></g>
<path d="M3523.8,2523.2 L3537.8,2523.2" fill="none" stroke="#ffffff" stroke-width="4" stroke-linecap="round" stroke-linejoin="round" />
<path d="M3523.8,2565.2 L3537.8,2565.2" fill="none" stroke="#ffffff" stroke-width="4" stroke-linecap="round" stroke-linejoin="round" />
<g transform="translate(3531.7,2604.0) rotate(0) scale(39.30)" fill="none" stroke="#ffffff" stroke-width="0.1501" stroke-linecap="round" stroke-linejoin="round"><path transform="translate(-1.750,-0.5)" d="M.6,.9C.54,.97 .46,1 .36,1C.13,1 0,.8 0,.5C0,.2 .13,0 .36,0C.46,0 .54,.03 .6,.1"/><path transform="translate(-0.770,-0.5)" d="M.08,.2L.32,0V1M.05,1H.6"/><path transform="translate(0.190,-0.5)" d="M.3,0C.1,0 0,.2 0,.5C0,.8 .1,1 .3,1C.5,1 .6,.8 .6,.5C.6,.2 .5,0 .3,0Z"/><path transform="translate(1.150,-0.5)" d="M.5,0C.22,.02 .01,.25 .01,.66C.01,.88 .12,1 .3,1C.48,1 .6,.88 .6,.69C.6,.5 .48,.4 .3,.4C.14,.4 .03,.5 .01,.66"/></g>
<path d="M3278.5,2793.4 L3292.5,2793.4" fill="none" stroke="#ffffff" stroke-width="4" stroke-linecap="round" stroke-linejoin="round" />
<path d="M3278.5,2835.4 L3292.5,2835.4" fill="none" stroke="#ffffff" stroke-width="4" stroke-linecap="round" stroke-linejoin="round" />
<g transform="translate(3285.5,2753.2) rotate(0) scale(39.30)" fill="none" stroke="#ffffff" stroke-width="0.1501" stroke-linecap="round" stroke-linejoin="round"><path transform="translate(-1.760,-0.5)" d="M.6,.9C.54,.97 .46,1 .36,1C.13,1 0,.8 0,.5C0,.2 .13,0 .36,0C.46,0 .54,.03 .6,.1"/><path transform="translate(-0.780,-0.5)" d="M.08,.2L.32,0V1M.05,1H.6"/><path transform="translate(0.180,-0.5)" d="M.3,0C.1,0 0,.2 0,.5C0,.8 .1,1 .3,1C.5,1 .6,.8 .6,.5C.6,.2 .5,0 .3,0Z"/><path transform="translate(1.140,-0.5)" d="M.46,1V0L0,.68H.62"/></g>
<path d="M3222.5,3036.9 L3222.5,2876.4 L3348.5,2876.4 L3348.5,3036.9" fill="none" stroke="#ffffff" stroke-width="4.5" stroke-linecap="round" stroke-linejoin="miter" />
<g transform="translate(3374.9,2971.9) rotate(-90) scale(39.30)" fill="none" stroke="#ffffff" stroke-width="0.1501" stroke-linecap="round" stroke-linejoin="round"><path transform="translate(-1.750,-0.5)" d="M0,1V0H.2C.46,0 .6,.18 .6,.5C.6,.82 .46,1 .2,1Z"/><path transform="translate(-0.770,-0.5)" d="M.08,.2L.32,0V1M.05,1H.6"/><path transform="translate(0.190,-0.5)" d="M.3,0C.1,0 0,.2 0,.5C0,.8 .1,1 .3,1C.5,1 .6,.8 .6,.5C.6,.2 .5,0 .3,0Z"/><path transform="translate(1.150,-0.5)" d="M.55,0H.07L.02,.46C.1,.4 .18,.37 .3,.37C.48,.37 .6,.5 .6,.68C.6,.88 .48,1 .3,1C.16,1 .06,.95 0,.86"/></g>
<rect x="3460.8" y="2751.1" width="184.2" height="405.0" fill="none" stroke="#ffffff" stroke-width="4.5"/>
<path d="M3584.0,2751.1 L3584.0,3156.1" fill="none" stroke="#ffffff" stroke-width="4.5" stroke-linecap="butt" stroke-linejoin="round" />
<path d="M3584.0,2881.1 L3645.0,2881.1" fill="none" stroke="#ffffff" stroke-width="4.5" stroke-linecap="butt" stroke-linejoin="round" />
<path d="M3584.0,3027.1 L3645.0,3027.1" fill="none" stroke="#ffffff" stroke-width="4.5" stroke-linecap="butt" stroke-linejoin="round" />
<g transform="translate(3425.0,2795.9) rotate(-90) scale(39.30)" fill="none" stroke="#ffffff" stroke-width="0.1501" stroke-linecap="round" stroke-linejoin="round"><path transform="translate(-1.750,-0.5)" d="M0,0V.72C0,.9 .1,1 .31,1C.52,1 .62,.9 .62,.72V0"/><path transform="translate(-0.770,-0.5)" d="M.08,.2L.32,0V1M.05,1H.6"/><path transform="translate(0.190,-0.5)" d="M.3,0C.1,0 0,.2 0,.5C0,.8 .1,1 .3,1C.5,1 .6,.8 .6,.5C.6,.2 .5,0 .3,0Z"/><path transform="translate(1.150,-0.5)" d="M.02,0H.57L.26,.4C.46,.4 .6,.5 .6,.7C.6,.9 .47,1 .3,1C.16,1 .06,.95 0,.85"/></g>
<rect x="3656.7" y="2628.8" width="303.3" height="648.0" fill="none" stroke="#ffffff" stroke-width="4.5"/>
<g transform="translate(3767.0,2953.0) rotate(90) scale(39.30)" fill="none" stroke="#ffffff" stroke-width="0.1018" stroke-linecap="round" stroke-linejoin="round"><path transform="translate(-2.240,-0.5)" d="M0,0V1M.64,0V1M0,.48H.64"/><path transform="translate(-1.240,-0.5)" d="M.58,.1C.5,.03 .42,0 .3,0C.13,0 .02,.1 .02,.25C.02,.4 .1,.46 .3,.5C.5,.55 .6,.62 .6,.76C.6,.9 .48,1 .3,1C.16,1 .08,.97 0,.9"/><path transform="translate(-0.280,-0.5)" d="M.08,.2L.32,0V1M.05,1H.6"/><path transform="translate(0.680,-0.5)" d="M.3,0C.1,0 0,.2 0,.5C0,.8 .1,1 .3,1C.5,1 .6,.8 .6,.5C.6,.2 .5,0 .3,0Z"/><path transform="translate(1.640,-0.5)" d="M.02,0H.57L.26,.4C.46,.4 .6,.5 .6,.7C.6,.9 .47,1 .3,1C.16,1 .06,.95 0,.85"/></g>
<path d="M3409.9,3225.0 A104.5,104.5 0 0 1 3200.9,3225.0Z" fill="#ffffff"/>
<clipPath id="c3305_3225"><rect x="3267.2" y="3222.1" width="76.8" height="78.9"/></clipPath>
<g clip-path="url(#c3305_3225)"><rect x="3267.2" y="3222.1" width="76.8" height="78.9" fill="#29793c"/><circle cx="3305.4" cy="3264.8" r="51.0" fill="#186933"/><path d="M3225.4,3184.8L3385.4,3344.8M3385.4,3184.8L3225.4,3344.8" stroke="#29793c" stroke-width="10.1"/></g>
<circle cx="3305.4" cy="3225.0" r="104.5" fill="none" stroke="#ffffff" stroke-width="4.5"/>
<path d="M3353.0,3124.2 L3375.0,3124.2" fill="none" stroke="#ffffff" stroke-width="4.5" stroke-linecap="round" stroke-linejoin="round" />
<path d="M3364.0,3113.2 L3364.0,3135.2" fill="none" stroke="#ffffff" stroke-width="4.5" stroke-linecap="round" stroke-linejoin="round" />
<rect x="3273.9" y="3153.9" width="63" height="63" fill="#a0a0a0"/>
<circle cx="3305.4" cy="3264.8" r="31.5" fill="#a0a0a0"/>
<circle cx="3305.4" cy="3185.4" r="15.7" fill="#ffffff"/>
<circle cx="3305.4" cy="3264.8" r="15.7" fill="#ffffff"/>
<g transform="translate(3163.6,3222.7) rotate(-90) scale(39.30)" fill="none" stroke="#ffffff" stroke-width="0.1501" stroke-linecap="round" stroke-linejoin="round"><path transform="translate(-1.750,-0.5)" d="M.6,.9C.54,.97 .46,1 .36,1C.13,1 0,.8 0,.5C0,.2 .13,0 .36,0C.46,0 .54,.03 .6,.1"/><path transform="translate(-0.770,-0.5)" d="M.08,.2L.32,0V1M.05,1H.6"/><path transform="translate(0.190,-0.5)" d="M.08,.2L.32,0V1M.05,1H.6"/><path transform="translate(1.150,-0.5)" d="M.3,0C.1,0 0,.2 0,.5C0,.8 .1,1 .3,1C.5,1 .6,.8 .6,.5C.6,.2 .5,0 .3,0Z"/></g>
<path d="M3538.0,3222.8 L3552.0,3222.8" fill="none" stroke="#ffffff" stroke-width="4" stroke-linecap="round" stroke-linejoin="round" />
<path d="M3538.0,3264.8 L3552.0,3264.8" fill="none" stroke="#ffffff" stroke-width="4" stroke-linecap="round" stroke-linejoin="round" />
<g transform="translate(3546.0,3303.8) rotate(0) scale(39.30)" fill="none" stroke="#ffffff" stroke-width="0.1501" stroke-linecap="round" stroke-linejoin="round"><path transform="translate(-1.750,-0.5)" d="M.6,.9C.54,.97 .46,1 .36,1C.13,1 0,.8 0,.5C0,.2 .13,0 .36,0C.46,0 .54,.03 .6,.1"/><path transform="translate(-0.770,-0.5)" d="M.08,.2L.32,0V1M.05,1H.6"/><path transform="translate(0.190,-0.5)" d="M.3,0C.1,0 0,.2 0,.5C0,.8 .1,1 .3,1C.5,1 .6,.8 .6,.5C.6,.2 .5,0 .3,0Z"/><path transform="translate(1.150,-0.5)" d="M0,0H.6L.22,1"/></g>
<path d="M1865.0,17.0 L1865.0,2850.0 L15.0,2850.0" fill="none" stroke="#ffffff" stroke-width="4.5" stroke-linecap="butt" stroke-linejoin="round" />
<path d="M1984.0,17.0 L1984.0,3951.0" fill="none" stroke="#ffffff" stroke-width="4.5" stroke-linecap="butt" stroke-linejoin="round" />
<path d="M15.0,3284.0 L1984.0,3284.0" fill="none" stroke="#ffffff" stroke-width="4.5" stroke-linecap="butt" stroke-linejoin="round" />
</g>
<g id="comp">
<g transform="translate(964.2,16.3)"><rect x="-134.8" y="286" width="20.6" height="35" fill="#a0a0a0"/><rect x="-133.8" y="286" width="18.6" height="25" fill="#ffffaa"/><rect x="-125.2" y="288" width="1.4" height="23" fill="#c8c890"/><rect x="-107.2" y="286" width="24.4" height="35" fill="#a0a0a0"/><rect x="-106.2" y="286" width="22.4" height="25" fill="#ffffaa"/><rect x="-95.7" y="288" width="1.4" height="23" fill="#c8c890"/><rect x="-76.2" y="286" width="13.7" height="35" fill="#a0a0a0"/><rect x="-75.2" y="286" width="11.7" height="25" fill="#ffffaa"/><rect x="-55.9" y="286" width="13.2" height="35" fill="#a0a0a0"/><rect x="-54.9" y="286" width="11.2" height="25" fill="#ffffaa"/><rect x="-36.5" y="286" width="13.6" height="35" fill="#a0a0a0"/><rect x="-35.5" y="286" width="11.6" height="25" fill="#ffffaa"/><rect x="-16.7" y="286" width="13.1" height="35" fill="#a0a0a0"/><rect x="-15.7" y="286" width="11.1" height="25" fill="#ffffaa"/><rect x="3.1" y="286" width="13.6" height="35" fill="#a0a0a0"/><rect x="4.1" y="286" width="11.6" height="25" fill="#ffffaa"/><rect x="22.8" y="286" width="13.2" height="35" fill="#a0a0a0"/><rect x="23.8" y="286" width="11.2" height="25" fill="#ffffaa"/><rect x="42.2" y="286" width="13.4" height="35" fill="#a0a0a0"/><rect x="43.2" y="286" width="11.4" height="25" fill="#ffffaa"/><rect x="62.0" y="286" width="12.8" height="35" fill="#a0a0a0"/><rect x="63.0" y="286" width="10.8" height="25" fill="#ffffaa"/><rect x="81.8" y="286" width="24.0" height="35" fill="#a0a0a0"/><rect x="82.8" y="286" width="22.0" height="25" fill="#ffffaa"/><rect x="93.1" y="288" width="1.4" height="23" fill="#c8c890"/><rect x="113.0" y="286" width="25.3" height="35" fill="#a0a0a0"/><rect x="114.0" y="286" width="23.3" height="25" fill="#ffffaa"/><rect x="124.9" y="288" width="1.4" height="23" fill="#c8c890"/><rect x="-182.4" y="-1" width="6.4" height="73" fill="#fff"/><rect x="-182.4" y="147" width="6.4" height="84" fill="#fff"/><rect x="176.0" y="-1" width="6.4" height="73" fill="#fff"/><rect x="176.0" y="147" width="6.4" height="84" fill="#fff"/><rect x="-176" y="0" width="352" height="288.4" rx="3" fill="url(#usbg)"/><rect x="-176" y="0" width="352" height="3" fill="#888" opacity="0.6"/><rect x="-176" y="261" width="31" height="27.4" fill="#555"/><rect x="145" y="261" width="31" height="27.4" fill="#555"/><rect x="-69" y="264" width="138" height="24.4" fill="url(#usbb)"/><path d="M-90,253.5 h47 q3,0 3,3 v8 h-28.5 v23.9 h-21.5z" fill="#555"/><path d="M-68.5,253.5 h25.5 q3,0 3,3 v8 h-28.5z" fill="#444"/><path d="M90,253.5 h-47 q-3,0 -3,3 v8 h28.5 v23.9 h21.5z" fill="#555"/><path d="M68.5,253.5 h-25.5 q-3,0 -3,3 v8 h28.5z" fill="#444"/><g transform="translate(-106.2,0)"><rect x="0" y="22.7" width="70.4" height="97.3" rx="8" fill="#464646"/><path d="M0,30 q0,-7.3 7,-7.3 h2 v85.6 h-9z" fill="#ffffaa"/><path d="M11.5,27 h47 l-10.5,79 q-1,3.5 -4,3.5 h-18.5 q-3,0 -4,-3.5z" fill="#d0d0d0"/><path d="M61.5,23 h5 l-1.5,85 h-12 v-42z" fill="#ffffaa"/></g><g transform="translate(105.9,0) scale(-1,1)"><rect x="0" y="22.7" width="70.4" height="97.3" rx="8" fill="#464646"/><path d="M0,30 q0,-7.3 7,-7.3 h2 v85.6 h-9z" fill="#ffffaa"/><path d="M11.5,27 h47 l-10.5,79 q-1,3.5 -4,3.5 h-18.5 q-3,0 -4,-3.5z" fill="#d0d0d0"/><path d="M61.5,23 h5 l-1.5,85 h-12 v-42z" fill="#ffffaa"/></g><rect x="-98.4" y="180.5" width="39.2" height="19.3" rx="4" fill="#cfcfcf" stroke="#858585" stroke-width="1.6"/><rect x="-93.4" y="188" width="29" height="3" rx="1.5" fill="#f4f4f4"/><rect x="59.3" y="180.5" width="39.2" height="19.3" rx="4" fill="#cfcfcf" stroke="#858585" stroke-width="1.6"/><rect x="64.3" y="188" width="29" height="3" rx="1.5" fill="#f4f4f4"/><circle cx="-114" cy="246.9" r="10" fill="#ff00ff"/><circle cx="114" cy="246.9" r="10" fill="#ff00ff"/></g>
<g transform="translate(3106.3,16.3)"><rect x="-134.8" y="286" width="20.6" height="35" fill="#a0a0a0"/><rect x="-133.8" y="286" width="18.6" height="25" fill="#ffffaa"/><rect x="-125.2" y="288" width="1.4" height="23" fill="#c8c890"/><rect x="-107.2" y="286" width="24.4" height="35" fill="#a0a0a0"/><rect x="-106.2" y="286" width="22.4" height="25" fill="#ffffaa"/><rect x="-95.7" y="288" width="1.4" height="23" fill="#c8c890"/><rect x="-76.2" y="286" width="13.7" height="35" fill="#a0a0a0"/><rect x="-75.2" y="286" width="11.7" height="25" fill="#ffffaa"/><rect x="-55.9" y="286" width="13.2" height="35" fill="#a0a0a0"/><rect x="-54.9" y="286" width="11.2" height="25" fill="#ffffaa"/><rect x="-36.5" y="286" width="13.6" height="35" fill="#a0a0a0"/><rect x="-35.5" y="286" width="11.6" height="25" fill="#ffffaa"/><rect x="-16.7" y="286" width="13.1" height="35" fill="#a0a0a0"/><rect x="-15.7" y="286" width="11.1" height="25" fill="#ffffaa"/><rect x="3.1" y="286" width="13.6" height="35" fill="#a0a0a0"/><rect x="4.1" y="286" width="11.6" height="25" fill="#ffffaa"/><rect x="22.8" y="286" width="13.2" height="35" fill="#a0a0a0"/><rect x="23.8" y="286" width="11.2" height="25" fill="#ffffaa"/><rect x="42.2" y="286" width="13.4" height="35" fill="#a0a0a0"/><rect x="43.2" y="286" width="11.4" height="25" fill="#ffffaa"/><rect x="62.0" y="286" width="12.8" height="35" fill="#a0a0a0"/><rect x="63.0" y="286" width="10.8" height="25" fill="#ffffaa"/><rect x="81.8" y="286" width="24.0" height="35" fill="#a0a0a0"/><rect x="82.8" y="286" width="22.0" height="25" fill="#ffffaa"/><rect x="93.1" y="288" width="1.4" height="23" fill="#c8c890"/><rect x="113.0" y="286" width="25.3" height="35" fill="#a0a0a0"/><rect x="114.0" y="286" width="23.3" height="25" fill="#ffffaa"/><rect x="124.9" y="288" width="1.4" height="23" fill="#c8c890"/><rect x="-182.4" y="-1" width="6.4" height="73" fill="#fff"/><rect x="-182.4" y="147" width="6.4" height="84" fill="#fff"/><rect x="176.0" y="-1" width="6.4" height="73" fill="#fff"/><rect x="176.0" y="147" width="6.4" height="84" fill="#fff"/><rect x="-176" y="0" width="352" height="288.4" rx="3" fill="url(#usbg)"/><rect x="-176" y="0" width="352" height="3" fill="#888" opacity="0.6"/><rect x="-176" y="261" width="31" height="27.4" fill="#555"/><rect x="145" y="261" width="31" height="27.4" fill="#555"/><rect x="-69" y="264" width="138" height="24.4" fill="url(#usbb)"/><path d="M-90,253.5 h47 q3,0 3,3 v8 h-28.5 v23.9 h-21.5z" fill="#555"/><path d="M-68.5,253.5 h25.5 q3,0 3,3 v8 h-28.5z" fill="#444"/><path d="M90,253.5 h-47 q-3,0 -3,3 v8 h28.5 v23.9 h21.5z" fill="#555"/><path d="M68.5,253.5 h-25.5 q-3,0 -3,3 v8 h28.5z" fill="#444"/><g transform="translate(-106.2,0)"><rect x="0" y="22.7" width="70.4" height="97.3" rx="8" fill="#464646"/><path d="M0,30 q0,-7.3 7,-7.3 h2 v85.6 h-9z" fill="#ffffaa"/><path d="M11.5,27 h47 l-10.5,79 q-1,3.5 -4,3.5 h-18.5 q-3,0 -4,-3.5z" fill="#d0d0d0"/><path d="M61.5,23 h5 l-1.5,85 h-12 v-42z" fill="#ffffaa"/></g><g transform="translate(105.9,0) scale(-1,1)"><rect x="0" y="22.7" width="70.4" height="97.3" rx="8" fill="#464646"/><path d="M0,30 q0,-7.3 7,-7.3 h2 v85.6 h-9z" fill="#ffffaa"/><path d="M11.5,27 h47 l-10.5,79 q-1,3.5 -4,3.5 h-18.5 q-3,0 -4,-3.5z" fill="#d0d0d0"/><path d="M61.5,23 h5 l-1.5,85 h-12 v-42z" fill="#ffffaa"/></g><rect x="-98.4" y="180.5" width="39.2" height="19.3" rx="4" fill="#cfcfcf" stroke="#858585" stroke-width="1.6"/><rect x="-93.4" y="188" width="29" height="3" rx="1.5" fill="#f4f4f4"/><rect x="59.3" y="180.5" width="39.2" height="19.3" rx="4" fill="#cfcfcf" stroke="#858585" stroke-width="1.6"/><rect x="64.3" y="188" width="29" height="3" rx="1.5" fill="#f4f4f4"/><circle cx="-114" cy="246.9" r="10" fill="#ff00ff"/><circle cx="114" cy="246.9" r="10" fill="#ff00ff"/></g>
<rect x="1459.2" y="113.4" width="31.5" height="64.0" rx="0.0" fill="#f2f2f2" />
<rect x="1459.2" y="123.9" width="31.5" height="43.0" rx="0.0" fill="#555555" />
<rect x="1048.7" y="533.4" width="15.6" height="42" fill="url(#pinT)"/>
<rect x="1048.7" y="727.6" width="15.6" height="42" fill="url(#pinB)"/>
<rect x="1088.0" y="533.4" width="15.6" height="42" fill="url(#pinT)"/>
<rect x="1088.0" y="727.6" width="15.6" height="42" fill="url(#pinB)"/>
<rect x="1127.3" y="533.4" width="15.6" height="42" fill="url(#pinT)"/>
<rect x="1127.3" y="727.6" width="15.6" height="42" fill="url(#pinB)"/>
<rect x="1166.6" y="533.4" width="15.6" height="42" fill="url(#pinT)"/>
<rect x="1166.6" y="727.6" width="15.6" height="42" fill="url(#pinB)"/>
<rect x="1205.9" y="533.4" width="15.6" height="42" fill="url(#pinT)"/>
<rect x="1205.9" y="727.6" width="15.6" height="42" fill="url(#pinB)"/>
<rect x="1048.7" y="533.4" width="15.6" height="42" fill="url(#pinT)"/>
<rect x="1048.7" y="727.6" width="15.6" height="42" fill="url(#pinB)"/>
<rect x="1088.0" y="533.4" width="15.6" height="42" fill="url(#pinT)"/>
<rect x="1088.0" y="727.6" width="15.6" height="42" fill="url(#pinB)"/>
<rect x="1127.3" y="533.4" width="15.6" height="42" fill="url(#pinT)"/>
<rect x="1127.3" y="727.6" width="15.6" height="42" fill="url(#pinB)"/>
<rect x="1166.6" y="533.4" width="15.6" height="42" fill="url(#pinT)"/>
<rect x="1166.6" y="727.6" width="15.6" height="42" fill="url(#pinB)"/>
<rect x="1205.9" y="533.4" width="15.6" height="42" fill="url(#pinT)"/>
<rect x="1205.9" y="727.6" width="15.6" height="42" fill="url(#pinB)"/>
<rect x="1038.8" y="574.0" width="192.6" height="155" fill="#3d3d3d" stroke="#101010" stroke-width="3.2"/>
<circle cx="1207.8" cy="598.0" r="11.8" fill="#666666" />
<circle cx="1220.4" cy="501.0" r="11.5" fill="#ff00ff" />
<rect x="899.2" y="652.5" width="31.5" height="64.0" rx="0.0" fill="#f2f2f2" />
<rect x="899.2" y="663.0" width="31.5" height="43.0" rx="0.0" fill="#555555" />
<rect x="1326.5" y="810.6" width="31.5" height="64.0" rx="0.0" fill="#f2f2f2" />
<rect x="1326.5" y="821.1" width="31.5" height="43.0" rx="0.0" fill="#c8960a" />
<rect x="1535.2" y="576.4" width="64.0" height="31.5" rx="0.0" fill="#f2f2f2" />
<rect x="1545.7" y="576.4" width="43.0" height="31.5" rx="0.0" fill="#555555" />
<rect x="1535.2" y="677.2" width="64.0" height="31.5" rx="0.0" fill="#f2f2f2" />
<rect x="1545.7" y="677.2" width="43.0" height="31.5" rx="0.0" fill="#555555" />
<rect x="1703.5" y="677.2" width="64.0" height="31.5" rx="0.0" fill="#f2f2f2" />
<rect x="1714.0" y="677.2" width="43.0" height="31.5" rx="0.0" fill="#555555" />
<rect x="3558.8" y="123.2" width="31.5" height="64.0" rx="0.0" fill="#f2f2f2" />
<rect x="3558.8" y="133.7" width="31.5" height="43.0" rx="0.0" fill="#555555" />
<rect x="3216.8" y="546.6" width="15.6" height="42" fill="url(#pinT)"/>
<rect x="3216.8" y="740.8" width="15.6" height="42" fill="url(#pinB)"/>
<rect x="3256.1" y="546.6" width="15.6" height="42" fill="url(#pinT)"/>
<rect x="3256.1" y="740.8" width="15.6" height="42" fill="url(#pinB)"/>
<rect x="3295.4" y="546.6" width="15.6" height="42" fill="url(#pinT)"/>
<rect x="3295.4" y="740.8" width="15.6" height="42" fill="url(#pinB)"/>
<rect x="3334.7" y="546.6" width="15.6" height="42" fill="url(#pinT)"/>
<rect x="3334.7" y="740.8" width="15.6" height="42" fill="url(#pinB)"/>
<rect x="3374.0" y="546.6" width="15.6" height="42" fill="url(#pinT)"/>
<rect x="3374.0" y="740.8" width="15.6" height="42" fill="url(#pinB)"/>
<rect x="3216.8" y="546.6" width="15.6" height="42" fill="url(#pinT)"/>
<rect x="3216.8" y="740.8" width="15.6" height="42" fill="url(#pinB)"/>
<rect x="3256.1" y="546.6" width="15.6" height="42" fill="url(#pinT)"/>
<rect x="3256.1" y="740.8" width="15.6" height="42" fill="url(#pinB)"/>
<rect x="3295.4" y="546.6" width="15.6" height="42" fill="url(#pinT)"/>
<rect x="3295.4" y="740.8" width="15.6" height="42" fill="url(#pinB)"/>
<rect x="3334.7" y="546.6" width="15.6" height="42" fill="url(#pinT)"/>
<rect x="3334.7" y="740.8" width="15.6" height="42" fill="url(#pinB)"/>
<rect x="3374.0" y="546.6" width="15.6" height="42" fill="url(#pinT)"/>
<rect x="3374.0" y="740.8" width="15.6" height="42" fill="url(#pinB)"/>
<rect x="3206.9" y="587.2" width="192.6" height="155" fill="#3d3d3d" stroke="#101010" stroke-width="3.2"/>
<circle cx="3375.9" cy="611.2" r="11.8" fill="#666666" />
<circle cx="3387.7" cy="514.7" r="11.5" fill="#ff00ff" />
<rect x="3049.2" y="666.1" width="31.5" height="64.0" rx="0.0" fill="#f2f2f2" />
<rect x="3049.2" y="676.6" width="31.5" height="43.0" rx="0.0" fill="#555555" />
<rect x="3529.6" y="822.4" width="31.5" height="64.0" rx="0.0" fill="#f2f2f2" />
<rect x="3529.6" y="832.9" width="31.5" height="43.0" rx="0.0" fill="#c8960a" />
<rect x="3633.0" y="589.5" width="64.0" height="31.5" rx="0.0" fill="#f2f2f2" />
<rect x="3643.5" y="589.5" width="43.0" height="31.5" rx="0.0" fill="#555555" />
<rect x="3633.0" y="700.0" width="64.0" height="31.5" rx="0.0" fill="#f2f2f2" />
<rect x="3643.5" y="700.0" width="43.0" height="31.5" rx="0.0" fill="#555555" />
<rect x="3793.0" y="700.0" width="64.0" height="31.5" rx="0.0" fill="#f2f2f2" />
<rect x="3803.5" y="700.0" width="43.0" height="31.5" rx="0.0" fill="#555555" />
</g>
</svg></body></html>
